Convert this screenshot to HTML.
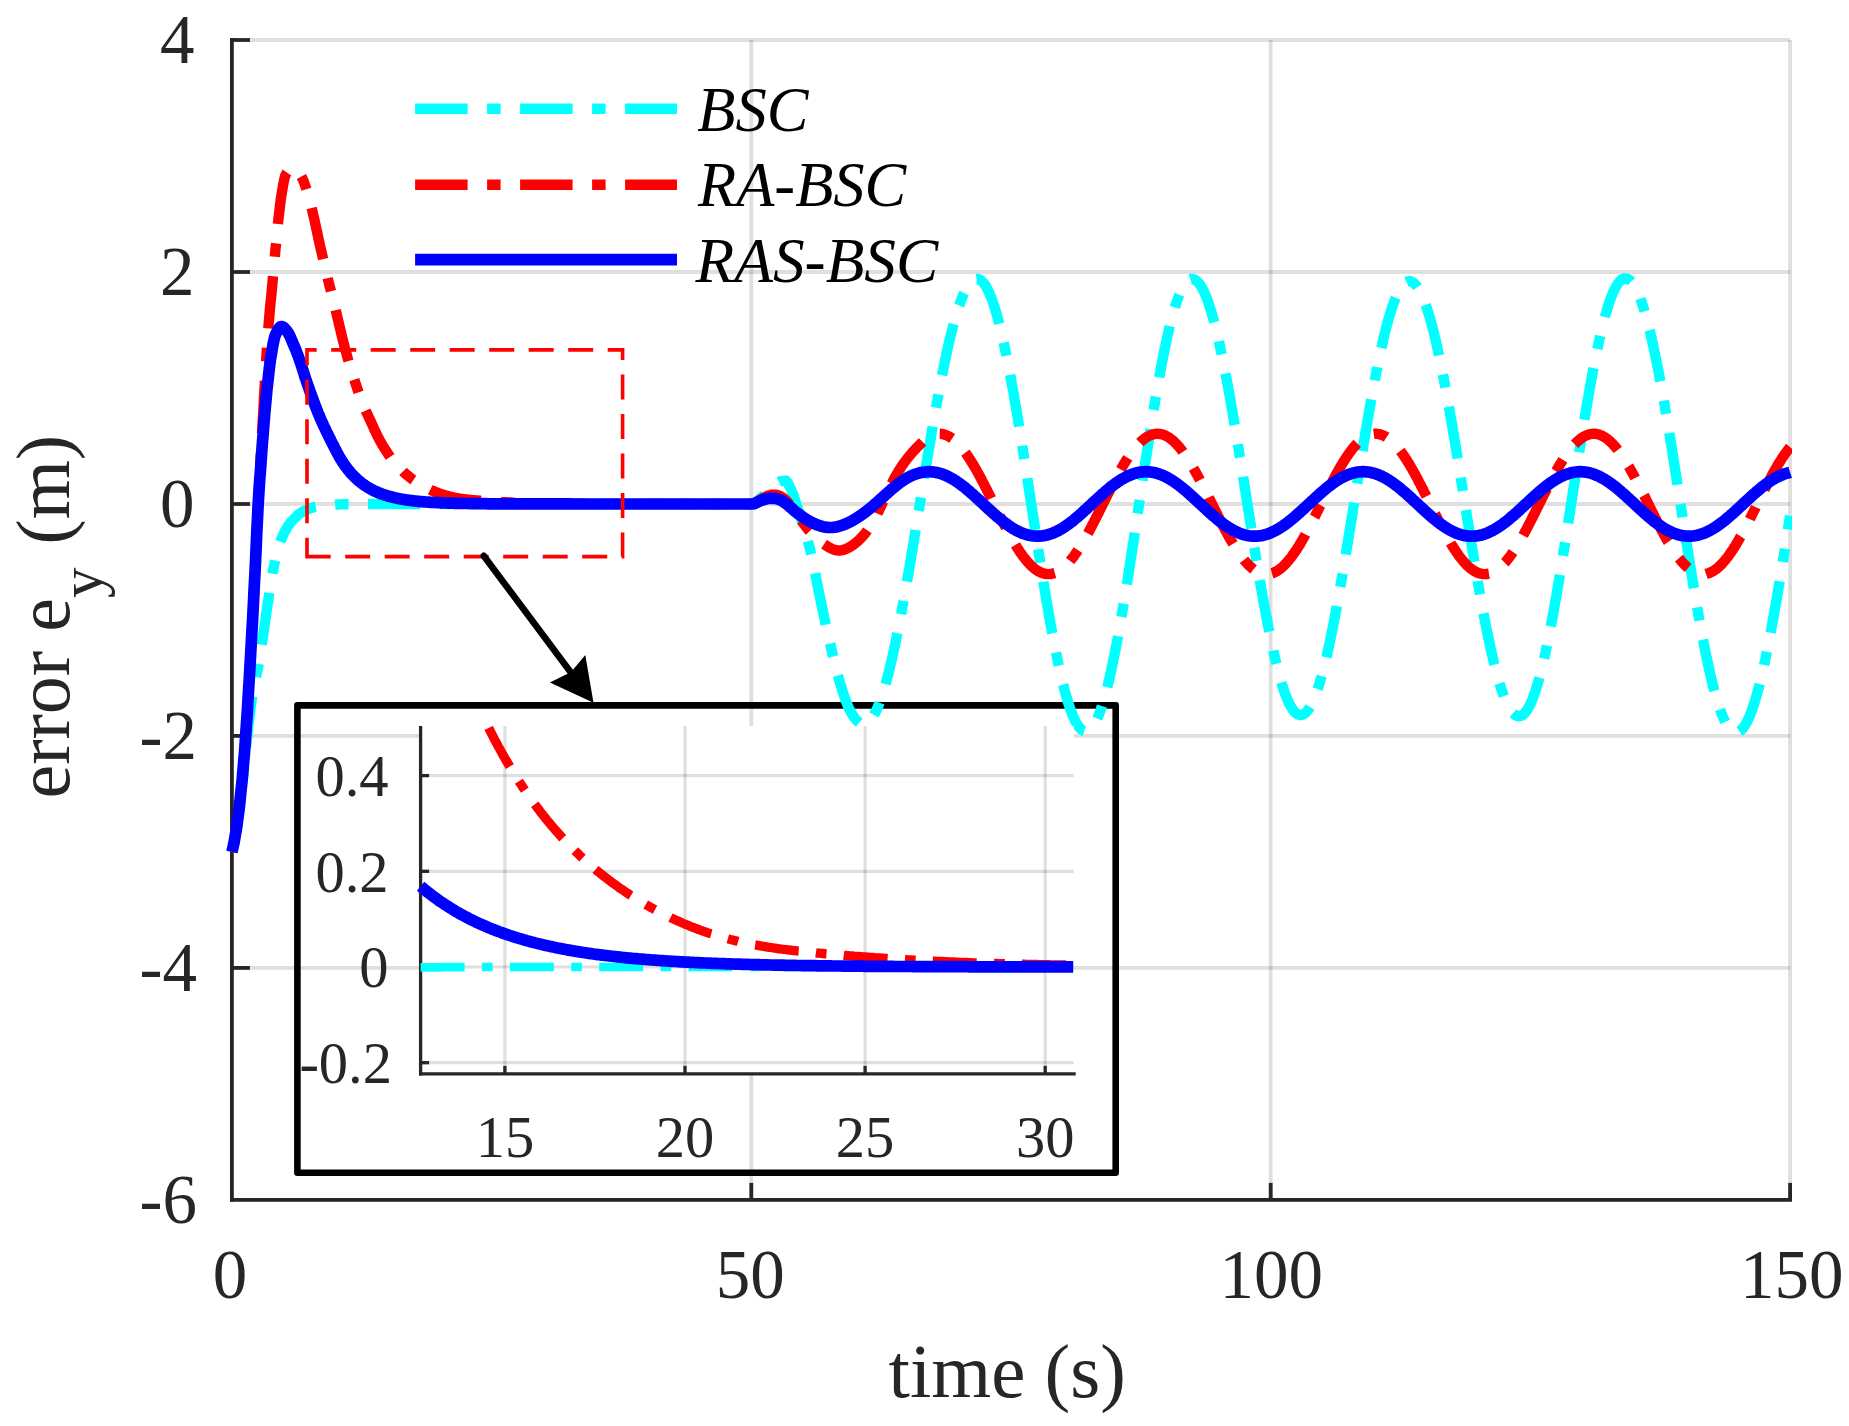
<!DOCTYPE html>
<html lang="en"><head><meta charset="utf-8"><title>error e_y</title>
<style>html,body{margin:0;padding:0;background:#fff}svg{display:block}text{font-family:"Liberation Serif",serif;fill:#262626}</style></head>
<body>
<svg width="1849" height="1426" viewBox="0 0 1849 1426">
<rect width="1849" height="1426" fill="#fff"/>
<defs>
<clipPath id="cm"><rect x="225.9" y="34.0" width="1566.1999999999998" height="1171.9"/></clipPath>
<clipPath id="ci"><rect x="408.6" y="726.0" width="665.1" height="347.79999999999995"/></clipPath>
</defs>
<g stroke="rgba(38,38,38,0.15)" stroke-width="3.8" fill="none">
<line x1="231.9" y1="40.0" x2="231.9" y2="1199.9"/>
<line x1="751.3" y1="40.0" x2="751.3" y2="1199.9"/>
<line x1="1270.7" y1="40.0" x2="1270.7" y2="1199.9"/>
<line x1="1790.1" y1="40.0" x2="1790.1" y2="1199.9"/>
<line x1="231.9" y1="40.0" x2="1790.1" y2="40.0"/>
<line x1="231.9" y1="272.0" x2="1790.1" y2="272.0"/>
<line x1="231.9" y1="504.0" x2="1790.1" y2="504.0"/>
<line x1="231.9" y1="735.9" x2="1790.1" y2="735.9"/>
<line x1="231.9" y1="967.9" x2="1790.1" y2="967.9"/>
<line x1="231.9" y1="1199.9" x2="1790.1" y2="1199.9"/>
</g>
<g stroke="#262626" stroke-width="3.8" fill="none" stroke-linecap="butt">
<path d="M231.9,38.1 V1201.8000000000002"/>
<path d="M230.0,1199.9 H1792.0"/>
<line x1="751.3" y1="1199.9" x2="751.3" y2="1182.9"/>
<line x1="1270.7" y1="1199.9" x2="1270.7" y2="1182.9"/>
<line x1="1790.1" y1="1199.9" x2="1790.1" y2="1182.9"/>
<line x1="231.9" y1="40.0" x2="249.9" y2="40.0"/>
<line x1="231.9" y1="272.0" x2="249.9" y2="272.0"/>
<line x1="231.9" y1="504.0" x2="249.9" y2="504.0"/>
<line x1="231.9" y1="735.9" x2="249.9" y2="735.9"/>
<line x1="231.9" y1="967.9" x2="249.9" y2="967.9"/>
</g>
<rect x="297.4" y="705.4" width="818.3" height="467.3" fill="none" stroke="#000" stroke-width="6.6" stroke-linejoin="round"/>
<g clip-path="url(#cm)" fill="none" stroke-width="10.4" stroke-linejoin="round">
<path d="M231.9,851.9 L232.5,849.6 L233.1,847.0 L233.8,844.1 L234.4,841.1 L235.0,837.9 L235.6,834.5 L236.3,831.0 L236.9,827.2 L237.5,823.1 L238.1,818.8 L238.8,814.2 L239.4,809.5 L240.0,804.5 L240.6,799.3 L241.2,793.8 L241.9,788.1 L242.5,782.2 L243.1,776.3 L243.7,770.4 L244.4,764.4 L245.0,758.2 L245.6,751.8 L246.2,745.5 L246.9,739.4 L247.5,733.6 L248.1,728.1 L248.7,722.7 L249.4,717.4 L250.0,712.3 L250.6,707.5 L251.2,703.0 L251.8,698.8 L252.5,695.0 L253.1,691.6 L253.7,688.3 L254.3,685.1 L255.0,682.1 L255.6,679.0 L256.2,675.9 L256.8,673.0 L257.5,670.1 L258.1,667.2 L258.7,664.0 L259.3,660.5 L259.9,656.7 L260.6,652.7 L261.2,648.5 L261.8,644.1 L262.4,639.8 L263.1,635.5 L263.7,631.3 L264.3,627.1 L264.9,622.8 L265.6,618.5 L266.2,614.2 L266.8,609.9 L267.4,605.7 L268.1,601.5 L268.7,597.4 L269.3,593.4 L269.9,589.4 L270.5,585.4 L271.2,581.4 L271.8,577.6 L272.4,574.0 L273.0,570.5 L273.7,567.3 L274.3,564.3 L274.9,561.4 L275.5,558.6 L276.2,555.9 L276.8,553.4 L277.4,551.1 L278.0,548.9 L278.6,546.9 L279.3,544.9 L279.9,543.0 L280.5,541.3 L281.1,539.7 L281.8,538.1 L282.4,536.7 L283.0,535.3 L283.6,533.9 L284.3,532.6 L284.9,531.4 L285.5,530.2 L286.1,529.1 L286.7,528.1 L287.4,527.1 L288.0,526.1 L288.6,525.2 L289.2,524.3 L289.9,523.5 L290.5,522.7 L291.1,521.9 L291.7,521.2 L292.4,520.5 L293.0,519.9 L293.6,519.2 L294.2,518.6 L294.9,518.0 L295.5,517.4 L296.1,516.8 L296.7,516.2 L297.3,515.6 L298.0,515.1 L298.6,514.6 L299.2,514.1 L299.8,513.6 L300.5,513.1 L301.1,512.7 L301.7,512.3 L302.3,511.9 L303.0,511.5 L303.6,511.2 L304.2,510.9 L304.8,510.6 L305.4,510.3 L306.1,510.0 L306.7,509.7 L307.3,509.5 L307.9,509.2 L308.6,508.9 L309.2,508.7 L309.8,508.4 L310.4,508.2 L311.1,508.0 L311.7,507.8 L312.3,507.6 L312.9,507.4 L313.5,507.3 L314.2,507.1 L314.8,507.0 L315.4,506.9 L316.0,506.8 L316.7,506.7 L317.3,506.6 L317.9,506.5 L318.5,506.4 L319.2,506.3 L319.8,506.2 L320.4,506.1 L321.0,506.0 L321.7,506.0 L322.3,505.9 L322.9,505.8 L323.5,505.7 L324.1,505.7 L324.8,505.6 L325.4,505.5 L326.0,505.4 L326.6,505.4 L327.3,505.3 L327.9,505.2 L328.5,505.2 L329.1,505.1 L329.8,505.1 L330.4,505.0 L331.0,505.0 L331.6,504.9 L332.2,504.8 L332.9,504.8 L333.5,504.8 L334.1,504.7 L334.7,504.7 L335.4,504.6 L336.0,504.6 L336.6,504.6 L337.2,504.5 L337.9,504.5 L338.5,504.5 L339.1,504.4 L339.7,504.4 L340.4,504.4 L341.0,504.4 L341.6,504.4 L342.2,504.3 L342.8,504.3 L343.5,504.3 L344.1,504.3 L344.7,504.3 L345.3,504.3 L346.0,504.3 L346.6,504.3 L347.2,504.3 L347.8,504.2 L348.5,504.2 L349.1,504.2 L349.7,504.2 L350.3,504.2 L350.9,504.2 L351.6,504.2 L352.2,504.2 L352.8,504.2 L353.4,504.2 L354.1,504.2 L354.7,504.2 L355.3,504.1 L355.9,504.1 L356.6,504.1 L357.2,504.1 L357.8,504.1 L358.4,504.1 L359.0,504.1 L359.7,504.1 L360.3,504.1 L360.9,504.1 L361.5,504.1 L362.2,504.1 L362.8,504.1 L363.4,504.1 L364.0,504.1 L364.7,504.1 L365.3,504.1 L365.9,504.0 L366.5,504.0 L367.2,504.0 L367.8,504.0 L368.4,504.0 L369.0,504.0 L369.6,504.0 L370.3,504.0 L370.9,504.0 L371.5,504.0 L372.1,504.0 L372.8,504.0 L373.4,504.0 L374.0,504.0 L374.6,504.0 L375.3,504.0 L375.9,504.0 L376.5,504.0 L377.1,504.0 L377.7,504.0 L378.4,504.0 L379.0,504.0 L379.6,504.0 L380.2,504.0 L380.9,504.0 L381.5,504.0 L382.1,504.0 L382.7,504.0 L383.4,504.0 L384.0,504.0 L384.6,504.0 L385.2,504.0 L385.9,504.0 L386.5,504.0 L387.1,504.0 L387.7,504.0 L388.3,504.0 L389.0,504.0 L389.6,504.0 L390.2,504.0 L390.8,504.0 L391.5,504.0 L392.1,504.0 L392.7,504.0 L393.3,504.0 L394.0,504.0 L394.6,504.0 L395.2,504.0 L395.8,504.0 L396.4,504.0 L397.1,504.0 L397.7,504.0 L398.3,504.0 L398.9,504.0 L399.6,504.0 L400.2,504.0 L400.8,504.0 L401.4,504.0 L402.1,504.0 L402.7,504.0 L403.3,504.0 L403.9,504.0 L404.5,504.0 L405.2,504.0 L405.8,504.0 L406.4,504.0 L407.0,504.0 L407.7,504.0 L408.3,504.0 L408.9,504.0 L409.5,504.0 L410.2,504.0 L410.8,504.0 L411.4,504.0 L412.0,504.0 L412.7,504.0 L413.3,504.0 L413.9,504.0 L414.5,504.0 L415.1,504.0 L415.8,504.0 L416.4,504.0 L417.0,504.0 L417.6,504.0 L418.3,504.0 L418.9,504.0 L419.5,504.0 L420.1,504.0 L420.8,504.0 L421.4,504.0 L422.0,504.0 L422.6,504.0 L423.2,504.0 L423.9,504.0 L424.5,504.0 L425.1,504.0 L425.7,504.0 L426.4,504.0 L427.0,504.0 L427.6,504.0 L428.2,504.0 L428.9,504.0 L429.5,504.0 L430.1,504.0 L430.7,504.0 L431.3,504.0 L432.0,504.0 L432.6,504.0 L433.2,504.0 L433.8,504.0 L434.5,504.0 L435.1,504.0 L435.7,504.0 L436.3,504.0 L437.0,504.0 L437.6,504.0 L438.2,504.0 L438.8,504.0 L439.5,504.0 L440.1,504.0 L440.7,504.0 L441.3,504.0 L441.9,504.0 L442.6,504.0 L443.2,504.0 L443.8,504.0 L444.4,504.0 L445.1,504.0 L445.7,504.0 L446.3,504.0 L446.9,504.0 L447.6,504.0 L448.2,504.0 L448.8,504.0 L449.4,504.0 L450.0,504.0 L450.7,504.0 L451.3,504.0 L451.9,504.0 L452.5,504.0 L453.2,504.0 L453.8,504.0 L454.4,504.0 L455.0,504.0 L455.7,504.0 L456.3,504.0 L456.9,504.0 L457.5,504.0 L458.2,504.0 L458.8,504.0 L459.4,504.0 L460.0,504.0 L460.6,504.0 L461.3,504.0 L461.9,504.0 L462.5,504.0 L463.1,504.0 L463.8,504.0 L464.4,504.0 L465.0,504.0 L465.6,504.0 L466.3,504.0 L466.9,504.0 L467.5,504.0 L468.1,504.0 L468.7,504.0 L469.4,504.0 L470.0,504.0 L470.6,504.0 L471.2,504.0 L471.9,504.0 L472.5,504.0 L473.1,504.0 L473.7,504.0 L474.4,504.0 L475.0,504.0 L475.6,504.0 L476.2,504.0 L476.8,504.0 L477.5,504.0 L478.1,504.0 L478.7,504.0 L479.3,504.0 L480.0,504.0 L480.6,504.0 L481.2,504.0 L481.8,504.0 L482.5,504.0 L483.1,504.0 L483.7,504.0 L484.3,504.0 L485.0,504.0 L485.6,504.0 L486.2,504.0 L486.8,504.0 L487.4,504.0 L488.1,504.0 L488.7,504.0 L489.3,504.0 L489.9,504.0 L490.6,504.0 L491.2,504.0 L491.8,504.0 L492.4,504.0 L493.1,504.0 L493.7,504.0 L494.3,504.0 L494.9,504.0 L495.5,504.0 L496.2,504.0 L496.8,504.0 L497.4,504.0 L498.0,504.0 L498.7,504.0 L499.3,504.0 L499.9,504.0 L500.5,504.0 L501.2,504.0 L501.8,504.0 L502.4,504.0 L503.0,504.0 L503.7,504.0 L504.3,504.0 L504.9,504.0 L505.5,504.0 L506.1,504.0 L506.8,504.0 L507.4,504.0 L508.0,504.0 L508.6,504.0 L509.3,504.0 L509.9,504.0 L510.5,504.0 L511.1,504.0 L511.8,504.0 L512.4,504.0 L513.0,504.0 L513.6,504.0 L514.2,504.0 L514.9,504.0 L515.5,504.0 L516.1,504.0 L516.7,504.0 L517.4,504.0 L518.0,504.0 L518.6,504.0 L519.2,504.0 L519.9,504.0 L520.5,504.0 L521.1,504.0 L521.7,504.0 L522.3,504.0 L523.0,504.0 L523.6,504.0 L524.2,504.0 L524.8,504.0 L525.5,504.0 L526.1,504.0 L526.7,504.0 L527.3,504.0 L528.0,504.0 L528.6,504.0 L529.2,504.0 L529.8,504.0 L530.5,504.0 L531.1,504.0 L531.7,504.0 L532.3,504.0 L532.9,504.0 L533.6,504.0 L534.2,504.0 L534.8,504.0 L535.4,504.0 L536.1,504.0 L536.7,504.0 L537.3,504.0 L537.9,504.0 L538.6,504.0 L539.2,504.0 L539.8,504.0 L540.4,504.0 L541.0,504.0 L541.7,504.0 L542.3,504.0 L542.9,504.0 L543.5,504.0 L544.2,504.0 L544.8,504.0 L545.4,504.0 L546.0,504.0 L546.7,504.0 L547.3,504.0 L547.9,504.0 L548.5,504.0 L549.1,504.0 L549.8,504.0 L550.4,504.0 L551.0,504.0 L551.6,504.0 L552.3,504.0 L552.9,504.0 L553.5,504.0 L554.1,504.0 L554.8,504.0 L555.4,504.0 L556.0,504.0 L556.6,504.0 L557.3,504.0 L557.9,504.0 L558.5,504.0 L559.1,504.0 L559.7,504.0 L560.4,504.0 L561.0,504.0 L561.6,504.0 L562.2,504.0 L562.9,504.0 L563.5,504.0 L564.1,504.0 L564.7,504.0 L565.4,504.0 L566.0,504.0 L566.6,504.0 L567.2,504.0 L567.8,504.0 L568.5,504.0 L569.1,504.0 L569.7,504.0 L570.3,504.0 L571.0,504.0 L571.6,504.0 L572.2,504.0 L572.8,504.0 L573.5,504.0 L574.1,504.0 L574.7,504.0 L575.3,504.0 L576.0,504.0 L576.6,504.0 L577.2,504.0 L577.8,504.0 L578.4,504.0 L579.1,504.0 L579.7,504.0 L580.3,504.0 L580.9,504.0 L581.6,504.0 L582.2,504.0 L582.8,504.0 L583.4,504.0 L584.1,504.0 L584.7,504.0 L585.3,504.0 L585.9,504.0 L586.5,504.0 L587.2,504.0 L587.8,504.0 L588.4,504.0 L589.0,504.0 L589.7,504.0 L590.3,504.0 L590.9,504.0 L591.5,504.0 L592.2,504.0 L592.8,504.0 L593.4,504.0 L594.0,504.0 L594.6,504.0 L595.3,504.0 L595.9,504.0 L596.5,504.0 L597.1,504.0 L597.8,504.0 L598.4,504.0 L599.0,504.0 L599.6,504.0 L600.3,504.0 L600.9,504.0 L601.5,504.0 L602.1,504.0 L602.8,504.0 L603.4,504.0 L604.0,504.0 L604.6,504.0 L605.2,504.0 L605.9,504.0 L606.5,504.0 L607.1,504.0 L607.7,504.0 L608.4,504.0 L609.0,504.0 L609.6,504.0 L610.2,504.0 L610.9,504.0 L611.5,504.0 L612.1,504.0 L612.7,504.0 L613.3,504.0 L614.0,504.0 L614.6,504.0 L615.2,504.0 L615.8,504.0 L616.5,504.0 L617.1,504.0 L617.7,504.0 L618.3,504.0 L619.0,504.0 L619.6,504.0 L620.2,504.0 L620.8,504.0 L621.4,504.0 L622.1,504.0 L622.7,504.0 L623.3,504.0 L623.9,504.0 L624.6,504.0 L625.2,504.0 L625.8,504.0 L626.4,504.0 L627.1,504.0 L627.7,504.0 L628.3,504.0 L628.9,504.0 L629.6,504.0 L630.2,504.0 L630.8,504.0 L631.4,504.0 L632.0,504.0 L632.7,504.0 L633.3,504.0 L633.9,504.0 L634.5,504.0 L635.2,504.0 L635.8,504.0 L636.4,504.0 L637.0,504.0 L637.7,504.0 L638.3,504.0 L638.9,504.0 L639.5,504.0 L640.1,504.0 L640.8,504.0 L641.4,504.0 L642.0,504.0 L642.6,504.0 L643.3,504.0 L643.9,504.0 L644.5,504.0 L645.1,504.0 L645.8,504.0 L646.4,504.0 L647.0,504.0 L647.6,504.0 L648.3,504.0 L648.9,504.0 L649.5,504.0 L650.1,504.0 L650.7,504.0 L651.4,504.0 L652.0,504.0 L652.6,504.0 L653.2,504.0 L653.9,504.0 L654.5,504.0 L655.1,504.0 L655.7,504.0 L656.4,504.0 L657.0,504.0 L657.6,504.0 L658.2,504.0 L658.8,504.0 L659.5,504.0 L660.1,504.0 L660.7,504.0 L661.3,504.0 L662.0,504.0 L662.6,504.0 L663.2,504.0 L663.8,504.0 L664.5,504.0 L665.1,504.0 L665.7,504.0 L666.3,504.0 L666.9,504.0 L667.6,504.0 L668.2,504.0 L668.8,504.0 L669.4,504.0 L670.1,504.0 L670.7,504.0 L671.3,504.0 L671.9,504.0 L672.6,504.0 L673.2,504.0 L673.8,504.0 L674.4,504.0 L675.1,504.0 L675.7,504.0 L676.3,504.0 L676.9,504.0 L677.5,504.0 L678.2,504.0 L678.8,504.0 L679.4,504.0 L680.0,504.0 L680.7,504.0 L681.3,504.0 L681.9,504.0 L682.5,504.0 L683.2,504.0 L683.8,504.0 L684.4,504.0 L685.0,504.0 L685.6,504.0 L686.3,504.0 L686.9,504.0 L687.5,504.0 L688.1,504.0 L688.8,504.0 L689.4,504.0 L690.0,504.0 L690.6,504.0 L691.3,504.0 L691.9,504.0 L692.5,504.0 L693.1,504.0 L693.8,504.0 L694.4,504.0 L695.0,504.0 L695.6,504.0 L696.2,504.0 L696.9,504.0 L697.5,504.0 L698.1,504.0 L698.7,504.0 L699.4,504.0 L700.0,504.0 L700.6,504.0 L701.2,504.0 L701.9,504.0 L702.5,504.0 L703.1,504.0 L703.7,504.0 L704.3,504.0 L705.0,504.0 L705.6,504.0 L706.2,504.0 L706.8,504.0 L707.5,504.0 L708.1,504.0 L708.7,504.0 L709.3,504.0 L710.0,504.0 L710.6,504.0 L711.2,504.0 L711.8,504.0 L712.4,504.0 L713.1,504.0 L713.7,504.0 L714.3,504.0 L714.9,504.0 L715.6,504.0 L716.2,504.0 L716.8,504.0 L717.4,504.0 L718.1,504.0 L718.7,504.0 L719.3,504.0 L719.9,504.0 L720.6,504.0 L721.2,504.0 L721.8,504.0 L722.4,504.0 L723.0,504.0 L723.7,504.0 L724.3,504.0 L724.9,504.0 L725.5,504.0 L726.2,504.0 L726.8,504.0 L727.4,504.0 L728.0,504.0 L728.7,504.0 L729.3,504.0 L729.9,504.0 L730.5,504.0 L731.1,504.0 L731.8,504.0 L732.4,504.0 L733.0,504.0 L733.6,504.0 L734.3,504.0 L734.9,504.0 L735.5,504.0 L736.1,504.0 L736.8,504.0 L737.4,504.0 L738.0,504.0 L738.6,504.0 L739.2,504.0 L739.9,504.0 L740.5,504.0 L741.1,504.0 L741.7,504.0 L742.4,504.0 L743.0,504.0 L743.6,504.0 L744.2,504.0 L744.9,504.0 L745.5,504.0 L746.1,504.0 L746.7,504.0 L747.4,504.0 L748.0,504.0 L748.6,504.0 L749.2,504.0 L749.8,504.0 L750.5,504.0 L751.1,504.0 L751.7,503.8 L752.3,503.6 L753.0,503.4 L753.6,503.2 L754.2,502.9 L754.8,502.6 L755.5,502.2 L756.1,501.8 L756.7,501.4 L757.3,500.9 L757.9,500.4 L758.6,499.9 L759.2,499.3 L759.8,498.7 L760.4,498.1 L761.1,497.6 L761.7,497.0 L762.3,496.5 L762.9,495.9 L763.6,495.4 L764.2,494.8 L764.8,494.2 L765.4,493.6 L766.1,493.1 L766.7,492.5 L767.3,491.9 L767.9,491.4 L768.5,490.8 L769.2,490.2 L769.8,489.7 L770.4,489.1 L771.0,488.6 L771.7,488.1 L772.3,487.5 L772.9,487.0 L773.5,486.4 L774.2,485.8 L774.8,485.2 L775.4,484.6 L776.0,484.1 L776.6,483.5 L777.3,483.0 L777.9,482.5 L778.5,482.1 L779.1,481.8 L779.8,481.5 L780.4,481.3 L781.0,481.2 L781.6,481.1 L782.3,481.0 L782.9,480.9 L783.5,480.9 L784.1,480.8 L784.7,480.8 L785.4,480.8 L786.0,480.8 L786.6,481.3 L787.2,482.0 L787.9,483.0 L788.5,484.1 L789.1,485.4 L789.7,486.7 L790.4,488.0 L791.0,489.3 L791.6,490.7 L792.2,492.2 L792.9,493.8 L793.5,495.5 L794.1,497.3 L794.7,499.1 L795.3,501.0 L796.0,502.8 L796.6,504.6 L797.2,506.5 L797.8,508.4 L798.5,510.4 L799.1,512.4 L799.7,514.4 L800.3,516.4 L801.0,518.4 L801.6,520.5 L802.2,522.6 L802.8,524.6 L803.4,526.7 L804.1,528.7 L804.7,530.8 L805.3,532.8 L805.9,534.8 L806.6,536.9 L807.2,539.0 L807.8,541.1 L808.4,543.3 L809.1,545.6 L809.7,547.9 L810.3,550.4 L810.9,552.9 L811.6,555.6 L812.2,558.4 L812.8,561.4 L813.4,564.4 L814.0,567.4 L814.7,570.6 L815.3,573.8 L815.9,577.0 L816.5,580.2 L817.2,583.4 L817.8,586.5 L818.4,589.7 L819.0,592.8 L819.7,595.8 L820.3,598.7 L820.9,601.7 L821.5,604.6 L822.1,607.5 L822.8,610.5 L823.4,613.4 L824.0,616.3 L824.6,619.2 L825.3,622.1 L825.9,624.9 L826.5,627.8 L827.1,630.6 L827.8,633.3 L828.4,636.1 L829.0,638.8 L829.6,641.5 L830.2,644.1 L830.9,646.8 L831.5,649.5 L832.1,652.2 L832.7,654.9 L833.4,657.5 L834.0,660.1 L834.6,662.7 L835.2,665.2 L835.9,667.7 L836.5,670.2 L837.1,672.6 L837.7,674.9 L838.4,677.1 L839.0,679.3 L839.6,681.4 L840.2,683.5 L840.8,685.5 L841.5,687.5 L842.1,689.5 L842.7,691.5 L843.3,693.4 L844.0,695.3 L844.6,697.2 L845.2,699.0 L845.8,700.7 L846.5,702.4 L847.1,704.0 L847.7,705.5 L848.3,707.0 L848.9,708.4 L849.6,709.6 L850.2,710.8 L850.8,711.9 L851.4,713.1 L852.1,714.1 L852.7,715.2 L853.3,716.1 L853.9,717.1 L854.6,717.9 L855.2,718.7 L855.8,719.5 L856.4,720.1 L857.0,720.7 L857.7,721.2 L858.3,721.7 L858.9,722.1 L859.5,722.6 L860.2,723.0 L860.8,723.3 L861.4,723.7 L862.0,723.9 L862.7,724.2 L863.3,724.3 L863.9,724.3 L864.5,724.2 L865.2,724.1 L865.8,723.9 L866.4,723.6 L867.0,723.3 L867.6,722.9 L868.3,722.4 L868.9,721.9 L869.5,721.3 L870.1,720.6 L870.8,719.8 L871.4,719.0 L872.0,718.2 L872.6,717.3 L873.3,716.3 L873.9,715.2 L874.5,714.1 L875.1,712.9 L875.7,711.7 L876.4,710.3 L877.0,709.0 L877.6,707.5 L878.2,706.0 L878.9,704.5 L879.5,702.9 L880.1,701.2 L880.7,699.5 L881.4,697.7 L882.0,695.8 L882.6,693.9 L883.2,691.9 L883.9,689.9 L884.5,687.8 L885.1,685.7 L885.7,683.5 L886.3,681.3 L887.0,679.0 L887.6,676.6 L888.2,674.2 L888.8,671.8 L889.5,669.3 L890.1,666.7 L890.7,664.1 L891.3,661.5 L892.0,658.8 L892.6,656.0 L893.2,653.2 L893.8,650.4 L894.4,647.5 L895.1,644.6 L895.7,641.6 L896.3,638.6 L896.9,635.6 L897.6,632.5 L898.2,629.4 L898.8,626.2 L899.4,623.0 L900.1,619.8 L900.7,616.5 L901.3,613.2 L901.9,609.8 L902.5,606.5 L903.2,603.1 L903.8,599.6 L904.4,596.2 L905.0,592.7 L905.7,589.2 L906.3,585.6 L906.9,582.0 L907.5,578.4 L908.2,574.8 L908.8,571.2 L909.4,567.5 L910.0,563.9 L910.7,560.2 L911.3,556.4 L911.9,552.7 L912.5,549.0 L913.1,545.2 L913.8,541.4 L914.4,537.6 L915.0,533.9 L915.6,530.0 L916.3,526.2 L916.9,522.4 L917.5,518.6 L918.1,514.8 L918.8,510.9 L919.4,507.1 L920.0,503.2 L920.6,499.4 L921.2,495.6 L921.9,491.7 L922.5,487.9 L923.1,484.1 L923.7,480.2 L924.4,476.4 L925.0,472.6 L925.6,468.8 L926.2,465.0 L926.9,461.2 L927.5,457.4 L928.1,453.7 L928.7,449.9 L929.4,446.2 L930.0,442.5 L930.6,438.8 L931.2,435.1 L931.8,431.5 L932.5,427.8 L933.1,424.2 L933.7,420.6 L934.3,417.1 L935.0,413.5 L935.6,410.0 L936.2,406.5 L936.8,403.1 L937.5,399.7 L938.1,396.3 L938.7,392.9 L939.3,389.6 L939.9,386.2 L940.6,383.0 L941.2,379.7 L941.8,376.6 L942.4,373.4 L943.1,370.3 L943.7,367.2 L944.3,364.2 L944.9,361.2 L945.6,358.2 L946.2,355.3 L946.8,352.4 L947.4,349.6 L948.0,346.8 L948.7,344.1 L949.3,341.4 L949.9,338.7 L950.5,336.1 L951.2,333.6 L951.8,331.1 L952.4,328.6 L953.0,326.3 L953.7,323.9 L954.3,321.6 L954.9,319.4 L955.5,317.2 L956.2,315.1 L956.8,313.0 L957.4,311.0 L958.0,309.0 L958.6,307.1 L959.3,305.3 L959.9,303.5 L960.5,301.8 L961.1,300.1 L961.8,298.5 L962.4,297.0 L963.0,295.5 L963.6,294.1 L964.3,292.7 L964.9,291.4 L965.5,290.2 L966.1,289.0 L966.7,287.9 L967.4,286.8 L968.0,285.9 L968.6,284.9 L969.2,284.1 L969.9,283.3 L970.5,282.6 L971.1,281.9 L971.7,281.3 L972.4,280.8 L973.0,280.3 L973.6,279.9 L974.2,279.6 L974.8,279.3 L975.5,279.1 L976.1,279.0 L976.7,278.9 L977.3,278.9 L978.0,279.0 L978.6,279.2 L979.2,279.4 L979.8,279.7 L980.5,280.0 L981.1,280.5 L981.7,281.0 L982.3,281.6 L983.0,282.2 L983.6,283.0 L984.2,283.8 L984.8,284.6 L985.4,285.6 L986.1,286.6 L986.7,287.7 L987.3,288.8 L987.9,290.1 L988.6,291.4 L989.2,292.7 L989.8,294.2 L990.4,295.7 L991.1,297.2 L991.7,298.9 L992.3,300.6 L992.9,302.4 L993.5,304.2 L994.2,306.1 L994.8,308.1 L995.4,310.1 L996.0,312.2 L996.7,314.3 L997.3,316.6 L997.9,318.8 L998.5,321.2 L999.2,323.6 L999.8,326.0 L1000.4,328.6 L1001.0,331.1 L1001.7,333.8 L1002.3,336.4 L1002.9,339.2 L1003.5,342.0 L1004.1,344.8 L1004.8,347.7 L1005.4,350.7 L1006.0,353.7 L1006.6,356.7 L1007.3,359.8 L1007.9,363.0 L1008.5,366.2 L1009.1,369.4 L1009.8,372.7 L1010.4,376.0 L1011.0,379.4 L1011.6,382.8 L1012.2,386.2 L1012.9,389.7 L1013.5,393.2 L1014.1,396.8 L1014.7,400.4 L1015.4,404.0 L1016.0,407.6 L1016.6,411.3 L1017.2,415.0 L1017.9,418.8 L1018.5,422.6 L1019.1,426.4 L1019.7,430.2 L1020.3,434.1 L1021.0,437.9 L1021.6,441.8 L1022.2,445.8 L1022.8,449.7 L1023.5,453.7 L1024.1,457.6 L1024.7,461.6 L1025.3,465.6 L1026.0,469.6 L1026.6,473.7 L1027.2,477.7 L1027.8,481.7 L1028.5,485.8 L1029.1,489.9 L1029.7,493.9 L1030.3,498.0 L1030.9,502.1 L1031.6,506.1 L1032.2,510.2 L1032.8,514.3 L1033.4,518.3 L1034.1,522.4 L1034.7,526.5 L1035.3,530.5 L1035.9,534.6 L1036.6,538.6 L1037.2,542.6 L1037.8,546.6 L1038.4,550.6 L1039.0,554.6 L1039.7,558.6 L1040.3,562.5 L1040.9,566.4 L1041.5,570.4 L1042.2,574.2 L1042.8,578.1 L1043.4,581.9 L1044.0,585.8 L1044.7,589.6 L1045.3,593.3 L1045.9,597.1 L1046.5,600.8 L1047.2,604.4 L1047.8,608.1 L1048.4,611.7 L1049.0,615.3 L1049.6,618.8 L1050.3,622.3 L1050.9,625.8 L1051.5,629.2 L1052.1,632.6 L1052.8,635.9 L1053.4,639.2 L1054.0,642.5 L1054.6,645.7 L1055.3,648.9 L1055.9,652.0 L1056.5,655.0 L1057.1,658.1 L1057.7,661.0 L1058.4,664.0 L1059.0,666.8 L1059.6,669.7 L1060.2,672.4 L1060.9,675.1 L1061.5,677.8 L1062.1,680.4 L1062.7,682.9 L1063.4,685.4 L1064.0,687.9 L1064.6,690.2 L1065.2,692.5 L1065.8,694.8 L1066.5,697.0 L1067.1,699.1 L1067.7,701.2 L1068.3,703.2 L1069.0,705.1 L1069.6,707.0 L1070.2,708.8 L1070.8,710.5 L1071.5,712.2 L1072.1,713.8 L1072.7,715.3 L1073.3,716.8 L1074.0,718.2 L1074.6,719.5 L1075.2,720.8 L1075.8,722.0 L1076.4,723.1 L1077.1,724.2 L1077.7,725.1 L1078.3,726.0 L1078.9,726.9 L1079.6,727.6 L1080.2,728.3 L1080.8,729.0 L1081.4,729.5 L1082.1,730.0 L1082.7,730.4 L1083.3,730.7 L1083.9,731.0 L1084.5,731.2 L1085.2,731.3 L1085.8,731.3 L1086.4,731.3 L1087.0,731.1 L1087.7,731.0 L1088.3,730.7 L1088.9,730.3 L1089.5,729.9 L1090.2,729.4 L1090.8,728.8 L1091.4,728.2 L1092.0,727.5 L1092.6,726.7 L1093.3,725.8 L1093.9,724.8 L1094.5,723.8 L1095.1,722.7 L1095.8,721.5 L1096.4,720.3 L1097.0,719.0 L1097.6,717.6 L1098.3,716.1 L1098.9,714.6 L1099.5,713.0 L1100.1,711.3 L1100.8,709.5 L1101.4,707.7 L1102.0,705.8 L1102.6,703.9 L1103.2,701.9 L1103.9,699.8 L1104.5,697.6 L1105.1,695.4 L1105.7,693.1 L1106.4,690.8 L1107.0,688.3 L1107.6,685.9 L1108.2,683.3 L1108.9,680.7 L1109.5,678.1 L1110.1,675.4 L1110.7,672.6 L1111.3,669.8 L1112.0,666.9 L1112.6,663.9 L1113.2,661.0 L1113.8,657.9 L1114.5,654.8 L1115.1,651.7 L1115.7,648.5 L1116.3,645.2 L1117.0,641.9 L1117.6,638.6 L1118.2,635.2 L1118.8,631.8 L1119.5,628.3 L1120.1,624.8 L1120.7,621.2 L1121.3,617.6 L1121.9,614.0 L1122.6,610.3 L1123.2,606.6 L1123.8,602.9 L1124.4,599.1 L1125.1,595.3 L1125.7,591.4 L1126.3,587.6 L1126.9,583.7 L1127.6,579.8 L1128.2,575.8 L1128.8,571.8 L1129.4,567.8 L1130.0,563.8 L1130.7,559.8 L1131.3,555.7 L1131.9,551.7 L1132.5,547.6 L1133.2,543.5 L1133.8,539.4 L1134.4,535.2 L1135.0,531.1 L1135.7,527.0 L1136.3,522.8 L1136.9,518.7 L1137.5,514.5 L1138.1,510.3 L1138.8,506.2 L1139.4,502.0 L1140.0,497.8 L1140.6,493.7 L1141.3,489.5 L1141.9,485.3 L1142.5,481.2 L1143.1,477.1 L1143.8,472.9 L1144.4,468.8 L1145.0,464.7 L1145.6,460.6 L1146.3,456.5 L1146.9,452.5 L1147.5,448.4 L1148.1,444.4 L1148.7,440.4 L1149.4,436.4 L1150.0,432.5 L1150.6,428.5 L1151.2,424.6 L1151.9,420.7 L1152.5,416.9 L1153.1,413.1 L1153.7,409.3 L1154.4,405.5 L1155.0,401.8 L1155.6,398.1 L1156.2,394.4 L1156.8,390.8 L1157.5,387.3 L1158.1,383.7 L1158.7,380.2 L1159.3,376.8 L1160.0,373.4 L1160.6,370.0 L1161.2,366.7 L1161.8,363.4 L1162.5,360.2 L1163.1,357.0 L1163.7,353.9 L1164.3,350.8 L1165.0,347.8 L1165.6,344.8 L1166.2,341.9 L1166.8,339.0 L1167.4,336.2 L1168.1,333.5 L1168.7,330.8 L1169.3,328.2 L1169.9,325.6 L1170.6,323.1 L1171.2,320.7 L1171.8,318.3 L1172.4,316.0 L1173.1,313.7 L1173.7,311.5 L1174.3,309.4 L1174.9,307.4 L1175.5,305.4 L1176.2,303.4 L1176.8,301.6 L1177.4,299.8 L1178.0,298.1 L1178.7,296.5 L1179.3,294.9 L1179.9,293.4 L1180.5,292.0 L1181.2,290.6 L1181.8,289.3 L1182.4,288.1 L1183.0,287.0 L1183.6,285.9 L1184.3,284.9 L1184.9,284.0 L1185.5,283.2 L1186.1,282.4 L1186.8,281.7 L1187.4,281.1 L1188.0,280.6 L1188.6,280.1 L1189.3,279.7 L1189.9,279.4 L1190.5,279.2 L1191.1,279.0 L1191.8,278.9 L1192.4,278.9 L1193.0,279.0 L1193.6,279.2 L1194.2,279.4 L1194.9,279.7 L1195.5,280.0 L1196.1,280.4 L1196.7,280.9 L1197.4,281.5 L1198.0,282.1 L1198.6,282.8 L1199.2,283.6 L1199.9,284.5 L1200.5,285.4 L1201.1,286.4 L1201.7,287.4 L1202.3,288.5 L1203.0,289.7 L1203.6,291.0 L1204.2,292.3 L1204.8,293.7 L1205.5,295.2 L1206.1,296.7 L1206.7,298.3 L1207.3,299.9 L1208.0,301.6 L1208.6,303.4 L1209.2,305.3 L1209.8,307.2 L1210.4,309.1 L1211.1,311.2 L1211.7,313.3 L1212.3,315.4 L1212.9,317.6 L1213.6,319.9 L1214.2,322.2 L1214.8,324.6 L1215.4,327.0 L1216.1,329.5 L1216.7,332.1 L1217.3,334.7 L1217.9,337.3 L1218.6,340.0 L1219.2,342.8 L1219.8,345.6 L1220.4,348.5 L1221.0,351.4 L1221.7,354.3 L1222.3,357.3 L1222.9,360.4 L1223.5,363.5 L1224.2,366.6 L1224.8,369.8 L1225.4,373.0 L1226.0,376.3 L1226.7,379.6 L1227.3,382.9 L1227.9,386.3 L1228.5,389.7 L1229.1,393.1 L1229.8,396.6 L1230.4,400.1 L1231.0,403.7 L1231.6,407.2 L1232.3,410.8 L1232.9,414.5 L1233.5,418.1 L1234.1,421.8 L1234.8,425.5 L1235.4,429.2 L1236.0,433.0 L1236.6,436.8 L1237.3,440.6 L1237.9,444.4 L1238.5,448.2 L1239.1,452.0 L1239.7,455.9 L1240.4,459.8 L1241.0,463.7 L1241.6,467.6 L1242.2,471.5 L1242.9,475.4 L1243.5,479.3 L1244.1,483.2 L1244.7,487.2 L1245.4,491.1 L1246.0,495.0 L1246.6,499.0 L1247.2,502.9 L1247.8,506.8 L1248.5,510.8 L1249.1,514.7 L1249.7,518.6 L1250.3,522.5 L1251.0,526.4 L1251.6,530.3 L1252.2,534.2 L1252.8,538.1 L1253.5,542.0 L1254.1,545.8 L1254.7,549.6 L1255.3,553.4 L1255.9,557.2 L1256.6,561.0 L1257.2,564.8 L1257.8,568.5 L1258.4,572.2 L1259.1,575.9 L1259.7,579.5 L1260.3,583.2 L1260.9,586.8 L1261.6,590.3 L1262.2,593.9 L1262.8,597.4 L1263.4,600.9 L1264.1,604.3 L1264.7,607.7 L1265.3,611.1 L1265.9,614.4 L1266.5,617.7 L1267.2,621.0 L1267.8,624.2 L1268.4,627.4 L1269.0,630.5 L1269.7,633.6 L1270.3,636.7 L1270.9,639.7 L1271.5,642.6 L1272.2,645.5 L1272.8,648.4 L1273.4,651.2 L1274.0,654.0 L1274.6,656.7 L1275.3,659.3 L1275.9,661.9 L1276.5,664.5 L1277.1,667.0 L1277.8,669.4 L1278.4,671.8 L1279.0,674.1 L1279.6,676.4 L1280.3,678.6 L1280.9,680.7 L1281.5,682.8 L1282.1,684.9 L1282.8,686.8 L1283.4,688.7 L1284.0,690.6 L1284.6,692.4 L1285.2,694.1 L1285.9,695.7 L1286.5,697.3 L1287.1,698.8 L1287.7,700.3 L1288.4,701.7 L1289.0,703.0 L1289.6,704.3 L1290.2,705.5 L1290.9,706.6 L1291.5,707.6 L1292.1,708.6 L1292.7,709.5 L1293.3,710.4 L1294.0,711.2 L1294.6,711.9 L1295.2,712.5 L1295.8,713.1 L1296.5,713.6 L1297.1,714.0 L1297.7,714.3 L1298.3,714.6 L1299.0,714.8 L1299.6,715.0 L1300.2,715.1 L1300.8,715.1 L1301.4,715.0 L1302.1,714.8 L1302.7,714.6 L1303.3,714.4 L1303.9,714.0 L1304.6,713.6 L1305.2,713.1 L1305.8,712.5 L1306.4,711.9 L1307.1,711.2 L1307.7,710.4 L1308.3,709.6 L1308.9,708.7 L1309.6,707.7 L1310.2,706.7 L1310.8,705.6 L1311.4,704.4 L1312.0,703.1 L1312.7,701.8 L1313.3,700.5 L1313.9,699.0 L1314.5,697.5 L1315.2,695.9 L1315.8,694.3 L1316.4,692.6 L1317.0,690.8 L1317.7,689.0 L1318.3,687.1 L1318.9,685.2 L1319.5,683.2 L1320.1,681.1 L1320.8,679.0 L1321.4,676.8 L1322.0,674.6 L1322.6,672.2 L1323.3,669.9 L1323.9,667.5 L1324.5,665.0 L1325.1,662.5 L1325.8,659.9 L1326.4,657.3 L1327.0,654.6 L1327.6,651.9 L1328.2,649.1 L1328.9,646.3 L1329.5,643.4 L1330.1,640.5 L1330.7,637.5 L1331.4,634.5 L1332.0,631.4 L1332.6,628.3 L1333.2,625.2 L1333.9,622.0 L1334.5,618.8 L1335.1,615.5 L1335.7,612.2 L1336.4,608.9 L1337.0,605.5 L1337.6,602.1 L1338.2,598.6 L1338.8,595.2 L1339.5,591.6 L1340.1,588.1 L1340.7,584.5 L1341.3,580.9 L1342.0,577.3 L1342.6,573.7 L1343.2,570.0 L1343.8,566.3 L1344.5,562.6 L1345.1,558.8 L1345.7,555.1 L1346.3,551.3 L1346.9,547.5 L1347.6,543.7 L1348.2,539.9 L1348.8,536.0 L1349.4,532.2 L1350.1,528.3 L1350.7,524.5 L1351.3,520.6 L1351.9,516.7 L1352.6,512.8 L1353.2,508.9 L1353.8,505.0 L1354.4,501.1 L1355.1,497.2 L1355.7,493.3 L1356.3,489.4 L1356.9,485.5 L1357.5,481.6 L1358.2,477.7 L1358.8,473.8 L1359.4,469.9 L1360.0,466.1 L1360.7,462.2 L1361.3,458.4 L1361.9,454.5 L1362.5,450.7 L1363.2,446.9 L1363.8,443.1 L1364.4,439.4 L1365.0,435.6 L1365.6,431.9 L1366.3,428.2 L1366.9,424.5 L1367.5,420.8 L1368.1,417.2 L1368.8,413.6 L1369.4,410.0 L1370.0,406.4 L1370.6,402.9 L1371.3,399.4 L1371.9,396.0 L1372.5,392.5 L1373.1,389.1 L1373.7,385.8 L1374.4,382.5 L1375.0,379.2 L1375.6,375.9 L1376.2,372.7 L1376.9,369.6 L1377.5,366.4 L1378.1,363.4 L1378.7,360.3 L1379.4,357.3 L1380.0,354.4 L1380.6,351.5 L1381.2,348.6 L1381.9,345.8 L1382.5,343.1 L1383.1,340.4 L1383.7,337.7 L1384.3,335.1 L1385.0,332.6 L1385.6,330.1 L1386.2,327.6 L1386.8,325.2 L1387.5,322.9 L1388.1,320.6 L1388.7,318.4 L1389.3,316.3 L1390.0,314.2 L1390.6,312.1 L1391.2,310.2 L1391.8,308.2 L1392.4,306.4 L1393.1,304.6 L1393.7,302.9 L1394.3,301.2 L1394.9,299.6 L1395.6,298.1 L1396.2,296.6 L1396.8,295.2 L1397.4,293.8 L1398.1,292.5 L1398.7,291.3 L1399.3,290.2 L1399.9,289.1 L1400.5,288.1 L1401.2,287.2 L1401.8,286.3 L1402.4,285.5 L1403.0,284.8 L1403.7,284.1 L1404.3,283.5 L1404.9,283.0 L1405.5,282.5 L1406.2,282.1 L1406.8,281.8 L1407.4,281.6 L1408.0,281.4 L1408.7,281.3 L1409.3,281.3 L1409.9,281.3 L1410.5,281.4 L1411.1,281.6 L1411.8,281.8 L1412.4,282.1 L1413.0,282.5 L1413.6,283.0 L1414.3,283.5 L1414.9,284.1 L1415.5,284.7 L1416.1,285.4 L1416.8,286.2 L1417.4,287.1 L1418.0,288.0 L1418.6,289.0 L1419.2,290.1 L1419.9,291.2 L1420.5,292.4 L1421.1,293.6 L1421.7,295.0 L1422.4,296.4 L1423.0,297.8 L1423.6,299.3 L1424.2,300.9 L1424.9,302.6 L1425.5,304.3 L1426.1,306.0 L1426.7,307.9 L1427.4,309.8 L1428.0,311.7 L1428.6,313.7 L1429.2,315.8 L1429.8,317.9 L1430.5,320.1 L1431.1,322.3 L1431.7,324.6 L1432.3,327.0 L1433.0,329.4 L1433.6,331.9 L1434.2,334.4 L1434.8,336.9 L1435.5,339.6 L1436.1,342.2 L1436.7,345.0 L1437.3,347.7 L1437.9,350.5 L1438.6,353.4 L1439.2,356.3 L1439.8,359.3 L1440.4,362.3 L1441.1,365.3 L1441.7,368.4 L1442.3,371.5 L1442.9,374.7 L1443.6,377.9 L1444.2,381.2 L1444.8,384.4 L1445.4,387.8 L1446.0,391.1 L1446.7,394.5 L1447.3,397.9 L1447.9,401.4 L1448.5,404.9 L1449.2,408.4 L1449.8,411.9 L1450.4,415.5 L1451.0,419.1 L1451.7,422.7 L1452.3,426.4 L1452.9,430.1 L1453.5,433.8 L1454.2,437.5 L1454.8,441.2 L1455.4,445.0 L1456.0,448.7 L1456.6,452.5 L1457.3,456.3 L1457.9,460.1 L1458.5,464.0 L1459.1,467.8 L1459.8,471.6 L1460.4,475.5 L1461.0,479.4 L1461.6,483.2 L1462.3,487.1 L1462.9,491.0 L1463.5,494.9 L1464.1,498.7 L1464.7,502.6 L1465.4,506.5 L1466.0,510.4 L1466.6,514.3 L1467.2,518.1 L1467.9,522.0 L1468.5,525.8 L1469.1,529.7 L1469.7,533.5 L1470.4,537.4 L1471.0,541.2 L1471.6,545.0 L1472.2,548.8 L1472.9,552.5 L1473.5,556.3 L1474.1,560.0 L1474.7,563.7 L1475.3,567.4 L1476.0,571.1 L1476.6,574.7 L1477.2,578.4 L1477.8,582.0 L1478.5,585.5 L1479.1,589.1 L1479.7,592.6 L1480.3,596.1 L1481.0,599.5 L1481.6,603.0 L1482.2,606.4 L1482.8,609.7 L1483.4,613.0 L1484.1,616.3 L1484.7,619.6 L1485.3,622.8 L1485.9,625.9 L1486.6,629.1 L1487.2,632.2 L1487.8,635.2 L1488.4,638.2 L1489.1,641.2 L1489.7,644.1 L1490.3,646.9 L1490.9,649.8 L1491.5,652.5 L1492.2,655.2 L1492.8,657.9 L1493.4,660.5 L1494.0,663.1 L1494.7,665.6 L1495.3,668.1 L1495.9,670.5 L1496.5,672.8 L1497.2,675.1 L1497.8,677.4 L1498.4,679.6 L1499.0,681.7 L1499.7,683.8 L1500.3,685.8 L1500.9,687.7 L1501.5,689.6 L1502.1,691.4 L1502.8,693.2 L1503.4,694.9 L1504.0,696.6 L1504.6,698.1 L1505.3,699.7 L1505.9,701.1 L1506.5,702.5 L1507.1,703.8 L1507.8,705.1 L1508.4,706.3 L1509.0,707.4 L1509.6,708.5 L1510.2,709.5 L1510.9,710.4 L1511.5,711.3 L1512.1,712.0 L1512.7,712.8 L1513.4,713.4 L1514.0,714.0 L1514.6,714.5 L1515.2,715.0 L1515.9,715.4 L1516.5,715.7 L1517.1,715.9 L1517.7,716.1 L1518.3,716.2 L1519.0,716.2 L1519.6,716.2 L1520.2,716.1 L1520.8,715.9 L1521.5,715.6 L1522.1,715.3 L1522.7,714.9 L1523.3,714.4 L1524.0,713.9 L1524.6,713.2 L1525.2,712.5 L1525.8,711.7 L1526.5,710.9 L1527.1,710.0 L1527.7,709.0 L1528.3,707.9 L1528.9,706.8 L1529.6,705.6 L1530.2,704.3 L1530.8,703.0 L1531.4,701.6 L1532.1,700.1 L1532.7,698.5 L1533.3,696.9 L1533.9,695.2 L1534.6,693.4 L1535.2,691.6 L1535.8,689.7 L1536.4,687.8 L1537.0,685.8 L1537.7,683.7 L1538.3,681.5 L1538.9,679.3 L1539.5,677.1 L1540.2,674.7 L1540.8,672.3 L1541.4,669.9 L1542.0,667.4 L1542.7,664.8 L1543.3,662.2 L1543.9,659.5 L1544.5,656.8 L1545.2,654.0 L1545.8,651.1 L1546.4,648.3 L1547.0,645.3 L1547.6,642.3 L1548.3,639.3 L1548.9,636.2 L1549.5,633.0 L1550.1,629.9 L1550.8,626.6 L1551.4,623.4 L1552.0,620.0 L1552.6,616.7 L1553.3,613.3 L1553.9,609.8 L1554.5,606.4 L1555.1,602.9 L1555.7,599.3 L1556.4,595.7 L1557.0,592.1 L1557.6,588.5 L1558.2,584.8 L1558.9,581.1 L1559.5,577.3 L1560.1,573.6 L1560.7,569.8 L1561.4,566.0 L1562.0,562.1 L1562.6,558.3 L1563.2,554.4 L1563.8,550.5 L1564.5,546.6 L1565.1,542.6 L1565.7,538.7 L1566.3,534.7 L1567.0,530.7 L1567.6,526.8 L1568.2,522.8 L1568.8,518.7 L1569.5,514.7 L1570.1,510.7 L1570.7,506.7 L1571.3,502.7 L1572.0,498.6 L1572.6,494.6 L1573.2,490.6 L1573.8,486.5 L1574.4,482.5 L1575.1,478.5 L1575.7,474.5 L1576.3,470.5 L1576.9,466.5 L1577.6,462.5 L1578.2,458.5 L1578.8,454.6 L1579.4,450.6 L1580.1,446.7 L1580.7,442.8 L1581.3,438.9 L1581.9,435.0 L1582.5,431.2 L1583.2,427.3 L1583.8,423.5 L1584.4,419.8 L1585.0,416.0 L1585.7,412.3 L1586.3,408.6 L1586.9,404.9 L1587.5,401.3 L1588.2,397.7 L1588.8,394.1 L1589.4,390.6 L1590.0,387.1 L1590.7,383.6 L1591.3,380.2 L1591.9,376.8 L1592.5,373.4 L1593.1,370.1 L1593.8,366.9 L1594.4,363.7 L1595.0,360.5 L1595.6,357.4 L1596.3,354.3 L1596.9,351.3 L1597.5,348.3 L1598.1,345.4 L1598.8,342.5 L1599.4,339.7 L1600.0,336.9 L1600.6,334.2 L1601.2,331.5 L1601.9,328.9 L1602.5,326.4 L1603.1,323.9 L1603.7,321.4 L1604.4,319.1 L1605.0,316.8 L1605.6,314.5 L1606.2,312.3 L1606.9,310.2 L1607.5,308.1 L1608.1,306.1 L1608.7,304.2 L1609.3,302.3 L1610.0,300.5 L1610.6,298.8 L1611.2,297.1 L1611.8,295.5 L1612.5,294.0 L1613.1,292.5 L1613.7,291.2 L1614.3,289.8 L1615.0,288.6 L1615.6,287.4 L1616.2,286.3 L1616.8,285.3 L1617.5,284.3 L1618.1,283.4 L1618.7,282.6 L1619.3,281.8 L1619.9,281.1 L1620.6,280.5 L1621.2,280.0 L1621.8,279.5 L1622.4,279.2 L1623.1,278.9 L1623.7,278.6 L1624.3,278.5 L1624.9,278.4 L1625.6,278.4 L1626.2,278.4 L1626.8,278.6 L1627.4,278.8 L1628.0,279.0 L1628.7,279.4 L1629.3,279.8 L1629.9,280.3 L1630.5,280.8 L1631.2,281.4 L1631.8,282.1 L1632.4,282.9 L1633.0,283.7 L1633.7,284.6 L1634.3,285.6 L1634.9,286.7 L1635.5,287.8 L1636.1,288.9 L1636.8,290.2 L1637.4,291.5 L1638.0,292.9 L1638.6,294.3 L1639.3,295.8 L1639.9,297.4 L1640.5,299.1 L1641.1,300.8 L1641.8,302.5 L1642.4,304.4 L1643.0,306.3 L1643.6,308.2 L1644.3,310.2 L1644.9,312.3 L1645.5,314.5 L1646.1,316.7 L1646.7,318.9 L1647.4,321.3 L1648.0,323.6 L1648.6,326.1 L1649.2,328.6 L1649.9,331.1 L1650.5,333.7 L1651.1,336.4 L1651.7,339.1 L1652.4,341.8 L1653.0,344.6 L1653.6,347.5 L1654.2,350.4 L1654.8,353.4 L1655.5,356.4 L1656.1,359.4 L1656.7,362.5 L1657.3,365.6 L1658.0,368.8 L1658.6,372.1 L1659.2,375.3 L1659.8,378.6 L1660.5,382.0 L1661.1,385.4 L1661.7,388.8 L1662.3,392.3 L1663.0,395.8 L1663.6,399.3 L1664.2,402.9 L1664.8,406.5 L1665.4,410.1 L1666.1,413.8 L1666.7,417.4 L1667.3,421.2 L1667.9,424.9 L1668.6,428.7 L1669.2,432.5 L1669.8,436.3 L1670.4,440.1 L1671.1,444.0 L1671.7,447.8 L1672.3,451.7 L1672.9,455.6 L1673.5,459.6 L1674.2,463.5 L1674.8,467.4 L1675.4,471.4 L1676.0,475.4 L1676.7,479.4 L1677.3,483.4 L1677.9,487.4 L1678.5,491.4 L1679.2,495.4 L1679.8,499.4 L1680.4,503.4 L1681.0,507.4 L1681.6,511.4 L1682.3,515.4 L1682.9,519.5 L1683.5,523.5 L1684.1,527.5 L1684.8,531.4 L1685.4,535.4 L1686.0,539.4 L1686.6,543.4 L1687.3,547.3 L1687.9,551.3 L1688.5,555.2 L1689.1,559.1 L1689.8,563.0 L1690.4,566.9 L1691.0,570.7 L1691.6,574.6 L1692.2,578.4 L1692.9,582.2 L1693.5,585.9 L1694.1,589.7 L1694.7,593.4 L1695.4,597.1 L1696.0,600.7 L1696.6,604.4 L1697.2,608.0 L1697.9,611.5 L1698.5,615.1 L1699.1,618.5 L1699.7,622.0 L1700.3,625.4 L1701.0,628.8 L1701.6,632.2 L1702.2,635.5 L1702.8,638.8 L1703.5,642.0 L1704.1,645.2 L1704.7,648.3 L1705.3,651.4 L1706.0,654.5 L1706.6,657.5 L1707.2,660.4 L1707.8,663.3 L1708.5,666.2 L1709.1,669.0 L1709.7,671.8 L1710.3,674.5 L1710.9,677.1 L1711.6,679.7 L1712.2,682.3 L1712.8,684.8 L1713.4,687.2 L1714.1,689.6 L1714.7,691.9 L1715.3,694.1 L1715.9,696.4 L1716.6,698.5 L1717.2,700.6 L1717.8,702.6 L1718.4,704.6 L1719.0,706.5 L1719.7,708.3 L1720.3,710.1 L1720.9,711.8 L1721.5,713.4 L1722.2,715.0 L1722.8,716.5 L1723.4,717.9 L1724.0,719.3 L1724.7,720.6 L1725.3,721.9 L1725.9,723.1 L1726.5,724.2 L1727.1,725.2 L1727.8,726.2 L1728.4,727.1 L1729.0,727.9 L1729.6,728.7 L1730.3,729.4 L1730.9,730.0 L1731.5,730.6 L1732.1,731.0 L1732.8,731.5 L1733.4,731.8 L1734.0,732.1 L1734.6,732.3 L1735.3,732.4 L1735.9,732.5 L1736.5,732.4 L1737.1,732.4 L1737.7,732.2 L1738.4,732.0 L1739.0,731.7 L1739.6,731.3 L1740.2,730.9 L1740.9,730.4 L1741.5,729.8 L1742.1,729.2 L1742.7,728.5 L1743.4,727.7 L1744.0,726.8 L1744.6,725.9 L1745.2,724.9 L1745.8,723.9 L1746.5,722.8 L1747.1,721.6 L1747.7,720.3 L1748.3,719.0 L1749.0,717.6 L1749.6,716.1 L1750.2,714.6 L1750.8,713.0 L1751.5,711.4 L1752.1,709.7 L1752.7,707.9 L1753.3,706.1 L1753.9,704.2 L1754.6,702.2 L1755.2,700.2 L1755.8,698.1 L1756.4,695.9 L1757.1,693.7 L1757.7,691.5 L1758.3,689.2 L1758.9,686.8 L1759.6,684.3 L1760.2,681.9 L1760.8,679.3 L1761.4,676.7 L1762.1,674.1 L1762.7,671.4 L1763.3,668.6 L1763.9,665.8 L1764.5,663.0 L1765.2,660.1 L1765.8,657.1 L1766.4,654.1 L1767.0,651.1 L1767.7,648.0 L1768.3,644.8 L1768.9,641.7 L1769.5,638.4 L1770.2,635.2 L1770.8,631.9 L1771.4,628.6 L1772.0,625.2 L1772.6,621.8 L1773.3,618.3 L1773.9,614.8 L1774.5,611.3 L1775.1,607.8 L1775.8,604.2 L1776.4,600.6 L1777.0,596.9 L1777.6,593.2 L1778.3,589.5 L1778.9,585.8 L1779.5,582.1 L1780.1,578.3 L1780.8,574.5 L1781.4,570.7 L1782.0,566.9 L1782.6,563.0 L1783.2,559.1 L1783.9,555.2 L1784.5,551.3 L1785.1,547.4 L1785.7,543.5 L1786.4,539.5 L1787.0,535.6 L1787.6,531.6 L1788.2,527.6 L1788.9,523.7 L1789.5,519.7 L1790.1,515.7" stroke="#0ff" stroke-dasharray="52.37 19.45 13.47 19.45"/>
<path d="M231.9,851.9 L232.5,849.5 L233.1,846.8 L233.8,843.8 L234.4,840.6 L235.0,837.1 L235.6,833.5 L236.3,829.8 L236.9,825.7 L237.5,821.2 L238.1,816.5 L238.8,811.4 L239.4,806.2 L240.0,800.7 L240.6,794.9 L241.2,788.9 L241.9,782.6 L242.5,775.9 L243.1,768.9 L243.7,761.6 L244.4,753.9 L245.0,745.6 L245.6,736.7 L246.2,727.4 L246.9,717.8 L247.5,708.1 L248.1,698.0 L248.7,687.5 L249.4,676.7 L250.0,665.8 L250.6,655.0 L251.2,644.1 L251.8,633.1 L252.5,621.6 L253.1,609.5 L253.7,596.9 L254.3,583.8 L255.0,570.6 L255.6,557.4 L256.2,543.9 L256.8,530.2 L257.5,516.7 L258.1,504.0 L258.7,492.1 L259.3,480.9 L259.9,470.0 L260.6,459.1 L261.2,448.0 L261.8,436.9 L262.4,425.7 L263.1,414.6 L263.7,403.5 L264.3,392.4 L264.9,381.3 L265.6,370.5 L266.2,360.1 L266.8,350.2 L267.4,340.7 L268.1,331.8 L268.7,323.7 L269.3,316.4 L269.9,309.5 L270.5,302.9 L271.2,296.5 L271.8,290.1 L272.4,283.5 L273.0,276.6 L273.7,269.6 L274.3,262.5 L274.9,255.5 L275.5,248.8 L276.2,242.2 L276.8,235.6 L277.4,229.3 L278.0,223.2 L278.6,217.5 L279.3,212.0 L279.9,206.7 L280.5,201.7 L281.1,197.1 L281.8,193.1 L282.4,189.4 L283.0,185.8 L283.6,182.4 L284.3,179.4 L284.9,176.8 L285.5,175.0 L286.1,173.8 L286.7,172.7 L287.4,171.7 L288.0,170.9 L288.6,170.2 L289.2,169.7 L289.9,169.4 L290.5,169.2 L291.1,169.0 L291.7,168.9 L292.4,168.8 L293.0,168.8 L293.6,168.8 L294.2,168.9 L294.9,169.2 L295.5,169.6 L296.1,170.0 L296.7,170.6 L297.3,171.1 L298.0,171.6 L298.6,172.3 L299.2,173.1 L299.8,174.0 L300.5,174.9 L301.1,176.0 L301.7,177.1 L302.3,178.3 L303.0,179.7 L303.6,181.2 L304.2,182.8 L304.8,184.6 L305.4,186.4 L306.1,188.4 L306.7,190.4 L307.3,192.5 L307.9,194.7 L308.6,196.9 L309.2,199.1 L309.8,201.3 L310.4,203.6 L311.1,205.8 L311.7,208.2 L312.3,210.7 L312.9,213.3 L313.5,216.0 L314.2,218.7 L314.8,221.5 L315.4,224.4 L316.0,227.3 L316.7,230.2 L317.3,233.1 L317.9,236.1 L318.5,239.0 L319.2,241.8 L319.8,244.7 L320.4,247.4 L321.0,250.1 L321.7,252.8 L322.3,255.5 L322.9,258.2 L323.5,260.8 L324.1,263.5 L324.8,266.1 L325.4,268.7 L326.0,271.3 L326.6,273.9 L327.3,276.5 L327.9,279.1 L328.5,281.6 L329.1,284.1 L329.8,286.6 L330.4,289.0 L331.0,291.5 L331.6,293.9 L332.2,296.4 L332.9,298.8 L333.5,301.3 L334.1,303.8 L334.7,306.3 L335.4,308.8 L336.0,311.4 L336.6,314.0 L337.2,316.6 L337.9,319.3 L338.5,321.9 L339.1,324.6 L339.7,327.2 L340.4,329.8 L341.0,332.4 L341.6,335.0 L342.2,337.6 L342.8,340.1 L343.5,342.6 L344.1,345.0 L344.7,347.4 L345.3,349.7 L346.0,352.0 L346.6,354.2 L347.2,356.4 L347.8,358.6 L348.5,360.7 L349.1,362.8 L349.7,364.9 L350.3,367.0 L350.9,369.0 L351.6,371.0 L352.2,373.0 L352.8,375.0 L353.4,377.0 L354.1,378.9 L354.7,380.8 L355.3,382.7 L355.9,384.6 L356.6,386.5 L357.2,388.4 L357.8,390.2 L358.4,392.1 L359.0,393.9 L359.7,395.6 L360.3,397.4 L360.9,399.1 L361.5,400.8 L362.2,402.4 L362.8,404.0 L363.4,405.5 L364.0,407.0 L364.7,408.4 L365.3,409.8 L365.9,411.1 L366.5,412.5 L367.2,413.8 L367.8,415.1 L368.4,416.4 L369.0,417.7 L369.6,419.0 L370.3,420.4 L370.9,421.7 L371.5,423.1 L372.1,424.5 L372.8,425.9 L373.4,427.3 L374.0,428.7 L374.6,430.1 L375.3,431.4 L375.9,432.7 L376.5,434.0 L377.1,435.2 L377.7,436.5 L378.4,437.7 L379.0,438.9 L379.6,440.0 L380.2,441.2 L380.9,442.3 L381.5,443.4 L382.1,444.5 L382.7,445.5 L383.4,446.6 L384.0,447.6 L384.6,448.6 L385.2,449.6 L385.9,450.5 L386.5,451.5 L387.1,452.4 L387.7,453.4 L388.3,454.3 L389.0,455.1 L389.6,456.0 L390.2,456.9 L390.8,457.7 L391.5,458.5 L392.1,459.4 L392.7,460.1 L393.3,460.9 L394.0,461.7 L394.6,462.5 L395.2,463.2 L395.8,463.9 L396.4,464.6 L397.1,465.3 L397.7,466.0 L398.3,466.7 L398.9,467.4 L399.6,468.0 L400.2,468.7 L400.8,469.3 L401.4,469.9 L402.1,470.5 L402.7,471.1 L403.3,471.7 L403.9,472.3 L404.5,472.9 L405.2,473.4 L405.8,474.0 L406.4,474.5 L407.0,475.1 L407.7,475.6 L408.3,476.1 L408.9,476.6 L409.5,477.1 L410.2,477.6 L410.8,478.1 L411.4,478.5 L412.0,479.0 L412.7,479.5 L413.3,479.9 L413.9,480.3 L414.5,480.8 L415.1,481.2 L415.8,481.6 L416.4,482.0 L417.0,482.4 L417.6,482.8 L418.3,483.2 L418.9,483.6 L419.5,484.0 L420.1,484.4 L420.8,484.7 L421.4,485.1 L422.0,485.5 L422.6,485.8 L423.2,486.2 L423.9,486.5 L424.5,486.8 L425.1,487.2 L425.7,487.5 L426.4,487.8 L427.0,488.1 L427.6,488.5 L428.2,488.8 L428.9,489.1 L429.5,489.4 L430.1,489.6 L430.7,489.9 L431.3,490.2 L432.0,490.5 L432.6,490.8 L433.2,491.0 L433.8,491.3 L434.5,491.6 L435.1,491.8 L435.7,492.1 L436.3,492.3 L437.0,492.6 L437.6,492.8 L438.2,493.0 L438.8,493.3 L439.5,493.5 L440.1,493.7 L440.7,493.9 L441.3,494.1 L441.9,494.3 L442.6,494.5 L443.2,494.7 L443.8,494.9 L444.4,495.1 L445.1,495.3 L445.7,495.5 L446.3,495.7 L446.9,495.9 L447.6,496.0 L448.2,496.2 L448.8,496.4 L449.4,496.5 L450.0,496.7 L450.7,496.8 L451.3,497.0 L451.9,497.1 L452.5,497.2 L453.2,497.4 L453.8,497.5 L454.4,497.6 L455.0,497.8 L455.7,497.9 L456.3,498.0 L456.9,498.1 L457.5,498.2 L458.2,498.3 L458.8,498.4 L459.4,498.5 L460.0,498.6 L460.6,498.7 L461.3,498.8 L461.9,498.9 L462.5,499.0 L463.1,499.1 L463.8,499.2 L464.4,499.2 L465.0,499.3 L465.6,499.4 L466.3,499.5 L466.9,499.5 L467.5,499.6 L468.1,499.7 L468.7,499.7 L469.4,499.8 L470.0,499.9 L470.6,499.9 L471.2,500.0 L471.9,500.1 L472.5,500.1 L473.1,500.2 L473.7,500.2 L474.4,500.3 L475.0,500.3 L475.6,500.4 L476.2,500.4 L476.8,500.5 L477.5,500.5 L478.1,500.6 L478.7,500.6 L479.3,500.7 L480.0,500.7 L480.6,500.8 L481.2,500.8 L481.8,500.9 L482.5,500.9 L483.1,501.0 L483.7,501.0 L484.3,501.1 L485.0,501.1 L485.6,501.1 L486.2,501.2 L486.8,501.2 L487.4,501.3 L488.1,501.3 L488.7,501.3 L489.3,501.4 L489.9,501.4 L490.6,501.5 L491.2,501.5 L491.8,501.5 L492.4,501.6 L493.1,501.6 L493.7,501.7 L494.3,501.7 L494.9,501.7 L495.5,501.8 L496.2,501.8 L496.8,501.8 L497.4,501.9 L498.0,501.9 L498.7,501.9 L499.3,502.0 L499.9,502.0 L500.5,502.0 L501.2,502.1 L501.8,502.1 L502.4,502.1 L503.0,502.2 L503.7,502.2 L504.3,502.2 L504.9,502.3 L505.5,502.3 L506.1,502.3 L506.8,502.3 L507.4,502.4 L508.0,502.4 L508.6,502.4 L509.3,502.5 L509.9,502.5 L510.5,502.5 L511.1,502.5 L511.8,502.6 L512.4,502.6 L513.0,502.6 L513.6,502.6 L514.2,502.7 L514.9,502.7 L515.5,502.7 L516.1,502.7 L516.7,502.7 L517.4,502.8 L518.0,502.8 L518.6,502.8 L519.2,502.8 L519.9,502.8 L520.5,502.9 L521.1,502.9 L521.7,502.9 L522.3,502.9 L523.0,502.9 L523.6,503.0 L524.2,503.0 L524.8,503.0 L525.5,503.0 L526.1,503.0 L526.7,503.0 L527.3,503.1 L528.0,503.1 L528.6,503.1 L529.2,503.1 L529.8,503.1 L530.5,503.1 L531.1,503.2 L531.7,503.2 L532.3,503.2 L532.9,503.2 L533.6,503.2 L534.2,503.2 L534.8,503.2 L535.4,503.2 L536.1,503.3 L536.7,503.3 L537.3,503.3 L537.9,503.3 L538.6,503.3 L539.2,503.3 L539.8,503.3 L540.4,503.3 L541.0,503.4 L541.7,503.4 L542.3,503.4 L542.9,503.4 L543.5,503.4 L544.2,503.4 L544.8,503.4 L545.4,503.4 L546.0,503.4 L546.7,503.4 L547.3,503.5 L547.9,503.5 L548.5,503.5 L549.1,503.5 L549.8,503.5 L550.4,503.5 L551.0,503.5 L551.6,503.5 L552.3,503.5 L552.9,503.5 L553.5,503.5 L554.1,503.5 L554.8,503.6 L555.4,503.6 L556.0,503.6 L556.6,503.6 L557.3,503.6 L557.9,503.6 L558.5,503.6 L559.1,503.6 L559.7,503.6 L560.4,503.6 L561.0,503.6 L561.6,503.6 L562.2,503.6 L562.9,503.6 L563.5,503.6 L564.1,503.6 L564.7,503.7 L565.4,503.7 L566.0,503.7 L566.6,503.7 L567.2,503.7 L567.8,503.7 L568.5,503.7 L569.1,503.7 L569.7,503.7 L570.3,503.7 L571.0,503.7 L571.6,503.7 L572.2,503.7 L572.8,503.7 L573.5,503.7 L574.1,503.7 L574.7,503.7 L575.3,503.7 L576.0,503.7 L576.6,503.7 L577.2,503.7 L577.8,503.8 L578.4,503.8 L579.1,503.8 L579.7,503.8 L580.3,503.8 L580.9,503.8 L581.6,503.8 L582.2,503.8 L582.8,503.8 L583.4,503.8 L584.1,503.8 L584.7,503.8 L585.3,503.8 L585.9,503.8 L586.5,503.8 L587.2,503.8 L587.8,503.8 L588.4,503.8 L589.0,503.8 L589.7,503.8 L590.3,503.8 L590.9,503.8 L591.5,503.8 L592.2,503.8 L592.8,503.8 L593.4,503.8 L594.0,503.8 L594.6,503.8 L595.3,503.8 L595.9,503.8 L596.5,503.8 L597.1,503.8 L597.8,503.8 L598.4,503.8 L599.0,503.8 L599.6,503.8 L600.3,503.9 L600.9,503.9 L601.5,503.9 L602.1,503.9 L602.8,503.9 L603.4,503.9 L604.0,503.9 L604.6,503.9 L605.2,503.9 L605.9,503.9 L606.5,503.9 L607.1,503.9 L607.7,503.9 L608.4,503.9 L609.0,503.9 L609.6,503.9 L610.2,503.9 L610.9,503.9 L611.5,503.9 L612.1,503.9 L612.7,503.9 L613.3,503.9 L614.0,503.9 L614.6,503.9 L615.2,503.9 L615.8,503.9 L616.5,503.9 L617.1,503.9 L617.7,503.9 L618.3,503.9 L619.0,503.9 L619.6,503.9 L620.2,503.9 L620.8,503.9 L621.4,503.9 L622.1,503.9 L622.7,503.9 L623.3,503.9 L623.9,503.9 L624.6,503.9 L625.2,503.9 L625.8,503.9 L626.4,503.9 L627.1,503.9 L627.7,503.9 L628.3,503.9 L628.9,503.9 L629.6,503.9 L630.2,503.9 L630.8,503.9 L631.4,503.9 L632.0,503.9 L632.7,503.9 L633.3,503.9 L633.9,503.9 L634.5,503.9 L635.2,503.9 L635.8,503.9 L636.4,503.9 L637.0,503.9 L637.7,503.9 L638.3,503.9 L638.9,503.9 L639.5,503.9 L640.1,503.9 L640.8,503.9 L641.4,503.9 L642.0,503.9 L642.6,503.9 L643.3,503.9 L643.9,503.9 L644.5,503.9 L645.1,503.9 L645.8,503.9 L646.4,503.9 L647.0,503.9 L647.6,503.9 L648.3,503.9 L648.9,503.9 L649.5,503.9 L650.1,503.9 L650.7,503.9 L651.4,503.9 L652.0,503.9 L652.6,503.9 L653.2,503.9 L653.9,503.9 L654.5,503.9 L655.1,503.9 L655.7,503.9 L656.4,503.9 L657.0,503.9 L657.6,503.9 L658.2,503.9 L658.8,503.9 L659.5,503.9 L660.1,503.9 L660.7,503.9 L661.3,503.9 L662.0,503.9 L662.6,503.9 L663.2,503.9 L663.8,503.9 L664.5,503.9 L665.1,503.9 L665.7,503.9 L666.3,503.9 L666.9,503.9 L667.6,503.9 L668.2,503.9 L668.8,503.9 L669.4,503.9 L670.1,503.9 L670.7,503.9 L671.3,503.9 L671.9,503.9 L672.6,503.9 L673.2,503.9 L673.8,503.9 L674.4,503.9 L675.1,503.9 L675.7,503.9 L676.3,503.9 L676.9,503.9 L677.5,503.9 L678.2,503.9 L678.8,503.9 L679.4,503.9 L680.0,503.9 L680.7,503.9 L681.3,503.9 L681.9,503.9 L682.5,503.9 L683.2,504.0 L683.8,504.0 L684.4,504.0 L685.0,504.0 L685.6,504.0 L686.3,504.0 L686.9,504.0 L687.5,504.0 L688.1,504.0 L688.8,504.0 L689.4,504.0 L690.0,504.0 L690.6,504.0 L691.3,504.0 L691.9,504.0 L692.5,504.0 L693.1,504.0 L693.8,504.0 L694.4,504.0 L695.0,504.0 L695.6,504.0 L696.2,504.0 L696.9,504.0 L697.5,504.0 L698.1,504.0 L698.7,504.0 L699.4,504.0 L700.0,504.0 L700.6,504.0 L701.2,504.0 L701.9,504.0 L702.5,504.0 L703.1,504.0 L703.7,504.0 L704.3,504.0 L705.0,504.0 L705.6,504.0 L706.2,504.0 L706.8,504.0 L707.5,504.0 L708.1,504.0 L708.7,504.0 L709.3,504.0 L710.0,504.0 L710.6,504.0 L711.2,504.0 L711.8,504.0 L712.4,504.0 L713.1,504.0 L713.7,504.0 L714.3,504.0 L714.9,504.0 L715.6,504.0 L716.2,504.0 L716.8,504.0 L717.4,504.0 L718.1,504.0 L718.7,504.0 L719.3,504.0 L719.9,504.0 L720.6,504.0 L721.2,504.0 L721.8,504.0 L722.4,504.0 L723.0,504.0 L723.7,504.0 L724.3,504.0 L724.9,504.0 L725.5,504.0 L726.2,504.0 L726.8,504.0 L727.4,504.0 L728.0,504.0 L728.7,504.0 L729.3,504.0 L729.9,504.0 L730.5,504.0 L731.1,504.0 L731.8,504.0 L732.4,504.0 L733.0,504.0 L733.6,504.0 L734.3,504.0 L734.9,504.0 L735.5,504.0 L736.1,504.0 L736.8,504.0 L737.4,504.0 L738.0,504.0 L738.6,504.0 L739.2,504.0 L739.9,504.0 L740.5,504.0 L741.1,504.0 L741.7,504.0 L742.4,504.0 L743.0,504.0 L743.6,504.0 L744.2,504.0 L744.9,504.0 L745.5,504.0 L746.1,504.0 L746.7,504.0 L747.4,504.0 L748.0,504.0 L748.6,504.0 L749.2,504.0 L749.8,504.0 L750.5,504.0 L751.1,504.0 L751.7,503.9 L752.3,503.8 L753.0,503.7 L753.6,503.6 L754.2,503.5 L754.8,503.2 L755.5,502.8 L756.1,502.4 L756.7,502.0 L757.3,501.5 L757.9,501.1 L758.6,500.7 L759.2,500.3 L759.8,499.9 L760.4,499.5 L761.1,499.1 L761.7,498.8 L762.3,498.4 L762.9,498.0 L763.6,497.7 L764.2,497.4 L764.8,497.1 L765.4,496.8 L766.1,496.5 L766.7,496.2 L767.3,495.9 L767.9,495.7 L768.5,495.5 L769.2,495.3 L769.8,495.1 L770.4,495.0 L771.0,494.8 L771.7,494.7 L772.3,494.7 L772.9,494.6 L773.5,494.6 L774.2,494.6 L774.8,494.6 L775.4,494.6 L776.0,494.7 L776.6,494.8 L777.3,495.0 L777.9,495.2 L778.5,495.4 L779.1,495.6 L779.8,495.9 L780.4,496.2 L781.0,496.5 L781.6,496.9 L782.3,497.3 L782.9,497.7 L783.5,498.2 L784.1,498.7 L784.7,499.2 L785.4,499.8 L786.0,500.4 L786.6,501.0 L787.2,501.7 L787.9,502.4 L788.5,503.1 L789.1,503.8 L789.7,504.6 L790.4,505.3 L791.0,506.1 L791.6,506.9 L792.2,507.8 L792.9,508.6 L793.5,509.5 L794.1,510.3 L794.7,511.2 L795.3,512.1 L796.0,513.0 L796.6,513.8 L797.2,514.7 L797.8,515.6 L798.5,516.5 L799.1,517.4 L799.7,518.3 L800.3,519.2 L801.0,520.1 L801.6,521.0 L802.2,521.8 L802.8,522.7 L803.4,523.5 L804.1,524.4 L804.7,525.2 L805.3,526.0 L805.9,526.8 L806.6,527.6 L807.2,528.3 L807.8,529.0 L808.4,529.8 L809.1,530.5 L809.7,531.1 L810.3,531.8 L810.9,532.5 L811.6,533.1 L812.2,533.8 L812.8,534.4 L813.4,535.0 L814.0,535.6 L814.7,536.2 L815.3,536.8 L815.9,537.4 L816.5,537.9 L817.2,538.5 L817.8,539.0 L818.4,539.6 L819.0,540.1 L819.7,540.6 L820.3,541.1 L820.9,541.6 L821.5,542.2 L822.1,542.6 L822.8,543.1 L823.4,543.6 L824.0,544.1 L824.6,544.5 L825.3,545.0 L825.9,545.4 L826.5,545.8 L827.1,546.2 L827.8,546.6 L828.4,547.0 L829.0,547.3 L829.6,547.7 L830.2,548.0 L830.9,548.3 L831.5,548.6 L832.1,548.9 L832.7,549.2 L833.4,549.4 L834.0,549.6 L834.6,549.8 L835.2,550.0 L835.9,550.1 L836.5,550.3 L837.1,550.3 L837.7,550.4 L838.4,550.5 L839.0,550.5 L839.6,550.5 L840.2,550.4 L840.8,550.4 L841.5,550.3 L842.1,550.2 L842.7,550.0 L843.3,549.8 L844.0,549.7 L844.6,549.5 L845.2,549.2 L845.8,549.0 L846.5,548.7 L847.1,548.4 L847.7,548.1 L848.3,547.8 L848.9,547.5 L849.6,547.1 L850.2,546.8 L850.8,546.4 L851.4,546.0 L852.1,545.6 L852.7,545.2 L853.3,544.7 L853.9,544.3 L854.6,543.8 L855.2,543.3 L855.8,542.8 L856.4,542.3 L857.0,541.8 L857.7,541.2 L858.3,540.7 L858.9,540.1 L859.5,539.5 L860.2,538.9 L860.8,538.2 L861.4,537.6 L862.0,536.9 L862.7,536.2 L863.3,535.5 L863.9,534.8 L864.5,534.1 L865.2,533.3 L865.8,532.5 L866.4,531.7 L867.0,530.9 L867.6,530.0 L868.3,529.2 L868.9,528.3 L869.5,527.4 L870.1,526.4 L870.8,525.5 L871.4,524.5 L872.0,523.5 L872.6,522.4 L873.3,521.4 L873.9,520.3 L874.5,519.2 L875.1,518.0 L875.7,516.9 L876.4,515.7 L877.0,514.5 L877.6,513.2 L878.2,512.0 L878.9,510.7 L879.5,509.4 L880.1,508.1 L880.7,506.8 L881.4,505.4 L882.0,504.1 L882.6,502.8 L883.2,501.4 L883.9,500.1 L884.5,498.7 L885.1,497.4 L885.7,496.0 L886.3,494.7 L887.0,493.4 L887.6,492.0 L888.2,490.7 L888.8,489.4 L889.5,488.1 L890.1,486.9 L890.7,485.6 L891.3,484.4 L892.0,483.1 L892.6,481.9 L893.2,480.7 L893.8,479.6 L894.4,478.4 L895.1,477.2 L895.7,476.1 L896.3,475.0 L896.9,473.9 L897.6,472.9 L898.2,471.8 L898.8,470.8 L899.4,469.8 L900.1,468.8 L900.7,467.8 L901.3,466.9 L901.9,465.9 L902.5,465.0 L903.2,464.1 L903.8,463.2 L904.4,462.3 L905.0,461.5 L905.7,460.6 L906.3,459.8 L906.9,459.0 L907.5,458.2 L908.2,457.4 L908.8,456.6 L909.4,455.9 L910.0,455.1 L910.7,454.4 L911.3,453.7 L911.9,452.9 L912.5,452.2 L913.1,451.5 L913.8,450.9 L914.4,450.2 L915.0,449.5 L915.6,448.8 L916.3,448.2 L916.9,447.5 L917.5,446.9 L918.1,446.3 L918.8,445.6 L919.4,445.0 L920.0,444.4 L920.6,443.8 L921.2,443.2 L921.9,442.6 L922.5,442.0 L923.1,441.4 L923.7,440.8 L924.4,440.3 L925.0,439.8 L925.6,439.2 L926.2,438.8 L926.9,438.3 L927.5,437.8 L928.1,437.4 L928.7,437.0 L929.4,436.6 L930.0,436.3 L930.6,436.0 L931.2,435.7 L931.8,435.4 L932.5,435.1 L933.1,434.9 L933.7,434.7 L934.3,434.5 L935.0,434.3 L935.6,434.2 L936.2,434.1 L936.8,434.0 L937.5,433.9 L938.1,433.8 L938.7,433.8 L939.3,433.8 L939.9,433.8 L940.6,433.8 L941.2,433.9 L941.8,434.0 L942.4,434.1 L943.1,434.2 L943.7,434.3 L944.3,434.5 L944.9,434.7 L945.6,434.9 L946.2,435.2 L946.8,435.4 L947.4,435.7 L948.0,436.0 L948.7,436.3 L949.3,436.7 L949.9,437.0 L950.5,437.4 L951.2,437.8 L951.8,438.3 L952.4,438.7 L953.0,439.2 L953.7,439.7 L954.3,440.2 L954.9,440.7 L955.5,441.3 L956.2,441.9 L956.8,442.5 L957.4,443.1 L958.0,443.7 L958.6,444.4 L959.3,445.1 L959.9,445.7 L960.5,446.5 L961.1,447.2 L961.8,447.9 L962.4,448.7 L963.0,449.5 L963.6,450.3 L964.3,451.1 L964.9,452.0 L965.5,452.8 L966.1,453.7 L966.7,454.6 L967.4,455.5 L968.0,456.4 L968.6,457.3 L969.2,458.3 L969.9,459.2 L970.5,460.2 L971.1,461.2 L971.7,462.2 L972.4,463.2 L973.0,464.3 L973.6,465.3 L974.2,466.4 L974.8,467.4 L975.5,468.5 L976.1,469.6 L976.7,470.7 L977.3,471.8 L978.0,472.9 L978.6,474.1 L979.2,475.2 L979.8,476.4 L980.5,477.5 L981.1,478.7 L981.7,479.9 L982.3,481.1 L983.0,482.3 L983.6,483.5 L984.2,484.7 L984.8,485.9 L985.4,487.1 L986.1,488.3 L986.7,489.6 L987.3,490.8 L987.9,492.1 L988.6,493.3 L989.2,494.5 L989.8,495.8 L990.4,497.0 L991.1,498.3 L991.7,499.6 L992.3,500.8 L992.9,502.1 L993.5,503.3 L994.2,504.6 L994.8,505.8 L995.4,507.1 L996.0,508.4 L996.7,509.6 L997.3,510.9 L997.9,512.1 L998.5,513.4 L999.2,514.6 L999.8,515.9 L1000.4,517.1 L1001.0,518.3 L1001.7,519.6 L1002.3,520.8 L1002.9,522.0 L1003.5,523.2 L1004.1,524.4 L1004.8,525.6 L1005.4,526.8 L1006.0,528.0 L1006.6,529.2 L1007.3,530.4 L1007.9,531.5 L1008.5,532.7 L1009.1,533.8 L1009.8,535.0 L1010.4,536.1 L1011.0,537.2 L1011.6,538.3 L1012.2,539.4 L1012.9,540.5 L1013.5,541.6 L1014.1,542.6 L1014.7,543.7 L1015.4,544.7 L1016.0,545.7 L1016.6,546.7 L1017.2,547.7 L1017.9,548.7 L1018.5,549.7 L1019.1,550.6 L1019.7,551.5 L1020.3,552.5 L1021.0,553.4 L1021.6,554.2 L1022.2,555.1 L1022.8,556.0 L1023.5,556.8 L1024.1,557.6 L1024.7,558.4 L1025.3,559.2 L1026.0,560.0 L1026.6,560.7 L1027.2,561.5 L1027.8,562.2 L1028.5,562.9 L1029.1,563.5 L1029.7,564.2 L1030.3,564.8 L1030.9,565.5 L1031.6,566.1 L1032.2,566.6 L1032.8,567.2 L1033.4,567.7 L1034.1,568.2 L1034.7,568.7 L1035.3,569.2 L1035.9,569.7 L1036.6,570.1 L1037.2,570.5 L1037.8,570.9 L1038.4,571.3 L1039.0,571.6 L1039.7,571.9 L1040.3,572.2 L1040.9,572.5 L1041.5,572.8 L1042.2,573.0 L1042.8,573.2 L1043.4,573.4 L1044.0,573.6 L1044.7,573.7 L1045.3,573.9 L1045.9,574.0 L1046.5,574.0 L1047.2,574.1 L1047.8,574.1 L1048.4,574.1 L1049.0,574.1 L1049.6,574.1 L1050.3,574.0 L1050.9,574.0 L1051.5,573.9 L1052.1,573.7 L1052.8,573.6 L1053.4,573.4 L1054.0,573.2 L1054.6,573.0 L1055.3,572.8 L1055.9,572.5 L1056.5,572.2 L1057.1,571.9 L1057.7,571.6 L1058.4,571.3 L1059.0,570.9 L1059.6,570.5 L1060.2,570.1 L1060.9,569.7 L1061.5,569.2 L1062.1,568.7 L1062.7,568.2 L1063.4,567.7 L1064.0,567.2 L1064.6,566.6 L1065.2,566.1 L1065.8,565.5 L1066.5,564.8 L1067.1,564.2 L1067.7,563.5 L1068.3,562.9 L1069.0,562.2 L1069.6,561.5 L1070.2,560.7 L1070.8,560.0 L1071.5,559.2 L1072.1,558.4 L1072.7,557.6 L1073.3,556.8 L1074.0,556.0 L1074.6,555.1 L1075.2,554.2 L1075.8,553.4 L1076.4,552.5 L1077.1,551.5 L1077.7,550.6 L1078.3,549.7 L1078.9,548.7 L1079.6,547.7 L1080.2,546.7 L1080.8,545.7 L1081.4,544.7 L1082.1,543.7 L1082.7,542.6 L1083.3,541.6 L1083.9,540.5 L1084.5,539.4 L1085.2,538.3 L1085.8,537.2 L1086.4,536.1 L1087.0,535.0 L1087.7,533.8 L1088.3,532.7 L1088.9,531.5 L1089.5,530.4 L1090.2,529.2 L1090.8,528.0 L1091.4,526.8 L1092.0,525.6 L1092.6,524.4 L1093.3,523.2 L1093.9,522.0 L1094.5,520.8 L1095.1,519.6 L1095.8,518.3 L1096.4,517.1 L1097.0,515.9 L1097.6,514.6 L1098.3,513.4 L1098.9,512.1 L1099.5,510.9 L1100.1,509.6 L1100.8,508.4 L1101.4,507.1 L1102.0,505.8 L1102.6,504.6 L1103.2,503.3 L1103.9,502.1 L1104.5,500.8 L1105.1,499.6 L1105.7,498.3 L1106.4,497.0 L1107.0,495.8 L1107.6,494.5 L1108.2,493.3 L1108.9,492.1 L1109.5,490.8 L1110.1,489.6 L1110.7,488.3 L1111.3,487.1 L1112.0,485.9 L1112.6,484.7 L1113.2,483.5 L1113.8,482.3 L1114.5,481.1 L1115.1,479.9 L1115.7,478.7 L1116.3,477.5 L1117.0,476.4 L1117.6,475.2 L1118.2,474.1 L1118.8,472.9 L1119.5,471.8 L1120.1,470.7 L1120.7,469.6 L1121.3,468.5 L1121.9,467.4 L1122.6,466.4 L1123.2,465.3 L1123.8,464.3 L1124.4,463.2 L1125.1,462.2 L1125.7,461.2 L1126.3,460.2 L1126.9,459.2 L1127.6,458.3 L1128.2,457.3 L1128.8,456.4 L1129.4,455.5 L1130.0,454.6 L1130.7,453.7 L1131.3,452.8 L1131.9,452.0 L1132.5,451.1 L1133.2,450.3 L1133.8,449.5 L1134.4,448.7 L1135.0,447.9 L1135.7,447.2 L1136.3,446.5 L1136.9,445.7 L1137.5,445.1 L1138.1,444.4 L1138.8,443.7 L1139.4,443.1 L1140.0,442.5 L1140.6,441.9 L1141.3,441.3 L1141.9,440.7 L1142.5,440.2 L1143.1,439.7 L1143.8,439.2 L1144.4,438.7 L1145.0,438.3 L1145.6,437.8 L1146.3,437.4 L1146.9,437.0 L1147.5,436.7 L1148.1,436.3 L1148.7,436.0 L1149.4,435.7 L1150.0,435.4 L1150.6,435.1 L1151.2,434.9 L1151.9,434.7 L1152.5,434.5 L1153.1,434.3 L1153.7,434.2 L1154.4,434.1 L1155.0,434.0 L1155.6,433.9 L1156.2,433.8 L1156.8,433.8 L1157.5,433.8 L1158.1,433.8 L1158.7,433.8 L1159.3,433.9 L1160.0,434.0 L1160.6,434.1 L1161.2,434.2 L1161.8,434.3 L1162.5,434.5 L1163.1,434.7 L1163.7,434.9 L1164.3,435.1 L1165.0,435.4 L1165.6,435.7 L1166.2,436.0 L1166.8,436.3 L1167.4,436.7 L1168.1,437.0 L1168.7,437.4 L1169.3,437.8 L1169.9,438.3 L1170.6,438.7 L1171.2,439.2 L1171.8,439.7 L1172.4,440.2 L1173.1,440.7 L1173.7,441.3 L1174.3,441.9 L1174.9,442.5 L1175.5,443.1 L1176.2,443.7 L1176.8,444.4 L1177.4,445.1 L1178.0,445.7 L1178.7,446.5 L1179.3,447.2 L1179.9,447.9 L1180.5,448.7 L1181.2,449.5 L1181.8,450.3 L1182.4,451.1 L1183.0,452.0 L1183.6,452.8 L1184.3,453.7 L1184.9,454.6 L1185.5,455.5 L1186.1,456.4 L1186.8,457.3 L1187.4,458.3 L1188.0,459.2 L1188.6,460.2 L1189.3,461.2 L1189.9,462.2 L1190.5,463.2 L1191.1,464.3 L1191.8,465.3 L1192.4,466.4 L1193.0,467.4 L1193.6,468.5 L1194.2,469.6 L1194.9,470.7 L1195.5,471.8 L1196.1,472.9 L1196.7,474.1 L1197.4,475.2 L1198.0,476.4 L1198.6,477.5 L1199.2,478.7 L1199.9,479.9 L1200.5,481.1 L1201.1,482.3 L1201.7,483.5 L1202.3,484.7 L1203.0,485.9 L1203.6,487.1 L1204.2,488.3 L1204.8,489.6 L1205.5,490.8 L1206.1,492.1 L1206.7,493.3 L1207.3,494.5 L1208.0,495.8 L1208.6,497.0 L1209.2,498.3 L1209.8,499.6 L1210.4,500.8 L1211.1,502.1 L1211.7,503.3 L1212.3,504.6 L1212.9,505.8 L1213.6,507.1 L1214.2,508.4 L1214.8,509.6 L1215.4,510.9 L1216.1,512.1 L1216.7,513.4 L1217.3,514.6 L1217.9,515.9 L1218.6,517.1 L1219.2,518.3 L1219.8,519.6 L1220.4,520.8 L1221.0,522.0 L1221.7,523.2 L1222.3,524.4 L1222.9,525.6 L1223.5,526.8 L1224.2,528.0 L1224.8,529.2 L1225.4,530.4 L1226.0,531.5 L1226.7,532.7 L1227.3,533.8 L1227.9,535.0 L1228.5,536.1 L1229.1,537.2 L1229.8,538.3 L1230.4,539.4 L1231.0,540.5 L1231.6,541.6 L1232.3,542.6 L1232.9,543.7 L1233.5,544.7 L1234.1,545.7 L1234.8,546.7 L1235.4,547.7 L1236.0,548.7 L1236.6,549.7 L1237.3,550.6 L1237.9,551.5 L1238.5,552.5 L1239.1,553.4 L1239.7,554.2 L1240.4,555.1 L1241.0,556.0 L1241.6,556.8 L1242.2,557.6 L1242.9,558.4 L1243.5,559.2 L1244.1,560.0 L1244.7,560.7 L1245.4,561.5 L1246.0,562.2 L1246.6,562.9 L1247.2,563.5 L1247.8,564.2 L1248.5,564.8 L1249.1,565.5 L1249.7,566.1 L1250.3,566.6 L1251.0,567.2 L1251.6,567.7 L1252.2,568.2 L1252.8,568.7 L1253.5,569.2 L1254.1,569.7 L1254.7,570.1 L1255.3,570.5 L1255.9,570.9 L1256.6,571.3 L1257.2,571.6 L1257.8,571.9 L1258.4,572.2 L1259.1,572.5 L1259.7,572.8 L1260.3,573.0 L1260.9,573.2 L1261.6,573.4 L1262.2,573.6 L1262.8,573.7 L1263.4,573.9 L1264.1,574.0 L1264.7,574.0 L1265.3,574.1 L1265.9,574.1 L1266.5,574.1 L1267.2,574.1 L1267.8,574.1 L1268.4,574.0 L1269.0,574.0 L1269.7,573.9 L1270.3,573.7 L1270.9,573.6 L1271.5,573.4 L1272.2,573.2 L1272.8,573.0 L1273.4,572.8 L1274.0,572.5 L1274.6,572.2 L1275.3,571.9 L1275.9,571.6 L1276.5,571.3 L1277.1,570.9 L1277.8,570.5 L1278.4,570.1 L1279.0,569.7 L1279.6,569.2 L1280.3,568.7 L1280.9,568.2 L1281.5,567.7 L1282.1,567.2 L1282.8,566.6 L1283.4,566.1 L1284.0,565.5 L1284.6,564.8 L1285.2,564.2 L1285.9,563.5 L1286.5,562.9 L1287.1,562.2 L1287.7,561.5 L1288.4,560.7 L1289.0,560.0 L1289.6,559.2 L1290.2,558.4 L1290.9,557.6 L1291.5,556.8 L1292.1,556.0 L1292.7,555.1 L1293.3,554.2 L1294.0,553.4 L1294.6,552.5 L1295.2,551.5 L1295.8,550.6 L1296.5,549.7 L1297.1,548.7 L1297.7,547.7 L1298.3,546.7 L1299.0,545.7 L1299.6,544.7 L1300.2,543.7 L1300.8,542.6 L1301.4,541.6 L1302.1,540.5 L1302.7,539.4 L1303.3,538.3 L1303.9,537.2 L1304.6,536.1 L1305.2,535.0 L1305.8,533.8 L1306.4,532.7 L1307.1,531.5 L1307.7,530.4 L1308.3,529.2 L1308.9,528.0 L1309.6,526.8 L1310.2,525.6 L1310.8,524.4 L1311.4,523.2 L1312.0,522.0 L1312.7,520.8 L1313.3,519.6 L1313.9,518.3 L1314.5,517.1 L1315.2,515.9 L1315.8,514.6 L1316.4,513.4 L1317.0,512.1 L1317.7,510.9 L1318.3,509.6 L1318.9,508.4 L1319.5,507.1 L1320.1,505.8 L1320.8,504.6 L1321.4,503.3 L1322.0,502.1 L1322.6,500.8 L1323.3,499.6 L1323.9,498.3 L1324.5,497.0 L1325.1,495.8 L1325.8,494.5 L1326.4,493.3 L1327.0,492.1 L1327.6,490.8 L1328.2,489.6 L1328.9,488.3 L1329.5,487.1 L1330.1,485.9 L1330.7,484.7 L1331.4,483.5 L1332.0,482.3 L1332.6,481.1 L1333.2,479.9 L1333.9,478.7 L1334.5,477.5 L1335.1,476.4 L1335.7,475.2 L1336.4,474.1 L1337.0,472.9 L1337.6,471.8 L1338.2,470.7 L1338.8,469.6 L1339.5,468.5 L1340.1,467.4 L1340.7,466.4 L1341.3,465.3 L1342.0,464.3 L1342.6,463.2 L1343.2,462.2 L1343.8,461.2 L1344.5,460.2 L1345.1,459.2 L1345.7,458.3 L1346.3,457.3 L1346.9,456.4 L1347.6,455.5 L1348.2,454.6 L1348.8,453.7 L1349.4,452.8 L1350.1,452.0 L1350.7,451.1 L1351.3,450.3 L1351.9,449.5 L1352.6,448.7 L1353.2,447.9 L1353.8,447.2 L1354.4,446.5 L1355.1,445.7 L1355.7,445.1 L1356.3,444.4 L1356.9,443.7 L1357.5,443.1 L1358.2,442.5 L1358.8,441.9 L1359.4,441.3 L1360.0,440.7 L1360.7,440.2 L1361.3,439.7 L1361.9,439.2 L1362.5,438.7 L1363.2,438.3 L1363.8,437.8 L1364.4,437.4 L1365.0,437.0 L1365.6,436.7 L1366.3,436.3 L1366.9,436.0 L1367.5,435.7 L1368.1,435.4 L1368.8,435.1 L1369.4,434.9 L1370.0,434.7 L1370.6,434.5 L1371.3,434.3 L1371.9,434.2 L1372.5,434.1 L1373.1,434.0 L1373.7,433.9 L1374.4,433.8 L1375.0,433.8 L1375.6,433.8 L1376.2,433.8 L1376.9,433.8 L1377.5,433.9 L1378.1,434.0 L1378.7,434.1 L1379.4,434.2 L1380.0,434.3 L1380.6,434.5 L1381.2,434.7 L1381.9,434.9 L1382.5,435.1 L1383.1,435.4 L1383.7,435.7 L1384.3,436.0 L1385.0,436.3 L1385.6,436.7 L1386.2,437.0 L1386.8,437.4 L1387.5,437.8 L1388.1,438.3 L1388.7,438.7 L1389.3,439.2 L1390.0,439.7 L1390.6,440.2 L1391.2,440.7 L1391.8,441.3 L1392.4,441.9 L1393.1,442.5 L1393.7,443.1 L1394.3,443.7 L1394.9,444.4 L1395.6,445.1 L1396.2,445.7 L1396.8,446.5 L1397.4,447.2 L1398.1,447.9 L1398.7,448.7 L1399.3,449.5 L1399.9,450.3 L1400.5,451.1 L1401.2,452.0 L1401.8,452.8 L1402.4,453.7 L1403.0,454.6 L1403.7,455.5 L1404.3,456.4 L1404.9,457.3 L1405.5,458.3 L1406.2,459.2 L1406.8,460.2 L1407.4,461.2 L1408.0,462.2 L1408.7,463.2 L1409.3,464.3 L1409.9,465.3 L1410.5,466.4 L1411.1,467.4 L1411.8,468.5 L1412.4,469.6 L1413.0,470.7 L1413.6,471.8 L1414.3,472.9 L1414.9,474.1 L1415.5,475.2 L1416.1,476.4 L1416.8,477.5 L1417.4,478.7 L1418.0,479.9 L1418.6,481.1 L1419.2,482.3 L1419.9,483.5 L1420.5,484.7 L1421.1,485.9 L1421.7,487.1 L1422.4,488.3 L1423.0,489.6 L1423.6,490.8 L1424.2,492.1 L1424.9,493.3 L1425.5,494.5 L1426.1,495.8 L1426.7,497.0 L1427.4,498.3 L1428.0,499.6 L1428.6,500.8 L1429.2,502.1 L1429.8,503.3 L1430.5,504.6 L1431.1,505.8 L1431.7,507.1 L1432.3,508.4 L1433.0,509.6 L1433.6,510.9 L1434.2,512.1 L1434.8,513.4 L1435.5,514.6 L1436.1,515.9 L1436.7,517.1 L1437.3,518.3 L1437.9,519.6 L1438.6,520.8 L1439.2,522.0 L1439.8,523.2 L1440.4,524.4 L1441.1,525.6 L1441.7,526.8 L1442.3,528.0 L1442.9,529.2 L1443.6,530.4 L1444.2,531.5 L1444.8,532.7 L1445.4,533.8 L1446.0,535.0 L1446.7,536.1 L1447.3,537.2 L1447.9,538.3 L1448.5,539.4 L1449.2,540.5 L1449.8,541.6 L1450.4,542.6 L1451.0,543.7 L1451.7,544.7 L1452.3,545.7 L1452.9,546.7 L1453.5,547.7 L1454.2,548.7 L1454.8,549.7 L1455.4,550.6 L1456.0,551.5 L1456.6,552.5 L1457.3,553.4 L1457.9,554.2 L1458.5,555.1 L1459.1,556.0 L1459.8,556.8 L1460.4,557.6 L1461.0,558.4 L1461.6,559.2 L1462.3,560.0 L1462.9,560.7 L1463.5,561.5 L1464.1,562.2 L1464.7,562.9 L1465.4,563.5 L1466.0,564.2 L1466.6,564.8 L1467.2,565.5 L1467.9,566.1 L1468.5,566.6 L1469.1,567.2 L1469.7,567.7 L1470.4,568.2 L1471.0,568.7 L1471.6,569.2 L1472.2,569.7 L1472.9,570.1 L1473.5,570.5 L1474.1,570.9 L1474.7,571.3 L1475.3,571.6 L1476.0,571.9 L1476.6,572.2 L1477.2,572.5 L1477.8,572.8 L1478.5,573.0 L1479.1,573.2 L1479.7,573.4 L1480.3,573.6 L1481.0,573.7 L1481.6,573.9 L1482.2,574.0 L1482.8,574.0 L1483.4,574.1 L1484.1,574.1 L1484.7,574.1 L1485.3,574.1 L1485.9,574.1 L1486.6,574.0 L1487.2,574.0 L1487.8,573.9 L1488.4,573.7 L1489.1,573.6 L1489.7,573.4 L1490.3,573.2 L1490.9,573.0 L1491.5,572.8 L1492.2,572.5 L1492.8,572.2 L1493.4,571.9 L1494.0,571.6 L1494.7,571.3 L1495.3,570.9 L1495.9,570.5 L1496.5,570.1 L1497.2,569.7 L1497.8,569.2 L1498.4,568.7 L1499.0,568.2 L1499.7,567.7 L1500.3,567.2 L1500.9,566.6 L1501.5,566.1 L1502.1,565.5 L1502.8,564.8 L1503.4,564.2 L1504.0,563.5 L1504.6,562.9 L1505.3,562.2 L1505.9,561.5 L1506.5,560.7 L1507.1,560.0 L1507.8,559.2 L1508.4,558.4 L1509.0,557.6 L1509.6,556.8 L1510.2,556.0 L1510.9,555.1 L1511.5,554.2 L1512.1,553.4 L1512.7,552.5 L1513.4,551.5 L1514.0,550.6 L1514.6,549.7 L1515.2,548.7 L1515.9,547.7 L1516.5,546.7 L1517.1,545.7 L1517.7,544.7 L1518.3,543.7 L1519.0,542.6 L1519.6,541.6 L1520.2,540.5 L1520.8,539.4 L1521.5,538.3 L1522.1,537.2 L1522.7,536.1 L1523.3,535.0 L1524.0,533.8 L1524.6,532.7 L1525.2,531.5 L1525.8,530.4 L1526.5,529.2 L1527.1,528.0 L1527.7,526.8 L1528.3,525.6 L1528.9,524.4 L1529.6,523.2 L1530.2,522.0 L1530.8,520.8 L1531.4,519.6 L1532.1,518.3 L1532.7,517.1 L1533.3,515.9 L1533.9,514.6 L1534.6,513.4 L1535.2,512.1 L1535.8,510.9 L1536.4,509.6 L1537.0,508.4 L1537.7,507.1 L1538.3,505.8 L1538.9,504.6 L1539.5,503.3 L1540.2,502.1 L1540.8,500.8 L1541.4,499.6 L1542.0,498.3 L1542.7,497.0 L1543.3,495.8 L1543.9,494.5 L1544.5,493.3 L1545.2,492.1 L1545.8,490.8 L1546.4,489.6 L1547.0,488.3 L1547.6,487.1 L1548.3,485.9 L1548.9,484.7 L1549.5,483.5 L1550.1,482.3 L1550.8,481.1 L1551.4,479.9 L1552.0,478.7 L1552.6,477.5 L1553.3,476.4 L1553.9,475.2 L1554.5,474.1 L1555.1,472.9 L1555.7,471.8 L1556.4,470.7 L1557.0,469.6 L1557.6,468.5 L1558.2,467.4 L1558.9,466.4 L1559.5,465.3 L1560.1,464.3 L1560.7,463.2 L1561.4,462.2 L1562.0,461.2 L1562.6,460.2 L1563.2,459.2 L1563.8,458.3 L1564.5,457.3 L1565.1,456.4 L1565.7,455.5 L1566.3,454.6 L1567.0,453.7 L1567.6,452.8 L1568.2,452.0 L1568.8,451.1 L1569.5,450.3 L1570.1,449.5 L1570.7,448.7 L1571.3,447.9 L1572.0,447.2 L1572.6,446.5 L1573.2,445.7 L1573.8,445.1 L1574.4,444.4 L1575.1,443.7 L1575.7,443.1 L1576.3,442.5 L1576.9,441.9 L1577.6,441.3 L1578.2,440.7 L1578.8,440.2 L1579.4,439.7 L1580.1,439.2 L1580.7,438.7 L1581.3,438.3 L1581.9,437.8 L1582.5,437.4 L1583.2,437.0 L1583.8,436.7 L1584.4,436.3 L1585.0,436.0 L1585.7,435.7 L1586.3,435.4 L1586.9,435.1 L1587.5,434.9 L1588.2,434.7 L1588.8,434.5 L1589.4,434.3 L1590.0,434.2 L1590.7,434.1 L1591.3,434.0 L1591.9,433.9 L1592.5,433.8 L1593.1,433.8 L1593.8,433.8 L1594.4,433.8 L1595.0,433.8 L1595.6,433.9 L1596.3,434.0 L1596.9,434.1 L1597.5,434.2 L1598.1,434.3 L1598.8,434.5 L1599.4,434.7 L1600.0,434.9 L1600.6,435.1 L1601.2,435.4 L1601.9,435.7 L1602.5,436.0 L1603.1,436.3 L1603.7,436.7 L1604.4,437.0 L1605.0,437.4 L1605.6,437.8 L1606.2,438.3 L1606.9,438.7 L1607.5,439.2 L1608.1,439.7 L1608.7,440.2 L1609.3,440.7 L1610.0,441.3 L1610.6,441.9 L1611.2,442.5 L1611.8,443.1 L1612.5,443.7 L1613.1,444.4 L1613.7,445.1 L1614.3,445.7 L1615.0,446.5 L1615.6,447.2 L1616.2,447.9 L1616.8,448.7 L1617.5,449.5 L1618.1,450.3 L1618.7,451.1 L1619.3,452.0 L1619.9,452.8 L1620.6,453.7 L1621.2,454.6 L1621.8,455.5 L1622.4,456.4 L1623.1,457.3 L1623.7,458.3 L1624.3,459.2 L1624.9,460.2 L1625.6,461.2 L1626.2,462.2 L1626.8,463.2 L1627.4,464.3 L1628.0,465.3 L1628.7,466.4 L1629.3,467.4 L1629.9,468.5 L1630.5,469.6 L1631.2,470.7 L1631.8,471.8 L1632.4,472.9 L1633.0,474.1 L1633.7,475.2 L1634.3,476.4 L1634.9,477.5 L1635.5,478.7 L1636.1,479.9 L1636.8,481.1 L1637.4,482.3 L1638.0,483.5 L1638.6,484.7 L1639.3,485.9 L1639.9,487.1 L1640.5,488.3 L1641.1,489.6 L1641.8,490.8 L1642.4,492.1 L1643.0,493.3 L1643.6,494.5 L1644.3,495.8 L1644.9,497.0 L1645.5,498.3 L1646.1,499.6 L1646.7,500.8 L1647.4,502.1 L1648.0,503.3 L1648.6,504.6 L1649.2,505.8 L1649.9,507.1 L1650.5,508.4 L1651.1,509.6 L1651.7,510.9 L1652.4,512.1 L1653.0,513.4 L1653.6,514.6 L1654.2,515.9 L1654.8,517.1 L1655.5,518.3 L1656.1,519.6 L1656.7,520.8 L1657.3,522.0 L1658.0,523.2 L1658.6,524.4 L1659.2,525.6 L1659.8,526.8 L1660.5,528.0 L1661.1,529.2 L1661.7,530.4 L1662.3,531.5 L1663.0,532.7 L1663.6,533.8 L1664.2,535.0 L1664.8,536.1 L1665.4,537.2 L1666.1,538.3 L1666.7,539.4 L1667.3,540.5 L1667.9,541.6 L1668.6,542.6 L1669.2,543.7 L1669.8,544.7 L1670.4,545.7 L1671.1,546.7 L1671.7,547.7 L1672.3,548.7 L1672.9,549.7 L1673.5,550.6 L1674.2,551.5 L1674.8,552.5 L1675.4,553.4 L1676.0,554.2 L1676.7,555.1 L1677.3,556.0 L1677.9,556.8 L1678.5,557.6 L1679.2,558.4 L1679.8,559.2 L1680.4,560.0 L1681.0,560.7 L1681.6,561.5 L1682.3,562.2 L1682.9,562.9 L1683.5,563.5 L1684.1,564.2 L1684.8,564.8 L1685.4,565.5 L1686.0,566.1 L1686.6,566.6 L1687.3,567.2 L1687.9,567.7 L1688.5,568.2 L1689.1,568.7 L1689.8,569.2 L1690.4,569.7 L1691.0,570.1 L1691.6,570.5 L1692.2,570.9 L1692.9,571.3 L1693.5,571.6 L1694.1,571.9 L1694.7,572.2 L1695.4,572.5 L1696.0,572.8 L1696.6,573.0 L1697.2,573.2 L1697.9,573.4 L1698.5,573.6 L1699.1,573.7 L1699.7,573.9 L1700.3,574.0 L1701.0,574.0 L1701.6,574.1 L1702.2,574.1 L1702.8,574.1 L1703.5,574.1 L1704.1,574.1 L1704.7,574.0 L1705.3,574.0 L1706.0,573.9 L1706.6,573.7 L1707.2,573.6 L1707.8,573.4 L1708.5,573.2 L1709.1,573.0 L1709.7,572.8 L1710.3,572.5 L1710.9,572.2 L1711.6,571.9 L1712.2,571.6 L1712.8,571.3 L1713.4,570.9 L1714.1,570.5 L1714.7,570.1 L1715.3,569.7 L1715.9,569.2 L1716.6,568.7 L1717.2,568.2 L1717.8,567.7 L1718.4,567.2 L1719.0,566.6 L1719.7,566.1 L1720.3,565.5 L1720.9,564.8 L1721.5,564.2 L1722.2,563.5 L1722.8,562.9 L1723.4,562.2 L1724.0,561.5 L1724.7,560.7 L1725.3,560.0 L1725.9,559.2 L1726.5,558.4 L1727.1,557.6 L1727.8,556.8 L1728.4,556.0 L1729.0,555.1 L1729.6,554.2 L1730.3,553.4 L1730.9,552.5 L1731.5,551.5 L1732.1,550.6 L1732.8,549.7 L1733.4,548.7 L1734.0,547.7 L1734.6,546.7 L1735.3,545.7 L1735.9,544.7 L1736.5,543.7 L1737.1,542.6 L1737.7,541.6 L1738.4,540.5 L1739.0,539.4 L1739.6,538.3 L1740.2,537.2 L1740.9,536.1 L1741.5,535.0 L1742.1,533.8 L1742.7,532.7 L1743.4,531.5 L1744.0,530.4 L1744.6,529.2 L1745.2,528.0 L1745.8,526.8 L1746.5,525.6 L1747.1,524.4 L1747.7,523.2 L1748.3,522.0 L1749.0,520.8 L1749.6,519.6 L1750.2,518.3 L1750.8,517.1 L1751.5,515.9 L1752.1,514.6 L1752.7,513.4 L1753.3,512.1 L1753.9,510.9 L1754.6,509.6 L1755.2,508.4 L1755.8,507.1 L1756.4,505.8 L1757.1,504.6 L1757.7,503.3 L1758.3,502.1 L1758.9,500.8 L1759.6,499.6 L1760.2,498.3 L1760.8,497.0 L1761.4,495.8 L1762.1,494.5 L1762.7,493.3 L1763.3,492.1 L1763.9,490.8 L1764.5,489.6 L1765.2,488.3 L1765.8,487.1 L1766.4,485.9 L1767.0,484.7 L1767.7,483.5 L1768.3,482.3 L1768.9,481.1 L1769.5,479.9 L1770.2,478.7 L1770.8,477.5 L1771.4,476.4 L1772.0,475.2 L1772.6,474.1 L1773.3,472.9 L1773.9,471.8 L1774.5,470.7 L1775.1,469.6 L1775.8,468.5 L1776.4,467.4 L1777.0,466.4 L1777.6,465.3 L1778.3,464.3 L1778.9,463.2 L1779.5,462.2 L1780.1,461.2 L1780.8,460.2 L1781.4,459.2 L1782.0,458.3 L1782.6,457.3 L1783.2,456.4 L1783.9,455.5 L1784.5,454.6 L1785.1,453.7 L1785.7,452.8 L1786.4,452.0 L1787.0,451.1 L1787.6,450.3 L1788.2,449.5 L1788.9,448.7 L1789.5,447.9 L1790.1,447.2" stroke="#f00" stroke-dasharray="52.5 19.5 13.5 19.5"/>
<path d="M231.9,851.9 L232.5,849.5 L233.1,846.8 L233.8,843.8 L234.4,840.6 L235.0,837.1 L235.6,833.5 L236.3,829.8 L236.9,825.7 L237.5,821.2 L238.1,816.5 L238.8,811.4 L239.4,806.2 L240.0,800.7 L240.6,794.9 L241.2,788.9 L241.9,782.6 L242.5,775.9 L243.1,768.9 L243.7,761.6 L244.4,753.9 L245.0,745.6 L245.6,736.7 L246.2,727.4 L246.9,717.8 L247.5,708.1 L248.1,698.0 L248.7,687.5 L249.4,676.7 L250.0,665.8 L250.6,655.0 L251.2,644.0 L251.8,632.9 L252.5,621.5 L253.1,609.7 L253.7,597.6 L254.3,585.2 L255.0,572.6 L255.6,559.8 L256.2,546.1 L256.8,531.9 L257.5,518.1 L258.1,505.8 L258.7,495.3 L259.3,486.0 L259.9,477.2 L260.6,468.6 L261.2,459.8 L261.8,451.2 L262.4,442.8 L263.1,434.7 L263.7,426.9 L264.3,419.2 L264.9,411.7 L265.6,404.5 L266.2,397.7 L266.8,391.3 L267.4,385.3 L268.1,379.5 L268.7,373.9 L269.3,368.7 L269.9,363.8 L270.5,359.3 L271.2,355.4 L271.8,351.6 L272.4,347.9 L273.0,344.5 L273.7,341.3 L274.3,338.5 L274.9,336.3 L275.5,334.6 L276.2,333.3 L276.8,332.0 L277.4,330.8 L278.0,329.7 L278.6,328.8 L279.3,328.0 L279.9,327.3 L280.5,326.8 L281.1,326.5 L281.8,326.5 L282.4,326.7 L283.0,327.0 L283.6,327.4 L284.3,328.0 L284.9,328.7 L285.5,329.4 L286.1,330.1 L286.7,330.9 L287.4,331.7 L288.0,332.6 L288.6,333.6 L289.2,334.8 L289.9,336.1 L290.5,337.4 L291.1,338.8 L291.7,340.3 L292.4,341.8 L293.0,343.3 L293.6,344.8 L294.2,346.2 L294.9,347.7 L295.5,349.2 L296.1,350.7 L296.7,352.3 L297.3,353.9 L298.0,355.6 L298.6,357.3 L299.2,359.0 L299.8,360.7 L300.5,362.6 L301.1,364.5 L301.7,366.4 L302.3,368.4 L303.0,370.4 L303.6,372.4 L304.2,374.3 L304.8,376.3 L305.4,378.2 L306.1,380.0 L306.7,381.9 L307.3,383.7 L307.9,385.5 L308.6,387.3 L309.2,389.1 L309.8,390.9 L310.4,392.6 L311.1,394.3 L311.7,396.0 L312.3,397.8 L312.9,399.4 L313.5,401.1 L314.2,402.8 L314.8,404.5 L315.4,406.1 L316.0,407.7 L316.7,409.3 L317.3,410.9 L317.9,412.5 L318.5,414.0 L319.2,415.5 L319.8,417.0 L320.4,418.4 L321.0,419.9 L321.7,421.3 L322.3,422.7 L322.9,424.0 L323.5,425.4 L324.1,426.7 L324.8,428.0 L325.4,429.3 L326.0,430.6 L326.6,431.9 L327.3,433.2 L327.9,434.5 L328.5,435.8 L329.1,437.1 L329.8,438.3 L330.4,439.6 L331.0,440.8 L331.6,442.0 L332.2,443.2 L332.9,444.4 L333.5,445.7 L334.1,446.9 L334.7,448.1 L335.4,449.3 L336.0,450.5 L336.6,451.7 L337.2,452.9 L337.9,454.1 L338.5,455.3 L339.1,456.4 L339.7,457.4 L340.4,458.5 L341.0,459.5 L341.6,460.5 L342.2,461.5 L342.8,462.4 L343.5,463.4 L344.1,464.3 L344.7,465.2 L345.3,466.1 L346.0,466.9 L346.6,467.7 L347.2,468.6 L347.8,469.4 L348.5,470.1 L349.1,470.9 L349.7,471.6 L350.3,472.4 L350.9,473.1 L351.6,473.8 L352.2,474.5 L352.8,475.1 L353.4,475.8 L354.1,476.4 L354.7,477.0 L355.3,477.6 L355.9,478.2 L356.6,478.8 L357.2,479.4 L357.8,479.9 L358.4,480.5 L359.0,481.0 L359.7,481.5 L360.3,482.0 L360.9,482.5 L361.5,483.0 L362.2,483.5 L362.8,483.9 L363.4,484.4 L364.0,484.8 L364.7,485.3 L365.3,485.7 L365.9,486.1 L366.5,486.5 L367.2,486.9 L367.8,487.3 L368.4,487.7 L369.0,488.0 L369.6,488.4 L370.3,488.7 L370.9,489.1 L371.5,489.4 L372.1,489.7 L372.8,490.1 L373.4,490.4 L374.0,490.7 L374.6,491.0 L375.3,491.3 L375.9,491.6 L376.5,491.8 L377.1,492.1 L377.7,492.4 L378.4,492.6 L379.0,492.9 L379.6,493.1 L380.2,493.4 L380.9,493.6 L381.5,493.9 L382.1,494.1 L382.7,494.3 L383.4,494.5 L384.0,494.7 L384.6,494.9 L385.2,495.2 L385.9,495.3 L386.5,495.5 L387.1,495.7 L387.7,495.9 L388.3,496.1 L389.0,496.3 L389.6,496.4 L390.2,496.6 L390.8,496.8 L391.5,496.9 L392.1,497.1 L392.7,497.3 L393.3,497.4 L394.0,497.6 L394.6,497.7 L395.2,497.8 L395.8,498.0 L396.4,498.1 L397.1,498.2 L397.7,498.4 L398.3,498.5 L398.9,498.6 L399.6,498.7 L400.2,498.9 L400.8,499.0 L401.4,499.1 L402.1,499.2 L402.7,499.3 L403.3,499.4 L403.9,499.5 L404.5,499.6 L405.2,499.7 L405.8,499.8 L406.4,499.9 L407.0,500.0 L407.7,500.1 L408.3,500.2 L408.9,500.3 L409.5,500.3 L410.2,500.4 L410.8,500.5 L411.4,500.6 L412.0,500.7 L412.7,500.7 L413.3,500.8 L413.9,500.9 L414.5,500.9 L415.1,501.0 L415.8,501.1 L416.4,501.1 L417.0,501.2 L417.6,501.3 L418.3,501.3 L418.9,501.4 L419.5,501.4 L420.1,501.5 L420.8,501.6 L421.4,501.6 L422.0,501.7 L422.6,501.7 L423.2,501.8 L423.9,501.8 L424.5,501.9 L425.1,501.9 L425.7,502.0 L426.4,502.0 L427.0,502.0 L427.6,502.1 L428.2,502.1 L428.9,502.2 L429.5,502.2 L430.1,502.3 L430.7,502.3 L431.3,502.3 L432.0,502.4 L432.6,502.4 L433.2,502.4 L433.8,502.5 L434.5,502.5 L435.1,502.5 L435.7,502.6 L436.3,502.6 L437.0,502.6 L437.6,502.7 L438.2,502.7 L438.8,502.7 L439.5,502.7 L440.1,502.8 L440.7,502.8 L441.3,502.8 L441.9,502.9 L442.6,502.9 L443.2,502.9 L443.8,502.9 L444.4,503.0 L445.1,503.0 L445.7,503.0 L446.3,503.0 L446.9,503.0 L447.6,503.1 L448.2,503.1 L448.8,503.1 L449.4,503.1 L450.0,503.1 L450.7,503.2 L451.3,503.2 L451.9,503.2 L452.5,503.2 L453.2,503.2 L453.8,503.2 L454.4,503.3 L455.0,503.3 L455.7,503.3 L456.3,503.3 L456.9,503.3 L457.5,503.3 L458.2,503.3 L458.8,503.4 L459.4,503.4 L460.0,503.4 L460.6,503.4 L461.3,503.4 L461.9,503.4 L462.5,503.4 L463.1,503.5 L463.8,503.5 L464.4,503.5 L465.0,503.5 L465.6,503.5 L466.3,503.5 L466.9,503.5 L467.5,503.5 L468.1,503.5 L468.7,503.5 L469.4,503.6 L470.0,503.6 L470.6,503.6 L471.2,503.6 L471.9,503.6 L472.5,503.6 L473.1,503.6 L473.7,503.6 L474.4,503.6 L475.0,503.6 L475.6,503.6 L476.2,503.6 L476.8,503.7 L477.5,503.7 L478.1,503.7 L478.7,503.7 L479.3,503.7 L480.0,503.7 L480.6,503.7 L481.2,503.7 L481.8,503.7 L482.5,503.7 L483.1,503.7 L483.7,503.7 L484.3,503.7 L485.0,503.7 L485.6,503.7 L486.2,503.7 L486.8,503.7 L487.4,503.8 L488.1,503.8 L488.7,503.8 L489.3,503.8 L489.9,503.8 L490.6,503.8 L491.2,503.8 L491.8,503.8 L492.4,503.8 L493.1,503.8 L493.7,503.8 L494.3,503.8 L494.9,503.8 L495.5,503.8 L496.2,503.8 L496.8,503.8 L497.4,503.8 L498.0,503.8 L498.7,503.8 L499.3,503.8 L499.9,503.8 L500.5,503.8 L501.2,503.8 L501.8,503.8 L502.4,503.8 L503.0,503.8 L503.7,503.8 L504.3,503.8 L504.9,503.8 L505.5,503.9 L506.1,503.9 L506.8,503.9 L507.4,503.9 L508.0,503.9 L508.6,503.9 L509.3,503.9 L509.9,503.9 L510.5,503.9 L511.1,503.9 L511.8,503.9 L512.4,503.9 L513.0,503.9 L513.6,503.9 L514.2,503.9 L514.9,503.9 L515.5,503.9 L516.1,503.9 L516.7,503.9 L517.4,503.9 L518.0,503.9 L518.6,503.9 L519.2,503.9 L519.9,503.9 L520.5,503.9 L521.1,503.9 L521.7,503.9 L522.3,503.9 L523.0,503.9 L523.6,503.9 L524.2,503.9 L524.8,503.9 L525.5,503.9 L526.1,503.9 L526.7,503.9 L527.3,503.9 L528.0,503.9 L528.6,503.9 L529.2,503.9 L529.8,503.9 L530.5,503.9 L531.1,503.9 L531.7,503.9 L532.3,503.9 L532.9,503.9 L533.6,503.9 L534.2,503.9 L534.8,503.9 L535.4,503.9 L536.1,503.9 L536.7,503.9 L537.3,503.9 L537.9,503.9 L538.6,503.9 L539.2,503.9 L539.8,503.9 L540.4,503.9 L541.0,503.9 L541.7,503.9 L542.3,503.9 L542.9,503.9 L543.5,503.9 L544.2,503.9 L544.8,503.9 L545.4,503.9 L546.0,503.9 L546.7,503.9 L547.3,503.9 L547.9,503.9 L548.5,503.9 L549.1,503.9 L549.8,503.9 L550.4,503.9 L551.0,503.9 L551.6,503.9 L552.3,503.9 L552.9,503.9 L553.5,503.9 L554.1,503.9 L554.8,503.9 L555.4,503.9 L556.0,503.9 L556.6,503.9 L557.3,503.9 L557.9,503.9 L558.5,503.9 L559.1,503.9 L559.7,503.9 L560.4,503.9 L561.0,503.9 L561.6,503.9 L562.2,503.9 L562.9,503.9 L563.5,503.9 L564.1,503.9 L564.7,503.9 L565.4,503.9 L566.0,503.9 L566.6,503.9 L567.2,503.9 L567.8,503.9 L568.5,503.9 L569.1,503.9 L569.7,503.9 L570.3,503.9 L571.0,504.0 L571.6,504.0 L572.2,504.0 L572.8,504.0 L573.5,504.0 L574.1,504.0 L574.7,504.0 L575.3,504.0 L576.0,504.0 L576.6,504.0 L577.2,504.0 L577.8,504.0 L578.4,504.0 L579.1,504.0 L579.7,504.0 L580.3,504.0 L580.9,504.0 L581.6,504.0 L582.2,504.0 L582.8,504.0 L583.4,504.0 L584.1,504.0 L584.7,504.0 L585.3,504.0 L585.9,504.0 L586.5,504.0 L587.2,504.0 L587.8,504.0 L588.4,504.0 L589.0,504.0 L589.7,504.0 L590.3,504.0 L590.9,504.0 L591.5,504.0 L592.2,504.0 L592.8,504.0 L593.4,504.0 L594.0,504.0 L594.6,504.0 L595.3,504.0 L595.9,504.0 L596.5,504.0 L597.1,504.0 L597.8,504.0 L598.4,504.0 L599.0,504.0 L599.6,504.0 L600.3,504.0 L600.9,504.0 L601.5,504.0 L602.1,504.0 L602.8,504.0 L603.4,504.0 L604.0,504.0 L604.6,504.0 L605.2,504.0 L605.9,504.0 L606.5,504.0 L607.1,504.0 L607.7,504.0 L608.4,504.0 L609.0,504.0 L609.6,504.0 L610.2,504.0 L610.9,504.0 L611.5,504.0 L612.1,504.0 L612.7,504.0 L613.3,504.0 L614.0,504.0 L614.6,504.0 L615.2,504.0 L615.8,504.0 L616.5,504.0 L617.1,504.0 L617.7,504.0 L618.3,504.0 L619.0,504.0 L619.6,504.0 L620.2,504.0 L620.8,504.0 L621.4,504.0 L622.1,504.0 L622.7,504.0 L623.3,504.0 L623.9,504.0 L624.6,504.0 L625.2,504.0 L625.8,504.0 L626.4,504.0 L627.1,504.0 L627.7,504.0 L628.3,504.0 L628.9,504.0 L629.6,504.0 L630.2,504.0 L630.8,504.0 L631.4,504.0 L632.0,504.0 L632.7,504.0 L633.3,504.0 L633.9,504.0 L634.5,504.0 L635.2,504.0 L635.8,504.0 L636.4,504.0 L637.0,504.0 L637.7,504.0 L638.3,504.0 L638.9,504.0 L639.5,504.0 L640.1,504.0 L640.8,504.0 L641.4,504.0 L642.0,504.0 L642.6,504.0 L643.3,504.0 L643.9,504.0 L644.5,504.0 L645.1,504.0 L645.8,504.0 L646.4,504.0 L647.0,504.0 L647.6,504.0 L648.3,504.0 L648.9,504.0 L649.5,504.0 L650.1,504.0 L650.7,504.0 L651.4,504.0 L652.0,504.0 L652.6,504.0 L653.2,504.0 L653.9,504.0 L654.5,504.0 L655.1,504.0 L655.7,504.0 L656.4,504.0 L657.0,504.0 L657.6,504.0 L658.2,504.0 L658.8,504.0 L659.5,504.0 L660.1,504.0 L660.7,504.0 L661.3,504.0 L662.0,504.0 L662.6,504.0 L663.2,504.0 L663.8,504.0 L664.5,504.0 L665.1,504.0 L665.7,504.0 L666.3,504.0 L666.9,504.0 L667.6,504.0 L668.2,504.0 L668.8,504.0 L669.4,504.0 L670.1,504.0 L670.7,504.0 L671.3,504.0 L671.9,504.0 L672.6,504.0 L673.2,504.0 L673.8,504.0 L674.4,504.0 L675.1,504.0 L675.7,504.0 L676.3,504.0 L676.9,504.0 L677.5,504.0 L678.2,504.0 L678.8,504.0 L679.4,504.0 L680.0,504.0 L680.7,504.0 L681.3,504.0 L681.9,504.0 L682.5,504.0 L683.2,504.0 L683.8,504.0 L684.4,504.0 L685.0,504.0 L685.6,504.0 L686.3,504.0 L686.9,504.0 L687.5,504.0 L688.1,504.0 L688.8,504.0 L689.4,504.0 L690.0,504.0 L690.6,504.0 L691.3,504.0 L691.9,504.0 L692.5,504.0 L693.1,504.0 L693.8,504.0 L694.4,504.0 L695.0,504.0 L695.6,504.0 L696.2,504.0 L696.9,504.0 L697.5,504.0 L698.1,504.0 L698.7,504.0 L699.4,504.0 L700.0,504.0 L700.6,504.0 L701.2,504.0 L701.9,504.0 L702.5,504.0 L703.1,504.0 L703.7,504.0 L704.3,504.0 L705.0,504.0 L705.6,504.0 L706.2,504.0 L706.8,504.0 L707.5,504.0 L708.1,504.0 L708.7,504.0 L709.3,504.0 L710.0,504.0 L710.6,504.0 L711.2,504.0 L711.8,504.0 L712.4,504.0 L713.1,504.0 L713.7,504.0 L714.3,504.0 L714.9,504.0 L715.6,504.0 L716.2,504.0 L716.8,504.0 L717.4,504.0 L718.1,504.0 L718.7,504.0 L719.3,504.0 L719.9,504.0 L720.6,504.0 L721.2,504.0 L721.8,504.0 L722.4,504.0 L723.0,504.0 L723.7,504.0 L724.3,504.0 L724.9,504.0 L725.5,504.0 L726.2,504.0 L726.8,504.0 L727.4,504.0 L728.0,504.0 L728.7,504.0 L729.3,504.0 L729.9,504.0 L730.5,504.0 L731.1,504.0 L731.8,504.0 L732.4,504.0 L733.0,504.0 L733.6,504.0 L734.3,504.0 L734.9,504.0 L735.5,504.0 L736.1,504.0 L736.8,504.0 L737.4,504.0 L738.0,504.0 L738.6,504.0 L739.2,504.0 L739.9,504.0 L740.5,504.0 L741.1,504.0 L741.7,504.0 L742.4,504.0 L743.0,504.0 L743.6,504.0 L744.2,504.0 L744.9,504.0 L745.5,504.0 L746.1,504.0 L746.7,504.0 L747.4,504.0 L748.0,504.0 L748.6,504.0 L749.2,504.0 L749.8,504.0 L750.5,504.0 L751.1,504.0 L751.7,503.9 L752.3,503.9 L753.0,503.8 L753.6,503.8 L754.2,503.7 L754.8,503.5 L755.5,503.1 L756.1,502.8 L756.7,502.5 L757.3,502.2 L757.9,501.9 L758.6,501.6 L759.2,501.3 L759.8,501.0 L760.4,500.8 L761.1,500.5 L761.7,500.3 L762.3,500.1 L762.9,499.8 L763.6,499.6 L764.2,499.5 L764.8,499.3 L765.4,499.1 L766.1,499.0 L766.7,498.8 L767.3,498.7 L767.9,498.6 L768.5,498.5 L769.2,498.4 L769.8,498.4 L770.4,498.3 L771.0,498.3 L771.7,498.3 L772.3,498.3 L772.9,498.3 L773.5,498.3 L774.2,498.4 L774.8,498.4 L775.4,498.5 L776.0,498.6 L776.6,498.8 L777.3,498.9 L777.9,499.1 L778.5,499.3 L779.1,499.5 L779.8,499.8 L780.4,500.0 L781.0,500.3 L781.6,500.7 L782.3,501.0 L782.9,501.4 L783.5,501.8 L784.1,502.2 L784.7,502.7 L785.4,503.1 L786.0,503.6 L786.6,504.1 L787.2,504.6 L787.9,505.1 L788.5,505.6 L789.1,506.2 L789.7,506.7 L790.4,507.2 L791.0,507.8 L791.6,508.3 L792.2,508.8 L792.9,509.3 L793.5,509.9 L794.1,510.4 L794.7,510.9 L795.3,511.4 L796.0,511.9 L796.6,512.4 L797.2,512.9 L797.8,513.4 L798.5,513.9 L799.1,514.3 L799.7,514.8 L800.3,515.3 L801.0,515.7 L801.6,516.2 L802.2,516.6 L802.8,517.1 L803.4,517.5 L804.1,517.9 L804.7,518.3 L805.3,518.7 L805.9,519.1 L806.6,519.5 L807.2,519.9 L807.8,520.3 L808.4,520.6 L809.1,521.0 L809.7,521.3 L810.3,521.7 L810.9,522.0 L811.6,522.3 L812.2,522.6 L812.8,522.9 L813.4,523.2 L814.0,523.5 L814.7,523.8 L815.3,524.1 L815.9,524.3 L816.5,524.6 L817.2,524.8 L817.8,525.1 L818.4,525.3 L819.0,525.5 L819.7,525.7 L820.3,525.9 L820.9,526.1 L821.5,526.3 L822.1,526.4 L822.8,526.6 L823.4,526.7 L824.0,526.9 L824.6,527.0 L825.3,527.1 L825.9,527.2 L826.5,527.3 L827.1,527.3 L827.8,527.4 L828.4,527.5 L829.0,527.5 L829.6,527.5 L830.2,527.5 L830.9,527.5 L831.5,527.5 L832.1,527.4 L832.7,527.4 L833.4,527.3 L834.0,527.3 L834.6,527.2 L835.2,527.1 L835.9,527.0 L836.5,526.9 L837.1,526.7 L837.7,526.6 L838.4,526.5 L839.0,526.3 L839.6,526.1 L840.2,525.9 L840.8,525.7 L841.5,525.5 L842.1,525.3 L842.7,525.1 L843.3,524.9 L844.0,524.6 L844.6,524.4 L845.2,524.1 L845.8,523.9 L846.5,523.6 L847.1,523.3 L847.7,523.0 L848.3,522.7 L848.9,522.4 L849.6,522.1 L850.2,521.8 L850.8,521.5 L851.4,521.1 L852.1,520.8 L852.7,520.5 L853.3,520.1 L853.9,519.7 L854.6,519.4 L855.2,519.0 L855.8,518.6 L856.4,518.2 L857.0,517.8 L857.7,517.4 L858.3,517.0 L858.9,516.6 L859.5,516.2 L860.2,515.8 L860.8,515.3 L861.4,514.9 L862.0,514.5 L862.7,514.0 L863.3,513.5 L863.9,513.1 L864.5,512.6 L865.2,512.2 L865.8,511.7 L866.4,511.2 L867.0,510.7 L867.6,510.2 L868.3,509.7 L868.9,509.2 L869.5,508.7 L870.1,508.2 L870.8,507.7 L871.4,507.2 L872.0,506.7 L872.6,506.2 L873.3,505.6 L873.9,505.1 L874.5,504.6 L875.1,504.0 L875.7,503.5 L876.4,503.0 L877.0,502.4 L877.6,501.9 L878.2,501.3 L878.9,500.8 L879.5,500.2 L880.1,499.6 L880.7,499.1 L881.4,498.5 L882.0,498.0 L882.6,497.4 L883.2,496.8 L883.9,496.3 L884.5,495.7 L885.1,495.1 L885.7,494.6 L886.3,494.0 L887.0,493.5 L887.6,492.9 L888.2,492.3 L888.8,491.8 L889.5,491.2 L890.1,490.7 L890.7,490.1 L891.3,489.6 L892.0,489.0 L892.6,488.5 L893.2,488.0 L893.8,487.5 L894.4,486.9 L895.1,486.4 L895.7,485.9 L896.3,485.4 L896.9,484.9 L897.6,484.4 L898.2,483.9 L898.8,483.5 L899.4,483.0 L900.1,482.5 L900.7,482.1 L901.3,481.7 L901.9,481.2 L902.5,480.8 L903.2,480.4 L903.8,480.0 L904.4,479.6 L905.0,479.2 L905.7,478.8 L906.3,478.4 L906.9,478.1 L907.5,477.7 L908.2,477.4 L908.8,477.1 L909.4,476.7 L910.0,476.4 L910.7,476.1 L911.3,475.8 L911.9,475.6 L912.5,475.3 L913.1,475.0 L913.8,474.8 L914.4,474.5 L915.0,474.3 L915.6,474.1 L916.3,473.9 L916.9,473.7 L917.5,473.5 L918.1,473.3 L918.8,473.1 L919.4,472.9 L920.0,472.8 L920.6,472.6 L921.2,472.5 L921.9,472.4 L922.5,472.3 L923.1,472.2 L923.7,472.1 L924.4,472.0 L925.0,471.9 L925.6,471.9 L926.2,471.8 L926.9,471.8 L927.5,471.7 L928.1,471.7 L928.7,471.7 L929.4,471.7 L930.0,471.7 L930.6,471.8 L931.2,471.8 L931.8,471.8 L932.5,471.9 L933.1,471.9 L933.7,472.0 L934.3,472.1 L935.0,472.2 L935.6,472.3 L936.2,472.4 L936.8,472.6 L937.5,472.7 L938.1,472.8 L938.7,473.0 L939.3,473.2 L939.9,473.3 L940.6,473.5 L941.2,473.7 L941.8,473.9 L942.4,474.1 L943.1,474.4 L943.7,474.6 L944.3,474.9 L944.9,475.1 L945.6,475.4 L946.2,475.6 L946.8,475.9 L947.4,476.2 L948.0,476.5 L948.7,476.8 L949.3,477.2 L949.9,477.5 L950.5,477.8 L951.2,478.2 L951.8,478.5 L952.4,478.9 L953.0,479.2 L953.7,479.6 L954.3,480.0 L954.9,480.4 L955.5,480.8 L956.2,481.2 L956.8,481.6 L957.4,482.0 L958.0,482.5 L958.6,482.9 L959.3,483.4 L959.9,483.8 L960.5,484.3 L961.1,484.7 L961.8,485.2 L962.4,485.7 L963.0,486.2 L963.6,486.6 L964.3,487.1 L964.9,487.6 L965.5,488.1 L966.1,488.7 L966.7,489.2 L967.4,489.7 L968.0,490.2 L968.6,490.7 L969.2,491.3 L969.9,491.8 L970.5,492.4 L971.1,492.9 L971.7,493.4 L972.4,494.0 L973.0,494.6 L973.6,495.1 L974.2,495.7 L974.8,496.2 L975.5,496.8 L976.1,497.4 L976.7,497.9 L977.3,498.5 L978.0,499.1 L978.6,499.7 L979.2,500.2 L979.8,500.8 L980.5,501.4 L981.1,502.0 L981.7,502.6 L982.3,503.1 L983.0,503.7 L983.6,504.3 L984.2,504.9 L984.8,505.5 L985.4,506.0 L986.1,506.6 L986.7,507.2 L987.3,507.8 L987.9,508.4 L988.6,508.9 L989.2,509.5 L989.8,510.1 L990.4,510.6 L991.1,511.2 L991.7,511.8 L992.3,512.3 L992.9,512.9 L993.5,513.5 L994.2,514.0 L994.8,514.6 L995.4,515.1 L996.0,515.7 L996.7,516.2 L997.3,516.7 L997.9,517.3 L998.5,517.8 L999.2,518.3 L999.8,518.8 L1000.4,519.3 L1001.0,519.9 L1001.7,520.4 L1002.3,520.9 L1002.9,521.4 L1003.5,521.8 L1004.1,522.3 L1004.8,522.8 L1005.4,523.3 L1006.0,523.7 L1006.6,524.2 L1007.3,524.6 L1007.9,525.1 L1008.5,525.5 L1009.1,525.9 L1009.8,526.4 L1010.4,526.8 L1011.0,527.2 L1011.6,527.6 L1012.2,528.0 L1012.9,528.4 L1013.5,528.7 L1014.1,529.1 L1014.7,529.5 L1015.4,529.8 L1016.0,530.2 L1016.6,530.5 L1017.2,530.8 L1017.9,531.1 L1018.5,531.4 L1019.1,531.7 L1019.7,532.0 L1020.3,532.3 L1021.0,532.6 L1021.6,532.9 L1022.2,533.1 L1022.8,533.4 L1023.5,533.6 L1024.1,533.8 L1024.7,534.0 L1025.3,534.2 L1026.0,534.4 L1026.6,534.6 L1027.2,534.8 L1027.8,535.0 L1028.5,535.1 L1029.1,535.3 L1029.7,535.4 L1030.3,535.5 L1030.9,535.6 L1031.6,535.7 L1032.2,535.8 L1032.8,535.9 L1033.4,536.0 L1034.1,536.0 L1034.7,536.1 L1035.3,536.1 L1035.9,536.2 L1036.6,536.2 L1037.2,536.2 L1037.8,536.2 L1038.4,536.2 L1039.0,536.2 L1039.7,536.1 L1040.3,536.1 L1040.9,536.0 L1041.5,536.0 L1042.2,535.9 L1042.8,535.8 L1043.4,535.7 L1044.0,535.6 L1044.7,535.5 L1045.3,535.4 L1045.9,535.3 L1046.5,535.1 L1047.2,535.0 L1047.8,534.8 L1048.4,534.6 L1049.0,534.4 L1049.6,534.2 L1050.3,534.0 L1050.9,533.8 L1051.5,533.6 L1052.1,533.4 L1052.8,533.1 L1053.4,532.9 L1054.0,532.6 L1054.6,532.3 L1055.3,532.0 L1055.9,531.7 L1056.5,531.4 L1057.1,531.1 L1057.7,530.8 L1058.4,530.5 L1059.0,530.2 L1059.6,529.8 L1060.2,529.5 L1060.9,529.1 L1061.5,528.7 L1062.1,528.4 L1062.7,528.0 L1063.4,527.6 L1064.0,527.2 L1064.6,526.8 L1065.2,526.4 L1065.8,525.9 L1066.5,525.5 L1067.1,525.1 L1067.7,524.6 L1068.3,524.2 L1069.0,523.7 L1069.6,523.3 L1070.2,522.8 L1070.8,522.3 L1071.5,521.8 L1072.1,521.4 L1072.7,520.9 L1073.3,520.4 L1074.0,519.9 L1074.6,519.3 L1075.2,518.8 L1075.8,518.3 L1076.4,517.8 L1077.1,517.3 L1077.7,516.7 L1078.3,516.2 L1078.9,515.7 L1079.6,515.1 L1080.2,514.6 L1080.8,514.0 L1081.4,513.5 L1082.1,512.9 L1082.7,512.3 L1083.3,511.8 L1083.9,511.2 L1084.5,510.6 L1085.2,510.1 L1085.8,509.5 L1086.4,508.9 L1087.0,508.4 L1087.7,507.8 L1088.3,507.2 L1088.9,506.6 L1089.5,506.0 L1090.2,505.5 L1090.8,504.9 L1091.4,504.3 L1092.0,503.7 L1092.6,503.1 L1093.3,502.6 L1093.9,502.0 L1094.5,501.4 L1095.1,500.8 L1095.8,500.2 L1096.4,499.7 L1097.0,499.1 L1097.6,498.5 L1098.3,497.9 L1098.9,497.4 L1099.5,496.8 L1100.1,496.2 L1100.8,495.7 L1101.4,495.1 L1102.0,494.6 L1102.6,494.0 L1103.2,493.4 L1103.9,492.9 L1104.5,492.4 L1105.1,491.8 L1105.7,491.3 L1106.4,490.7 L1107.0,490.2 L1107.6,489.7 L1108.2,489.2 L1108.9,488.7 L1109.5,488.1 L1110.1,487.6 L1110.7,487.1 L1111.3,486.6 L1112.0,486.2 L1112.6,485.7 L1113.2,485.2 L1113.8,484.7 L1114.5,484.3 L1115.1,483.8 L1115.7,483.4 L1116.3,482.9 L1117.0,482.5 L1117.6,482.0 L1118.2,481.6 L1118.8,481.2 L1119.5,480.8 L1120.1,480.4 L1120.7,480.0 L1121.3,479.6 L1121.9,479.2 L1122.6,478.9 L1123.2,478.5 L1123.8,478.2 L1124.4,477.8 L1125.1,477.5 L1125.7,477.2 L1126.3,476.8 L1126.9,476.5 L1127.6,476.2 L1128.2,475.9 L1128.8,475.6 L1129.4,475.4 L1130.0,475.1 L1130.7,474.9 L1131.3,474.6 L1131.9,474.4 L1132.5,474.1 L1133.2,473.9 L1133.8,473.7 L1134.4,473.5 L1135.0,473.3 L1135.7,473.2 L1136.3,473.0 L1136.9,472.8 L1137.5,472.7 L1138.1,472.6 L1138.8,472.4 L1139.4,472.3 L1140.0,472.2 L1140.6,472.1 L1141.3,472.0 L1141.9,471.9 L1142.5,471.9 L1143.1,471.8 L1143.8,471.8 L1144.4,471.8 L1145.0,471.7 L1145.6,471.7 L1146.3,471.7 L1146.9,471.7 L1147.5,471.7 L1148.1,471.8 L1148.7,471.8 L1149.4,471.9 L1150.0,471.9 L1150.6,472.0 L1151.2,472.1 L1151.9,472.2 L1152.5,472.3 L1153.1,472.4 L1153.7,472.5 L1154.4,472.6 L1155.0,472.8 L1155.6,472.9 L1156.2,473.1 L1156.8,473.3 L1157.5,473.5 L1158.1,473.7 L1158.7,473.9 L1159.3,474.1 L1160.0,474.3 L1160.6,474.5 L1161.2,474.8 L1161.8,475.0 L1162.5,475.3 L1163.1,475.6 L1163.7,475.8 L1164.3,476.1 L1165.0,476.4 L1165.6,476.7 L1166.2,477.0 L1166.8,477.4 L1167.4,477.7 L1168.1,478.0 L1168.7,478.4 L1169.3,478.8 L1169.9,479.1 L1170.6,479.5 L1171.2,479.9 L1171.8,480.3 L1172.4,480.7 L1173.1,481.1 L1173.7,481.5 L1174.3,481.9 L1174.9,482.3 L1175.5,482.8 L1176.2,483.2 L1176.8,483.7 L1177.4,484.1 L1178.0,484.6 L1178.7,485.0 L1179.3,485.5 L1179.9,486.0 L1180.5,486.5 L1181.2,487.0 L1181.8,487.5 L1182.4,488.0 L1183.0,488.5 L1183.6,489.0 L1184.3,489.5 L1184.9,490.0 L1185.5,490.6 L1186.1,491.1 L1186.8,491.6 L1187.4,492.2 L1188.0,492.7 L1188.6,493.3 L1189.3,493.8 L1189.9,494.4 L1190.5,494.9 L1191.1,495.5 L1191.8,496.0 L1192.4,496.6 L1193.0,497.2 L1193.6,497.7 L1194.2,498.3 L1194.9,498.9 L1195.5,499.5 L1196.1,500.0 L1196.7,500.6 L1197.4,501.2 L1198.0,501.8 L1198.6,502.4 L1199.2,502.9 L1199.9,503.5 L1200.5,504.1 L1201.1,504.7 L1201.7,505.3 L1202.3,505.8 L1203.0,506.4 L1203.6,507.0 L1204.2,507.6 L1204.8,508.2 L1205.5,508.7 L1206.1,509.3 L1206.7,509.9 L1207.3,510.5 L1208.0,511.0 L1208.6,511.6 L1209.2,512.2 L1209.8,512.7 L1210.4,513.3 L1211.1,513.8 L1211.7,514.4 L1212.3,514.9 L1212.9,515.5 L1213.6,516.0 L1214.2,516.6 L1214.8,517.1 L1215.4,517.6 L1216.1,518.1 L1216.7,518.7 L1217.3,519.2 L1217.9,519.7 L1218.6,520.2 L1219.2,520.7 L1219.8,521.2 L1220.4,521.7 L1221.0,522.2 L1221.7,522.6 L1222.3,523.1 L1222.9,523.6 L1223.5,524.0 L1224.2,524.5 L1224.8,524.9 L1225.4,525.4 L1226.0,525.8 L1226.7,526.2 L1227.3,526.6 L1227.9,527.1 L1228.5,527.5 L1229.1,527.8 L1229.8,528.2 L1230.4,528.6 L1231.0,529.0 L1231.6,529.3 L1232.3,529.7 L1232.9,530.0 L1233.5,530.4 L1234.1,530.7 L1234.8,531.0 L1235.4,531.3 L1236.0,531.6 L1236.6,531.9 L1237.3,532.2 L1237.9,532.5 L1238.5,532.8 L1239.1,533.0 L1239.7,533.3 L1240.4,533.5 L1241.0,533.7 L1241.6,534.0 L1242.2,534.2 L1242.9,534.4 L1243.5,534.6 L1244.1,534.7 L1244.7,534.9 L1245.4,535.1 L1246.0,535.2 L1246.6,535.3 L1247.2,535.5 L1247.8,535.6 L1248.5,535.7 L1249.1,535.8 L1249.7,535.9 L1250.3,536.0 L1251.0,536.0 L1251.6,536.1 L1252.2,536.1 L1252.8,536.2 L1253.5,536.2 L1254.1,536.2 L1254.7,536.2 L1255.3,536.2 L1255.9,536.2 L1256.6,536.2 L1257.2,536.1 L1257.8,536.1 L1258.4,536.0 L1259.1,535.9 L1259.7,535.9 L1260.3,535.8 L1260.9,535.7 L1261.6,535.6 L1262.2,535.4 L1262.8,535.3 L1263.4,535.2 L1264.1,535.0 L1264.7,534.8 L1265.3,534.7 L1265.9,534.5 L1266.5,534.3 L1267.2,534.1 L1267.8,533.9 L1268.4,533.7 L1269.0,533.4 L1269.7,533.2 L1270.3,532.9 L1270.9,532.7 L1271.5,532.4 L1272.2,532.1 L1272.8,531.8 L1273.4,531.5 L1274.0,531.2 L1274.6,530.9 L1275.3,530.6 L1275.9,530.3 L1276.5,529.9 L1277.1,529.6 L1277.8,529.2 L1278.4,528.9 L1279.0,528.5 L1279.6,528.1 L1280.3,527.7 L1280.9,527.3 L1281.5,526.9 L1282.1,526.5 L1282.8,526.1 L1283.4,525.7 L1284.0,525.2 L1284.6,524.8 L1285.2,524.3 L1285.9,523.9 L1286.5,523.4 L1287.1,523.0 L1287.7,522.5 L1288.4,522.0 L1289.0,521.5 L1289.6,521.0 L1290.2,520.5 L1290.9,520.0 L1291.5,519.5 L1292.1,519.0 L1292.7,518.5 L1293.3,518.0 L1294.0,517.4 L1294.6,516.9 L1295.2,516.4 L1295.8,515.8 L1296.5,515.3 L1297.1,514.8 L1297.7,514.2 L1298.3,513.6 L1299.0,513.1 L1299.6,512.5 L1300.2,512.0 L1300.8,511.4 L1301.4,510.8 L1302.1,510.3 L1302.7,509.7 L1303.3,509.1 L1303.9,508.5 L1304.6,508.0 L1305.2,507.4 L1305.8,506.8 L1306.4,506.2 L1307.1,505.7 L1307.7,505.1 L1308.3,504.5 L1308.9,503.9 L1309.6,503.3 L1310.2,502.7 L1310.8,502.2 L1311.4,501.6 L1312.0,501.0 L1312.7,500.4 L1313.3,499.9 L1313.9,499.3 L1314.5,498.7 L1315.2,498.1 L1315.8,497.6 L1316.4,497.0 L1317.0,496.4 L1317.7,495.9 L1318.3,495.3 L1318.9,494.7 L1319.5,494.2 L1320.1,493.6 L1320.8,493.1 L1321.4,492.5 L1322.0,492.0 L1322.6,491.5 L1323.3,490.9 L1323.9,490.4 L1324.5,489.9 L1325.1,489.3 L1325.8,488.8 L1326.4,488.3 L1327.0,487.8 L1327.6,487.3 L1328.2,486.8 L1328.9,486.3 L1329.5,485.8 L1330.1,485.4 L1330.7,484.9 L1331.4,484.4 L1332.0,484.0 L1332.6,483.5 L1333.2,483.1 L1333.9,482.6 L1334.5,482.2 L1335.1,481.8 L1335.7,481.3 L1336.4,480.9 L1337.0,480.5 L1337.6,480.1 L1338.2,479.8 L1338.8,479.4 L1339.5,479.0 L1340.1,478.6 L1340.7,478.3 L1341.3,477.9 L1342.0,477.6 L1342.6,477.3 L1343.2,476.9 L1343.8,476.6 L1344.5,476.3 L1345.1,476.0 L1345.7,475.7 L1346.3,475.5 L1346.9,475.2 L1347.6,474.9 L1348.2,474.7 L1348.8,474.5 L1349.4,474.2 L1350.1,474.0 L1350.7,473.8 L1351.3,473.6 L1351.9,473.4 L1352.6,473.2 L1353.2,473.0 L1353.8,472.9 L1354.4,472.7 L1355.1,472.6 L1355.7,472.5 L1356.3,472.3 L1356.9,472.2 L1357.5,472.1 L1358.2,472.0 L1358.8,472.0 L1359.4,471.9 L1360.0,471.8 L1360.7,471.8 L1361.3,471.8 L1361.9,471.7 L1362.5,471.7 L1363.2,471.7 L1363.8,471.7 L1364.4,471.7 L1365.0,471.8 L1365.6,471.8 L1366.3,471.8 L1366.9,471.9 L1367.5,472.0 L1368.1,472.0 L1368.8,472.1 L1369.4,472.2 L1370.0,472.3 L1370.6,472.5 L1371.3,472.6 L1371.9,472.7 L1372.5,472.9 L1373.1,473.0 L1373.7,473.2 L1374.4,473.4 L1375.0,473.6 L1375.6,473.8 L1376.2,474.0 L1376.9,474.2 L1377.5,474.5 L1378.1,474.7 L1378.7,474.9 L1379.4,475.2 L1380.0,475.5 L1380.6,475.7 L1381.2,476.0 L1381.9,476.3 L1382.5,476.6 L1383.1,476.9 L1383.7,477.3 L1384.3,477.6 L1385.0,477.9 L1385.6,478.3 L1386.2,478.6 L1386.8,479.0 L1387.5,479.4 L1388.1,479.8 L1388.7,480.1 L1389.3,480.5 L1390.0,480.9 L1390.6,481.3 L1391.2,481.8 L1391.8,482.2 L1392.4,482.6 L1393.1,483.1 L1393.7,483.5 L1394.3,484.0 L1394.9,484.4 L1395.6,484.9 L1396.2,485.4 L1396.8,485.8 L1397.4,486.3 L1398.1,486.8 L1398.7,487.3 L1399.3,487.8 L1399.9,488.3 L1400.5,488.8 L1401.2,489.3 L1401.8,489.9 L1402.4,490.4 L1403.0,490.9 L1403.7,491.5 L1404.3,492.0 L1404.9,492.5 L1405.5,493.1 L1406.2,493.6 L1406.8,494.2 L1407.4,494.7 L1408.0,495.3 L1408.7,495.9 L1409.3,496.4 L1409.9,497.0 L1410.5,497.6 L1411.1,498.1 L1411.8,498.7 L1412.4,499.3 L1413.0,499.9 L1413.6,500.4 L1414.3,501.0 L1414.9,501.6 L1415.5,502.2 L1416.1,502.7 L1416.8,503.3 L1417.4,503.9 L1418.0,504.5 L1418.6,505.1 L1419.2,505.7 L1419.9,506.2 L1420.5,506.8 L1421.1,507.4 L1421.7,508.0 L1422.4,508.5 L1423.0,509.1 L1423.6,509.7 L1424.2,510.3 L1424.9,510.8 L1425.5,511.4 L1426.1,512.0 L1426.7,512.5 L1427.4,513.1 L1428.0,513.6 L1428.6,514.2 L1429.2,514.8 L1429.8,515.3 L1430.5,515.8 L1431.1,516.4 L1431.7,516.9 L1432.3,517.4 L1433.0,518.0 L1433.6,518.5 L1434.2,519.0 L1434.8,519.5 L1435.5,520.0 L1436.1,520.5 L1436.7,521.0 L1437.3,521.5 L1437.9,522.0 L1438.6,522.5 L1439.2,523.0 L1439.8,523.4 L1440.4,523.9 L1441.1,524.3 L1441.7,524.8 L1442.3,525.2 L1442.9,525.7 L1443.6,526.1 L1444.2,526.5 L1444.8,526.9 L1445.4,527.3 L1446.0,527.7 L1446.7,528.1 L1447.3,528.5 L1447.9,528.9 L1448.5,529.2 L1449.2,529.6 L1449.8,529.9 L1450.4,530.3 L1451.0,530.6 L1451.7,530.9 L1452.3,531.2 L1452.9,531.5 L1453.5,531.8 L1454.2,532.1 L1454.8,532.4 L1455.4,532.7 L1456.0,532.9 L1456.6,533.2 L1457.3,533.4 L1457.9,533.7 L1458.5,533.9 L1459.1,534.1 L1459.8,534.3 L1460.4,534.5 L1461.0,534.7 L1461.6,534.8 L1462.3,535.0 L1462.9,535.2 L1463.5,535.3 L1464.1,535.4 L1464.7,535.6 L1465.4,535.7 L1466.0,535.8 L1466.6,535.9 L1467.2,535.9 L1467.9,536.0 L1468.5,536.1 L1469.1,536.1 L1469.7,536.2 L1470.4,536.2 L1471.0,536.2 L1471.6,536.2 L1472.2,536.2 L1472.9,536.2 L1473.5,536.2 L1474.1,536.1 L1474.7,536.1 L1475.3,536.0 L1476.0,536.0 L1476.6,535.9 L1477.2,535.8 L1477.8,535.7 L1478.5,535.6 L1479.1,535.5 L1479.7,535.3 L1480.3,535.2 L1481.0,535.1 L1481.6,534.9 L1482.2,534.7 L1482.8,534.6 L1483.4,534.4 L1484.1,534.2 L1484.7,534.0 L1485.3,533.7 L1485.9,533.5 L1486.6,533.3 L1487.2,533.0 L1487.8,532.8 L1488.4,532.5 L1489.1,532.2 L1489.7,531.9 L1490.3,531.6 L1490.9,531.3 L1491.5,531.0 L1492.2,530.7 L1492.8,530.4 L1493.4,530.0 L1494.0,529.7 L1494.7,529.3 L1495.3,529.0 L1495.9,528.6 L1496.5,528.2 L1497.2,527.8 L1497.8,527.5 L1498.4,527.1 L1499.0,526.6 L1499.7,526.2 L1500.3,525.8 L1500.9,525.4 L1501.5,524.9 L1502.1,524.5 L1502.8,524.0 L1503.4,523.6 L1504.0,523.1 L1504.6,522.6 L1505.3,522.2 L1505.9,521.7 L1506.5,521.2 L1507.1,520.7 L1507.8,520.2 L1508.4,519.7 L1509.0,519.2 L1509.6,518.7 L1510.2,518.1 L1510.9,517.6 L1511.5,517.1 L1512.1,516.6 L1512.7,516.0 L1513.4,515.5 L1514.0,514.9 L1514.6,514.4 L1515.2,513.8 L1515.9,513.3 L1516.5,512.7 L1517.1,512.2 L1517.7,511.6 L1518.3,511.0 L1519.0,510.5 L1519.6,509.9 L1520.2,509.3 L1520.8,508.7 L1521.5,508.2 L1522.1,507.6 L1522.7,507.0 L1523.3,506.4 L1524.0,505.8 L1524.6,505.3 L1525.2,504.7 L1525.8,504.1 L1526.5,503.5 L1527.1,502.9 L1527.7,502.4 L1528.3,501.8 L1528.9,501.2 L1529.6,500.6 L1530.2,500.0 L1530.8,499.5 L1531.4,498.9 L1532.1,498.3 L1532.7,497.7 L1533.3,497.2 L1533.9,496.6 L1534.6,496.0 L1535.2,495.5 L1535.8,494.9 L1536.4,494.4 L1537.0,493.8 L1537.7,493.3 L1538.3,492.7 L1538.9,492.2 L1539.5,491.6 L1540.2,491.1 L1540.8,490.6 L1541.4,490.0 L1542.0,489.5 L1542.7,489.0 L1543.3,488.5 L1543.9,488.0 L1544.5,487.5 L1545.2,487.0 L1545.8,486.5 L1546.4,486.0 L1547.0,485.5 L1547.6,485.0 L1548.3,484.6 L1548.9,484.1 L1549.5,483.7 L1550.1,483.2 L1550.8,482.8 L1551.4,482.3 L1552.0,481.9 L1552.6,481.5 L1553.3,481.1 L1553.9,480.7 L1554.5,480.3 L1555.1,479.9 L1555.7,479.5 L1556.4,479.1 L1557.0,478.8 L1557.6,478.4 L1558.2,478.0 L1558.9,477.7 L1559.5,477.4 L1560.1,477.0 L1560.7,476.7 L1561.4,476.4 L1562.0,476.1 L1562.6,475.8 L1563.2,475.6 L1563.8,475.3 L1564.5,475.0 L1565.1,474.8 L1565.7,474.5 L1566.3,474.3 L1567.0,474.1 L1567.6,473.9 L1568.2,473.7 L1568.8,473.5 L1569.5,473.3 L1570.1,473.1 L1570.7,472.9 L1571.3,472.8 L1572.0,472.6 L1572.6,472.5 L1573.2,472.4 L1573.8,472.3 L1574.4,472.2 L1575.1,472.1 L1575.7,472.0 L1576.3,471.9 L1576.9,471.9 L1577.6,471.8 L1578.2,471.8 L1578.8,471.7 L1579.4,471.7 L1580.1,471.7 L1580.7,471.7 L1581.3,471.7 L1581.9,471.8 L1582.5,471.8 L1583.2,471.8 L1583.8,471.9 L1584.4,471.9 L1585.0,472.0 L1585.7,472.1 L1586.3,472.2 L1586.9,472.3 L1587.5,472.4 L1588.2,472.6 L1588.8,472.7 L1589.4,472.8 L1590.0,473.0 L1590.7,473.2 L1591.3,473.3 L1591.9,473.5 L1592.5,473.7 L1593.1,473.9 L1593.8,474.1 L1594.4,474.4 L1595.0,474.6 L1595.6,474.9 L1596.3,475.1 L1596.9,475.4 L1597.5,475.6 L1598.1,475.9 L1598.8,476.2 L1599.4,476.5 L1600.0,476.8 L1600.6,477.2 L1601.2,477.5 L1601.9,477.8 L1602.5,478.2 L1603.1,478.5 L1603.7,478.9 L1604.4,479.2 L1605.0,479.6 L1605.6,480.0 L1606.2,480.4 L1606.9,480.8 L1607.5,481.2 L1608.1,481.6 L1608.7,482.0 L1609.3,482.5 L1610.0,482.9 L1610.6,483.4 L1611.2,483.8 L1611.8,484.3 L1612.5,484.7 L1613.1,485.2 L1613.7,485.7 L1614.3,486.2 L1615.0,486.6 L1615.6,487.1 L1616.2,487.6 L1616.8,488.1 L1617.5,488.7 L1618.1,489.2 L1618.7,489.7 L1619.3,490.2 L1619.9,490.7 L1620.6,491.3 L1621.2,491.8 L1621.8,492.4 L1622.4,492.9 L1623.1,493.4 L1623.7,494.0 L1624.3,494.6 L1624.9,495.1 L1625.6,495.7 L1626.2,496.2 L1626.8,496.8 L1627.4,497.4 L1628.0,497.9 L1628.7,498.5 L1629.3,499.1 L1629.9,499.7 L1630.5,500.2 L1631.2,500.8 L1631.8,501.4 L1632.4,502.0 L1633.0,502.6 L1633.7,503.1 L1634.3,503.7 L1634.9,504.3 L1635.5,504.9 L1636.1,505.5 L1636.8,506.0 L1637.4,506.6 L1638.0,507.2 L1638.6,507.8 L1639.3,508.4 L1639.9,508.9 L1640.5,509.5 L1641.1,510.1 L1641.8,510.6 L1642.4,511.2 L1643.0,511.8 L1643.6,512.3 L1644.3,512.9 L1644.9,513.5 L1645.5,514.0 L1646.1,514.6 L1646.7,515.1 L1647.4,515.7 L1648.0,516.2 L1648.6,516.7 L1649.2,517.3 L1649.9,517.8 L1650.5,518.3 L1651.1,518.8 L1651.7,519.3 L1652.4,519.9 L1653.0,520.4 L1653.6,520.9 L1654.2,521.4 L1654.8,521.8 L1655.5,522.3 L1656.1,522.8 L1656.7,523.3 L1657.3,523.7 L1658.0,524.2 L1658.6,524.6 L1659.2,525.1 L1659.8,525.5 L1660.5,525.9 L1661.1,526.4 L1661.7,526.8 L1662.3,527.2 L1663.0,527.6 L1663.6,528.0 L1664.2,528.4 L1664.8,528.7 L1665.4,529.1 L1666.1,529.5 L1666.7,529.8 L1667.3,530.2 L1667.9,530.5 L1668.6,530.8 L1669.2,531.1 L1669.8,531.4 L1670.4,531.7 L1671.1,532.0 L1671.7,532.3 L1672.3,532.6 L1672.9,532.9 L1673.5,533.1 L1674.2,533.4 L1674.8,533.6 L1675.4,533.8 L1676.0,534.0 L1676.7,534.2 L1677.3,534.4 L1677.9,534.6 L1678.5,534.8 L1679.2,535.0 L1679.8,535.1 L1680.4,535.3 L1681.0,535.4 L1681.6,535.5 L1682.3,535.6 L1682.9,535.7 L1683.5,535.8 L1684.1,535.9 L1684.8,536.0 L1685.4,536.0 L1686.0,536.1 L1686.6,536.1 L1687.3,536.2 L1687.9,536.2 L1688.5,536.2 L1689.1,536.2 L1689.8,536.2 L1690.4,536.2 L1691.0,536.1 L1691.6,536.1 L1692.2,536.0 L1692.9,536.0 L1693.5,535.9 L1694.1,535.8 L1694.7,535.7 L1695.4,535.6 L1696.0,535.5 L1696.6,535.4 L1697.2,535.3 L1697.9,535.1 L1698.5,535.0 L1699.1,534.8 L1699.7,534.6 L1700.3,534.4 L1701.0,534.2 L1701.6,534.0 L1702.2,533.8 L1702.8,533.6 L1703.5,533.4 L1704.1,533.1 L1704.7,532.9 L1705.3,532.6 L1706.0,532.3 L1706.6,532.0 L1707.2,531.7 L1707.8,531.4 L1708.5,531.1 L1709.1,530.8 L1709.7,530.5 L1710.3,530.2 L1710.9,529.8 L1711.6,529.5 L1712.2,529.1 L1712.8,528.7 L1713.4,528.4 L1714.1,528.0 L1714.7,527.6 L1715.3,527.2 L1715.9,526.8 L1716.6,526.4 L1717.2,525.9 L1717.8,525.5 L1718.4,525.1 L1719.0,524.6 L1719.7,524.2 L1720.3,523.7 L1720.9,523.3 L1721.5,522.8 L1722.2,522.3 L1722.8,521.8 L1723.4,521.4 L1724.0,520.9 L1724.7,520.4 L1725.3,519.9 L1725.9,519.3 L1726.5,518.8 L1727.1,518.3 L1727.8,517.8 L1728.4,517.3 L1729.0,516.7 L1729.6,516.2 L1730.3,515.7 L1730.9,515.1 L1731.5,514.6 L1732.1,514.0 L1732.8,513.5 L1733.4,512.9 L1734.0,512.3 L1734.6,511.8 L1735.3,511.2 L1735.9,510.6 L1736.5,510.1 L1737.1,509.5 L1737.7,508.9 L1738.4,508.4 L1739.0,507.8 L1739.6,507.2 L1740.2,506.6 L1740.9,506.0 L1741.5,505.5 L1742.1,504.9 L1742.7,504.3 L1743.4,503.7 L1744.0,503.1 L1744.6,502.6 L1745.2,502.0 L1745.8,501.4 L1746.5,500.8 L1747.1,500.2 L1747.7,499.7 L1748.3,499.1 L1749.0,498.5 L1749.6,497.9 L1750.2,497.4 L1750.8,496.8 L1751.5,496.2 L1752.1,495.7 L1752.7,495.1 L1753.3,494.6 L1753.9,494.0 L1754.6,493.4 L1755.2,492.9 L1755.8,492.4 L1756.4,491.8 L1757.1,491.3 L1757.7,490.7 L1758.3,490.2 L1758.9,489.7 L1759.6,489.2 L1760.2,488.7 L1760.8,488.1 L1761.4,487.6 L1762.1,487.1 L1762.7,486.6 L1763.3,486.2 L1763.9,485.7 L1764.5,485.2 L1765.2,484.7 L1765.8,484.3 L1766.4,483.8 L1767.0,483.4 L1767.7,482.9 L1768.3,482.5 L1768.9,482.0 L1769.5,481.6 L1770.2,481.2 L1770.8,480.8 L1771.4,480.4 L1772.0,480.0 L1772.6,479.6 L1773.3,479.2 L1773.9,478.9 L1774.5,478.5 L1775.1,478.2 L1775.8,477.8 L1776.4,477.5 L1777.0,477.2 L1777.6,476.8 L1778.3,476.5 L1778.9,476.2 L1779.5,475.9 L1780.1,475.6 L1780.8,475.4 L1781.4,475.1 L1782.0,474.9 L1782.6,474.6 L1783.2,474.4 L1783.9,474.1 L1784.5,473.9 L1785.1,473.7 L1785.7,473.5 L1786.4,473.3 L1787.0,473.2 L1787.6,473.0 L1788.2,472.8 L1788.9,472.7 L1789.5,472.6 L1790.1,472.4" stroke="#00f" stroke-width="11.7"/>
</g>
<g font-size="69px">
<text x="229.9" y="1297.5" text-anchor="middle">0</text>
<text x="750.3" y="1297.5" text-anchor="middle">50</text>
<text x="1271.2" y="1297.5" text-anchor="middle">100</text>
<text x="1791.8" y="1297.5" text-anchor="middle">150</text>
<text x="194.5" y="62.7" text-anchor="end">4</text>
<text x="194.5" y="294.7" text-anchor="end">2</text>
<text x="194.5" y="526.7" text-anchor="end">0</text>
<text x="197" y="758.6" text-anchor="end">-2</text>
<text x="197" y="990.6" text-anchor="end">-4</text>
<text x="197" y="1222.6" text-anchor="end">-6</text>
</g>
<text x="1007.2" y="1397" font-size="77px" text-anchor="middle">time (s)</text>
<text transform="translate(68.5,798.5) rotate(-90)" font-size="76px">error e<tspan font-size="61px" dy="33">y</tspan><tspan dy="-33" dx="4"> (m)</tspan></text>
<g fill="none" stroke-width="10.4">
<path d="M415.1,108.7 H677" stroke="#0ff" stroke-dasharray="52.5 19.5 13.5 19.5"/>
<path d="M415.1,184.8 H677" stroke="#f00" stroke-dasharray="52.5 19.5 13.5 19.5"/>
<path d="M415.1,259.7 H677" stroke="#00f" stroke-width="11.7"/>
</g>
<g font-style="italic">
<text x="697.3" y="130.7" font-size="62.5px" style="fill:#000">BSC</text>
<text x="698" y="205.7" font-size="62.5px" style="fill:#000">RA-BSC</text>
<text x="695.6" y="281.8" font-size="63.3px" style="fill:#000">RAS-BSC</text>
</g>
<rect x="420.6" y="726.0" width="653.1" height="347.79999999999995" fill="#fff"/>
<g stroke="rgba(38,38,38,0.15)" stroke-width="3.2" fill="none">
<line x1="504.9" y1="726.0" x2="504.9" y2="1073.8"/>
<line x1="685.0" y1="726.0" x2="685.0" y2="1073.8"/>
<line x1="865.1" y1="726.0" x2="865.1" y2="1073.8"/>
<line x1="1045.2" y1="726.0" x2="1045.2" y2="1073.8"/>
<line x1="420.6" y1="775.6" x2="1073.7" y2="775.6"/>
<line x1="420.6" y1="871.3" x2="1073.7" y2="871.3"/>
<line x1="420.6" y1="967.0" x2="1073.7" y2="967.0"/>
<line x1="420.6" y1="1062.7" x2="1073.7" y2="1062.7"/>
</g>
<g stroke="#262626" stroke-width="3.3" fill="none">
<path d="M420.6,726.0 V1075.3999999999999"/>
<path d="M419.0,1073.8 H1075.7"/>
<line x1="504.9" y1="1073.8" x2="504.9" y2="1065.8"/>
<line x1="685.0" y1="1073.8" x2="685.0" y2="1065.8"/>
<line x1="865.1" y1="1073.8" x2="865.1" y2="1065.8"/>
<line x1="1045.2" y1="1073.8" x2="1045.2" y2="1065.8"/>
<line x1="420.6" y1="775.6" x2="429.1" y2="775.6"/>
<line x1="420.6" y1="871.3" x2="429.1" y2="871.3"/>
<line x1="420.6" y1="967.0" x2="429.1" y2="967.0"/>
<line x1="420.6" y1="1062.7" x2="429.1" y2="1062.7"/>
</g>
<g clip-path="url(#ci)" fill="none" stroke-width="8.7" stroke-linejoin="round">
<path d="M420.6,967.4 L422.1,967.4 L423.5,967.4 L424.9,967.4 L426.4,967.4 L427.8,967.4 L429.3,967.4 L430.7,967.3 L432.1,967.3 L433.6,967.3 L435.0,967.3 L436.5,967.3 L437.9,967.3 L439.3,967.3 L440.8,967.3 L442.2,967.2 L443.7,967.2 L445.1,967.2 L446.5,967.2 L448.0,967.2 L449.4,967.2 L450.9,967.2 L452.3,967.2 L453.8,967.2 L455.2,967.2 L456.6,967.1 L458.1,967.1 L459.5,967.1 L461.0,967.1 L462.4,967.1 L463.8,967.1 L465.3,967.1 L466.7,967.1 L468.2,967.1 L469.6,967.1 L471.0,967.1 L472.5,967.1 L473.9,967.1 L475.4,967.1 L476.8,967.0 L478.2,967.0 L479.7,967.0 L481.1,967.0 L482.6,967.0 L484.0,967.0 L485.4,967.0 L486.9,967.0 L488.3,967.0 L489.8,967.0 L491.2,967.0 L492.7,967.0 L494.1,967.0 L495.5,967.0 L497.0,967.0 L498.4,967.0 L499.9,967.0 L501.3,967.0 L502.7,967.0 L504.2,967.0 L505.6,967.0 L507.1,967.0 L508.5,967.0 L509.9,967.0 L511.4,967.0 L512.8,967.0 L514.3,967.0 L515.7,967.0 L517.1,967.0 L518.6,967.0 L520.0,967.0 L521.5,967.0 L522.9,967.0 L524.4,967.0 L525.8,967.0 L527.2,967.0 L528.7,967.0 L530.1,967.0 L531.6,967.0 L533.0,967.0 L534.4,967.0 L535.9,967.0 L537.3,967.0 L538.8,967.0 L540.2,967.0 L541.6,967.0 L543.1,967.0 L544.5,967.0 L546.0,967.0 L547.4,967.0 L548.8,967.0 L550.3,967.0 L551.7,967.0 L553.2,967.0 L554.6,967.0 L556.0,967.0 L557.5,967.0 L558.9,967.0 L560.4,967.0 L561.8,967.0 L563.3,967.0 L564.7,967.0 L566.1,967.0 L567.6,967.0 L569.0,967.0 L570.5,967.0 L571.9,967.0 L573.3,967.0 L574.8,967.0 L576.2,967.0 L577.7,967.0 L579.1,967.0 L580.5,967.0 L582.0,967.0 L583.4,967.0 L584.9,967.0 L586.3,967.0 L587.7,967.0 L589.2,967.0 L590.6,967.0 L592.1,967.0 L593.5,967.0 L595.0,967.0 L596.4,967.0 L597.8,967.0 L599.3,967.0 L600.7,967.0 L602.2,967.0 L603.6,967.0 L605.0,967.0 L606.5,967.0 L607.9,967.0 L609.4,967.0 L610.8,967.0 L612.2,967.0 L613.7,967.0 L615.1,967.0 L616.6,967.0 L618.0,967.0 L619.4,967.0 L620.9,967.0 L622.3,967.0 L623.8,967.0 L625.2,967.0 L626.6,967.0 L628.1,967.0 L629.5,967.0 L631.0,967.0 L632.4,967.0 L633.9,967.0 L635.3,967.0 L636.7,967.0 L638.2,967.0 L639.6,967.0 L641.1,967.0 L642.5,967.0 L643.9,967.0 L645.4,967.0 L646.8,967.0 L648.3,967.0 L649.7,967.0 L651.1,967.0 L652.6,967.0 L654.0,967.0 L655.5,967.0 L656.9,967.0 L658.3,967.0 L659.8,967.0 L661.2,967.0 L662.7,967.0 L664.1,967.0 L665.5,967.0 L667.0,967.0 L668.4,967.0 L669.9,967.0 L671.3,967.0 L672.8,967.0 L674.2,967.0 L675.6,967.0 L677.1,967.0 L678.5,967.0 L680.0,967.0 L681.4,967.0 L682.8,967.0 L684.3,967.0 L685.7,967.0 L687.2,967.0 L688.6,967.0 L690.0,967.0 L691.5,967.0 L692.9,967.0 L694.4,967.0 L695.8,967.0 L697.2,967.0 L698.7,967.0 L700.1,967.0 L701.6,967.0 L703.0,967.0 L704.5,967.0 L705.9,967.0 L707.3,967.0 L708.8,967.0 L710.2,967.0 L711.7,967.0 L713.1,967.0 L714.5,967.0 L716.0,967.0 L717.4,967.0 L718.9,967.0 L720.3,967.0 L721.7,967.0 L723.2,967.0 L724.6,967.0 L726.1,967.0 L727.5,967.0 L728.9,967.0 L730.4,967.0 L731.8,967.0 L733.3,967.0 L734.7,967.0 L736.1,967.0 L737.6,967.0 L739.0,967.0 L740.5,967.0 L741.9,967.0 L743.4,967.0 L744.8,967.0 L746.2,967.0 L747.7,967.0 L749.1,967.0 L750.6,967.0 L752.0,967.0 L753.4,967.0 L754.9,967.0 L756.3,967.0 L757.8,967.0 L759.2,967.0 L760.6,967.0 L762.1,967.0 L763.5,967.0 L765.0,967.0 L766.4,967.0 L767.8,967.0 L769.3,967.0 L770.7,967.0 L772.2,967.0 L773.6,967.0 L775.0,967.0 L776.5,967.0 L777.9,967.0 L779.4,967.0 L780.8,967.0 L782.3,967.0 L783.7,967.0 L785.1,967.0 L786.6,967.0 L788.0,967.0 L789.5,967.0 L790.9,967.0 L792.3,967.0 L793.8,967.0 L795.2,967.0 L796.7,967.0 L798.1,967.0 L799.5,967.0 L801.0,967.0 L802.4,967.0 L803.9,967.0 L805.3,967.0 L806.7,967.0 L808.2,967.0 L809.6,967.0 L811.1,967.0 L812.5,967.0 L814.0,967.0 L815.4,967.0 L816.8,967.0 L818.3,967.0 L819.7,967.0 L821.2,967.0 L822.6,967.0 L824.0,967.0 L825.5,967.0 L826.9,967.0 L828.4,967.0 L829.8,967.0 L831.2,967.0 L832.7,967.0 L834.1,967.0 L835.6,967.0 L837.0,967.0 L838.4,967.0 L839.9,967.0 L841.3,967.0 L842.8,967.0 L844.2,967.0 L845.6,967.0 L847.1,967.0 L848.5,967.0 L850.0,967.0 L851.4,967.0 L852.9,967.0 L854.3,967.0 L855.7,967.0 L857.2,967.0 L858.6,967.0 L860.1,967.0 L861.5,967.0 L862.9,967.0 L864.4,967.0 L865.8,967.0 L867.3,967.0 L868.7,967.0 L870.1,967.0 L871.6,967.0 L873.0,967.0 L874.5,967.0 L875.9,967.0 L877.3,967.0 L878.8,967.0 L880.2,967.0 L881.7,967.0 L883.1,967.0 L884.6,967.0 L886.0,967.0 L887.4,967.0 L888.9,967.0 L890.3,967.0 L891.8,967.0 L893.2,967.0 L894.6,967.0 L896.1,967.0 L897.5,967.0 L899.0,967.0 L900.4,967.0 L901.8,967.0 L903.3,967.0 L904.7,967.0 L906.2,967.0 L907.6,967.0 L909.0,967.0 L910.5,967.0 L911.9,967.0 L913.4,967.0 L914.8,967.0 L916.2,967.0 L917.7,967.0 L919.1,967.0 L920.6,967.0 L922.0,967.0 L923.5,967.0 L924.9,967.0 L926.3,967.0 L927.8,967.0 L929.2,967.0 L930.7,967.0 L932.1,967.0 L933.5,967.0 L935.0,967.0 L936.4,967.0 L937.9,967.0 L939.3,967.0 L940.7,967.0 L942.2,967.0 L943.6,967.0 L945.1,967.0 L946.5,967.0 L947.9,967.0 L949.4,967.0 L950.8,967.0 L952.3,967.0 L953.7,967.0 L955.2,967.0 L956.6,967.0 L958.0,967.0 L959.5,967.0 L960.9,967.0 L962.4,967.0 L963.8,967.0 L965.2,967.0 L966.7,967.0 L968.1,967.0 L969.6,967.0 L971.0,967.0 L972.4,967.0 L973.9,967.0 L975.3,967.0 L976.8,967.0 L978.2,967.0 L979.6,967.0 L981.1,967.0 L982.5,967.0 L984.0,967.0 L985.4,967.0 L986.8,967.0 L988.3,967.0 L989.7,967.0 L991.2,967.0 L992.6,967.0 L994.1,967.0 L995.5,967.0 L996.9,967.0 L998.4,967.0 L999.8,967.0 L1001.3,967.0 L1002.7,967.0 L1004.1,967.0 L1005.6,967.0 L1007.0,967.0 L1008.5,967.0 L1009.9,967.0 L1011.3,967.0 L1012.8,967.0 L1014.2,967.0 L1015.7,967.0 L1017.1,967.0 L1018.5,967.0 L1020.0,967.0 L1021.4,967.0 L1022.9,967.0 L1024.3,967.0 L1025.7,967.0 L1027.2,967.0 L1028.6,967.0 L1030.1,967.0 L1031.5,967.0 L1033.0,967.0 L1034.4,967.0 L1035.8,967.0 L1037.3,967.0 L1038.7,967.0 L1040.2,967.0 L1041.6,967.0 L1043.0,967.0 L1044.5,967.0 L1045.9,967.0 L1047.4,967.0 L1048.8,967.0 L1050.2,967.0 L1051.7,967.0 L1053.1,967.0 L1054.6,967.0 L1056.0,967.0 L1057.4,967.0 L1058.9,967.0 L1060.3,967.0 L1061.8,967.0 L1063.2,967.0 L1064.7,967.0 L1066.1,967.0 L1067.5,967.0 L1069.0,967.0 L1070.4,967.0 L1071.9,967.0 L1073.3,967.0" stroke="#0ff" stroke-dasharray="44 17.3 10.7 17.3"/>
<path d="M420.6,560.7 L422.1,564.8 L423.5,568.8 L424.9,572.7 L426.4,576.6 L427.8,580.3 L429.3,584.1 L430.7,587.8 L432.1,591.4 L433.6,595.0 L435.0,598.7 L436.5,602.2 L437.9,605.8 L439.3,609.4 L440.8,613.0 L442.2,616.7 L443.7,620.3 L445.1,624.0 L446.5,627.7 L448.0,631.5 L449.4,635.4 L450.9,639.2 L452.3,643.1 L453.8,647.0 L455.2,650.9 L456.6,654.7 L458.1,658.5 L459.5,662.3 L461.0,666.0 L462.4,669.6 L463.8,673.1 L465.3,676.6 L466.7,680.1 L468.2,683.5 L469.6,686.9 L471.0,690.2 L472.5,693.5 L473.9,696.8 L475.4,700.0 L476.8,703.2 L478.2,706.3 L479.7,709.4 L481.1,712.5 L482.6,715.6 L484.0,718.6 L485.4,721.5 L486.9,724.5 L488.3,727.3 L489.8,730.2 L491.2,733.0 L492.7,735.8 L494.1,738.6 L495.5,741.3 L497.0,744.0 L498.4,746.7 L499.9,749.3 L501.3,751.9 L502.7,754.5 L504.2,757.0 L505.6,759.5 L507.1,762.0 L508.5,764.4 L509.9,766.8 L511.4,769.2 L512.8,771.6 L514.3,773.9 L515.7,776.2 L517.1,778.5 L518.6,780.8 L520.0,783.0 L521.5,785.2 L522.9,787.3 L524.4,789.5 L525.8,791.6 L527.2,793.7 L528.7,795.8 L530.1,797.8 L531.6,799.8 L533.0,801.8 L534.4,803.8 L535.9,805.8 L537.3,807.7 L538.8,809.6 L540.2,811.5 L541.6,813.3 L543.1,815.2 L544.5,817.0 L546.0,818.8 L547.4,820.6 L548.8,822.3 L550.3,824.1 L551.7,825.8 L553.2,827.5 L554.6,829.1 L556.0,830.8 L557.5,832.4 L558.9,834.0 L560.4,835.6 L561.8,837.2 L563.3,838.8 L564.7,840.3 L566.1,841.8 L567.6,843.4 L569.0,844.8 L570.5,846.3 L571.9,847.8 L573.3,849.2 L574.8,850.6 L576.2,852.0 L577.7,853.4 L579.1,854.8 L580.5,856.2 L582.0,857.5 L583.4,858.8 L584.9,860.2 L586.3,861.5 L587.7,862.7 L589.2,864.0 L590.6,865.3 L592.1,866.5 L593.5,867.7 L595.0,869.0 L596.4,870.2 L597.8,871.4 L599.3,872.5 L600.7,873.7 L602.2,874.9 L603.6,876.0 L605.0,877.1 L606.5,878.2 L607.9,879.3 L609.4,880.4 L610.8,881.5 L612.2,882.6 L613.7,883.6 L615.1,884.7 L616.6,885.7 L618.0,886.7 L619.4,887.8 L620.9,888.8 L622.3,889.7 L623.8,890.7 L625.2,891.7 L626.6,892.7 L628.1,893.6 L629.5,894.6 L631.0,895.5 L632.4,896.4 L633.9,897.3 L635.3,898.2 L636.7,899.1 L638.2,900.0 L639.6,900.9 L641.1,901.7 L642.5,902.6 L643.9,903.5 L645.4,904.3 L646.8,905.1 L648.3,905.9 L649.7,906.8 L651.1,907.6 L652.6,908.4 L654.0,909.1 L655.5,909.9 L656.9,910.7 L658.3,911.5 L659.8,912.2 L661.2,913.0 L662.7,913.7 L664.1,914.4 L665.5,915.2 L667.0,915.9 L668.4,916.6 L669.9,917.3 L671.3,918.0 L672.8,918.6 L674.2,919.3 L675.6,920.0 L677.1,920.6 L678.5,921.3 L680.0,921.9 L681.4,922.6 L682.8,923.2 L684.3,923.8 L685.7,924.4 L687.2,925.0 L688.6,925.6 L690.0,926.2 L691.5,926.8 L692.9,927.3 L694.4,927.9 L695.8,928.4 L697.2,929.0 L698.7,929.5 L700.1,930.1 L701.6,930.6 L703.0,931.1 L704.5,931.6 L705.9,932.1 L707.3,932.6 L708.8,933.1 L710.2,933.6 L711.7,934.0 L713.1,934.5 L714.5,934.9 L716.0,935.4 L717.4,935.8 L718.9,936.3 L720.3,936.7 L721.7,937.1 L723.2,937.5 L724.6,937.9 L726.1,938.3 L727.5,938.7 L728.9,939.1 L730.4,939.5 L731.8,939.8 L733.3,940.2 L734.7,940.6 L736.1,940.9 L737.6,941.2 L739.0,941.6 L740.5,941.9 L741.9,942.2 L743.4,942.5 L744.8,942.9 L746.2,943.2 L747.7,943.5 L749.1,943.8 L750.6,944.0 L752.0,944.3 L753.4,944.6 L754.9,944.9 L756.3,945.1 L757.8,945.4 L759.2,945.7 L760.6,945.9 L762.1,946.2 L763.5,946.4 L765.0,946.6 L766.4,946.9 L767.8,947.1 L769.3,947.3 L770.7,947.5 L772.2,947.7 L773.6,948.0 L775.0,948.2 L776.5,948.4 L777.9,948.6 L779.4,948.8 L780.8,949.0 L782.3,949.2 L783.7,949.3 L785.1,949.5 L786.6,949.7 L788.0,949.9 L789.5,950.1 L790.9,950.2 L792.3,950.4 L793.8,950.6 L795.2,950.7 L796.7,950.9 L798.1,951.1 L799.5,951.2 L801.0,951.4 L802.4,951.5 L803.9,951.7 L805.3,951.8 L806.7,952.0 L808.2,952.1 L809.6,952.3 L811.1,952.4 L812.5,952.5 L814.0,952.7 L815.4,952.8 L816.8,953.0 L818.3,953.1 L819.7,953.2 L821.2,953.4 L822.6,953.5 L824.0,953.6 L825.5,953.8 L826.9,953.9 L828.4,954.0 L829.8,954.1 L831.2,954.3 L832.7,954.4 L834.1,954.5 L835.6,954.6 L837.0,954.8 L838.4,954.9 L839.9,955.0 L841.3,955.1 L842.8,955.2 L844.2,955.4 L845.6,955.5 L847.1,955.6 L848.5,955.7 L850.0,955.8 L851.4,955.9 L852.9,956.0 L854.3,956.2 L855.7,956.3 L857.2,956.4 L858.6,956.5 L860.1,956.6 L861.5,956.7 L862.9,956.8 L864.4,956.9 L865.8,957.0 L867.3,957.1 L868.7,957.2 L870.1,957.3 L871.6,957.4 L873.0,957.5 L874.5,957.6 L875.9,957.8 L877.3,957.9 L878.8,957.9 L880.2,958.0 L881.7,958.1 L883.1,958.2 L884.6,958.3 L886.0,958.4 L887.4,958.5 L888.9,958.6 L890.3,958.7 L891.8,958.8 L893.2,958.9 L894.6,959.0 L896.1,959.1 L897.5,959.2 L899.0,959.3 L900.4,959.3 L901.8,959.4 L903.3,959.5 L904.7,959.6 L906.2,959.7 L907.6,959.8 L909.0,959.9 L910.5,959.9 L911.9,960.0 L913.4,960.1 L914.8,960.2 L916.2,960.3 L917.7,960.3 L919.1,960.4 L920.6,960.5 L922.0,960.6 L923.5,960.6 L924.9,960.7 L926.3,960.8 L927.8,960.9 L929.2,960.9 L930.7,961.0 L932.1,961.1 L933.5,961.1 L935.0,961.2 L936.4,961.3 L937.9,961.3 L939.3,961.4 L940.7,961.5 L942.2,961.5 L943.6,961.6 L945.1,961.7 L946.5,961.7 L947.9,961.8 L949.4,961.9 L950.8,961.9 L952.3,962.0 L953.7,962.0 L955.2,962.1 L956.6,962.2 L958.0,962.2 L959.5,962.3 L960.9,962.3 L962.4,962.4 L963.8,962.4 L965.2,962.5 L966.7,962.5 L968.1,962.6 L969.6,962.6 L971.0,962.7 L972.4,962.8 L973.9,962.8 L975.3,962.9 L976.8,962.9 L978.2,962.9 L979.6,963.0 L981.1,963.0 L982.5,963.1 L984.0,963.1 L985.4,963.2 L986.8,963.2 L988.3,963.3 L989.7,963.3 L991.2,963.4 L992.6,963.4 L994.1,963.4 L995.5,963.5 L996.9,963.5 L998.4,963.6 L999.8,963.6 L1001.3,963.7 L1002.7,963.7 L1004.1,963.7 L1005.6,963.8 L1007.0,963.8 L1008.5,963.9 L1009.9,963.9 L1011.3,963.9 L1012.8,964.0 L1014.2,964.0 L1015.7,964.0 L1017.1,964.1 L1018.5,964.1 L1020.0,964.1 L1021.4,964.2 L1022.9,964.2 L1024.3,964.2 L1025.7,964.3 L1027.2,964.3 L1028.6,964.3 L1030.1,964.4 L1031.5,964.4 L1033.0,964.4 L1034.4,964.5 L1035.8,964.5 L1037.3,964.5 L1038.7,964.6 L1040.2,964.6 L1041.6,964.6 L1043.0,964.6 L1044.5,964.7 L1045.9,964.7 L1047.4,964.7 L1048.8,964.7 L1050.2,964.8 L1051.7,964.8 L1053.1,964.8 L1054.6,964.9 L1056.0,964.9 L1057.4,964.9 L1058.9,964.9 L1060.3,965.0 L1061.8,965.0 L1063.2,965.0 L1064.7,965.0 L1066.1,965.1 L1067.5,965.1 L1069.0,965.1 L1070.4,965.1 L1071.9,965.1 L1073.3,965.2" stroke="#f00" stroke-width="9.3" stroke-dasharray="44 17.3 10.7 17.3" stroke-dashoffset="87.2"/>
<path d="M420.6,886.3 L422.1,887.5 L423.5,888.7 L424.9,889.9 L426.4,891.0 L427.8,892.2 L429.3,893.3 L430.7,894.4 L432.1,895.5 L433.6,896.6 L435.0,897.7 L436.5,898.7 L437.9,899.7 L439.3,900.8 L440.8,901.8 L442.2,902.7 L443.7,903.7 L445.1,904.7 L446.5,905.6 L448.0,906.5 L449.4,907.4 L450.9,908.3 L452.3,909.2 L453.8,910.1 L455.2,911.0 L456.6,911.8 L458.1,912.6 L459.5,913.5 L461.0,914.3 L462.4,915.1 L463.8,915.8 L465.3,916.6 L466.7,917.4 L468.2,918.1 L469.6,918.9 L471.0,919.6 L472.5,920.3 L473.9,921.0 L475.4,921.7 L476.8,922.4 L478.2,923.1 L479.7,923.7 L481.1,924.4 L482.6,925.0 L484.0,925.6 L485.4,926.3 L486.9,926.9 L488.3,927.5 L489.8,928.1 L491.2,928.7 L492.7,929.3 L494.1,929.8 L495.5,930.4 L497.0,930.9 L498.4,931.5 L499.9,932.0 L501.3,932.5 L502.7,933.1 L504.2,933.6 L505.6,934.1 L507.1,934.6 L508.5,935.1 L509.9,935.5 L511.4,936.0 L512.8,936.5 L514.3,936.9 L515.7,937.4 L517.1,937.8 L518.6,938.3 L520.0,938.7 L521.5,939.1 L522.9,939.6 L524.4,940.0 L525.8,940.4 L527.2,940.8 L528.7,941.2 L530.1,941.6 L531.6,942.0 L533.0,942.3 L534.4,942.7 L535.9,943.1 L537.3,943.4 L538.8,943.8 L540.2,944.1 L541.6,944.5 L543.1,944.8 L544.5,945.2 L546.0,945.5 L547.4,945.8 L548.8,946.1 L550.3,946.4 L551.7,946.8 L553.2,947.1 L554.6,947.4 L556.0,947.7 L557.5,948.0 L558.9,948.2 L560.4,948.5 L561.8,948.8 L563.3,949.1 L564.7,949.3 L566.1,949.6 L567.6,949.9 L569.0,950.1 L570.5,950.4 L571.9,950.6 L573.3,950.9 L574.8,951.1 L576.2,951.4 L577.7,951.6 L579.1,951.8 L580.5,952.1 L582.0,952.3 L583.4,952.5 L584.9,952.7 L586.3,952.9 L587.7,953.2 L589.2,953.4 L590.6,953.6 L592.1,953.8 L593.5,954.0 L595.0,954.2 L596.4,954.4 L597.8,954.6 L599.3,954.7 L600.7,954.9 L602.2,955.1 L603.6,955.3 L605.0,955.5 L606.5,955.6 L607.9,955.8 L609.4,956.0 L610.8,956.1 L612.2,956.3 L613.7,956.5 L615.1,956.6 L616.6,956.8 L618.0,956.9 L619.4,957.1 L620.9,957.2 L622.3,957.4 L623.8,957.5 L625.2,957.7 L626.6,957.8 L628.1,958.0 L629.5,958.1 L631.0,958.2 L632.4,958.4 L633.9,958.5 L635.3,958.6 L636.7,958.7 L638.2,958.9 L639.6,959.0 L641.1,959.1 L642.5,959.2 L643.9,959.3 L645.4,959.5 L646.8,959.6 L648.3,959.7 L649.7,959.8 L651.1,959.9 L652.6,960.0 L654.0,960.1 L655.5,960.2 L656.9,960.3 L658.3,960.4 L659.8,960.5 L661.2,960.6 L662.7,960.7 L664.1,960.8 L665.5,960.9 L667.0,961.0 L668.4,961.1 L669.9,961.2 L671.3,961.3 L672.8,961.4 L674.2,961.4 L675.6,961.5 L677.1,961.6 L678.5,961.7 L680.0,961.8 L681.4,961.8 L682.8,961.9 L684.3,962.0 L685.7,962.1 L687.2,962.2 L688.6,962.2 L690.0,962.3 L691.5,962.4 L692.9,962.4 L694.4,962.5 L695.8,962.6 L697.2,962.6 L698.7,962.7 L700.1,962.8 L701.6,962.8 L703.0,962.9 L704.5,963.0 L705.9,963.0 L707.3,963.1 L708.8,963.1 L710.2,963.2 L711.7,963.3 L713.1,963.3 L714.5,963.4 L716.0,963.4 L717.4,963.5 L718.9,963.5 L720.3,963.6 L721.7,963.6 L723.2,963.7 L724.6,963.7 L726.1,963.8 L727.5,963.8 L728.9,963.9 L730.4,963.9 L731.8,964.0 L733.3,964.0 L734.7,964.1 L736.1,964.1 L737.6,964.2 L739.0,964.2 L740.5,964.2 L741.9,964.3 L743.4,964.3 L744.8,964.4 L746.2,964.4 L747.7,964.4 L749.1,964.5 L750.6,964.5 L752.0,964.6 L753.4,964.6 L754.9,964.6 L756.3,964.7 L757.8,964.7 L759.2,964.7 L760.6,964.8 L762.1,964.8 L763.5,964.8 L765.0,964.9 L766.4,964.9 L767.8,964.9 L769.3,965.0 L770.7,965.0 L772.2,965.0 L773.6,965.1 L775.0,965.1 L776.5,965.1 L777.9,965.1 L779.4,965.2 L780.8,965.2 L782.3,965.2 L783.7,965.2 L785.1,965.3 L786.6,965.3 L788.0,965.3 L789.5,965.4 L790.9,965.4 L792.3,965.4 L793.8,965.4 L795.2,965.4 L796.7,965.5 L798.1,965.5 L799.5,965.5 L801.0,965.5 L802.4,965.6 L803.9,965.6 L805.3,965.6 L806.7,965.6 L808.2,965.6 L809.6,965.7 L811.1,965.7 L812.5,965.7 L814.0,965.7 L815.4,965.7 L816.8,965.8 L818.3,965.8 L819.7,965.8 L821.2,965.8 L822.6,965.8 L824.0,965.9 L825.5,965.9 L826.9,965.9 L828.4,965.9 L829.8,965.9 L831.2,965.9 L832.7,966.0 L834.1,966.0 L835.6,966.0 L837.0,966.0 L838.4,966.0 L839.9,966.0 L841.3,966.0 L842.8,966.1 L844.2,966.1 L845.6,966.1 L847.1,966.1 L848.5,966.1 L850.0,966.1 L851.4,966.1 L852.9,966.2 L854.3,966.2 L855.7,966.2 L857.2,966.2 L858.6,966.2 L860.1,966.2 L861.5,966.2 L862.9,966.2 L864.4,966.3 L865.8,966.3 L867.3,966.3 L868.7,966.3 L870.1,966.3 L871.6,966.3 L873.0,966.3 L874.5,966.3 L875.9,966.3 L877.3,966.3 L878.8,966.4 L880.2,966.4 L881.7,966.4 L883.1,966.4 L884.6,966.4 L886.0,966.4 L887.4,966.4 L888.9,966.4 L890.3,966.4 L891.8,966.4 L893.2,966.4 L894.6,966.5 L896.1,966.5 L897.5,966.5 L899.0,966.5 L900.4,966.5 L901.8,966.5 L903.3,966.5 L904.7,966.5 L906.2,966.5 L907.6,966.5 L909.0,966.5 L910.5,966.5 L911.9,966.5 L913.4,966.6 L914.8,966.6 L916.2,966.6 L917.7,966.6 L919.1,966.6 L920.6,966.6 L922.0,966.6 L923.5,966.6 L924.9,966.6 L926.3,966.6 L927.8,966.6 L929.2,966.6 L930.7,966.6 L932.1,966.6 L933.5,966.6 L935.0,966.6 L936.4,966.7 L937.9,966.7 L939.3,966.7 L940.7,966.7 L942.2,966.7 L943.6,966.7 L945.1,966.7 L946.5,966.7 L947.9,966.7 L949.4,966.7 L950.8,966.7 L952.3,966.7 L953.7,966.7 L955.2,966.7 L956.6,966.7 L958.0,966.7 L959.5,966.7 L960.9,966.7 L962.4,966.7 L963.8,966.7 L965.2,966.7 L966.7,966.7 L968.1,966.7 L969.6,966.8 L971.0,966.8 L972.4,966.8 L973.9,966.8 L975.3,966.8 L976.8,966.8 L978.2,966.8 L979.6,966.8 L981.1,966.8 L982.5,966.8 L984.0,966.8 L985.4,966.8 L986.8,966.8 L988.3,966.8 L989.7,966.8 L991.2,966.8 L992.6,966.8 L994.1,966.8 L995.5,966.8 L996.9,966.8 L998.4,966.8 L999.8,966.8 L1001.3,966.8 L1002.7,966.8 L1004.1,966.8 L1005.6,966.8 L1007.0,966.8 L1008.5,966.8 L1009.9,966.8 L1011.3,966.8 L1012.8,966.8 L1014.2,966.8 L1015.7,966.8 L1017.1,966.9 L1018.5,966.9 L1020.0,966.9 L1021.4,966.9 L1022.9,966.9 L1024.3,966.9 L1025.7,966.9 L1027.2,966.9 L1028.6,966.9 L1030.1,966.9 L1031.5,966.9 L1033.0,966.9 L1034.4,966.9 L1035.8,966.9 L1037.3,966.9 L1038.7,966.9 L1040.2,966.9 L1041.6,966.9 L1043.0,966.9 L1044.5,966.9 L1045.9,966.9 L1047.4,966.9 L1048.8,966.9 L1050.2,966.9 L1051.7,966.9 L1053.1,966.9 L1054.6,966.9 L1056.0,966.9 L1057.4,966.9 L1058.9,966.9 L1060.3,966.9 L1061.8,966.9 L1063.2,966.9 L1064.7,966.9 L1066.1,966.9 L1067.5,966.9 L1069.0,966.9 L1070.4,966.9 L1071.9,966.9 L1073.3,966.9" stroke="#00f" stroke-width="11.7"/>
</g>
<g font-size="58.5px">
<text x="504.9" y="1157.4" text-anchor="middle">15</text>
<text x="685.0" y="1157.4" text-anchor="middle">20</text>
<text x="865.1" y="1157.4" text-anchor="middle">25</text>
<text x="1045.2" y="1157.4" text-anchor="middle">30</text>
<text x="388.5" y="795.9" text-anchor="end">0.4</text>
<text x="388.5" y="891.6" text-anchor="end">0.2</text>
<text x="388.5" y="987.3" text-anchor="end">0</text>
<text x="392" y="1083.0" text-anchor="end">-0.2</text>
</g>
<path d="M307,556.6 H622.6 V349.9 H307 Z" fill="none" stroke="#f00" stroke-width="3.6" stroke-dasharray="25 14.5" stroke-dashoffset="1.3"/>
<line x1="483.7" y1="555.8" x2="572" y2="674" stroke="#000" stroke-width="6.6" stroke-linecap="round"/>
<polygon points="593.5,702.8 585.3,655.1 571.1,671.9 549.9,682.4" fill="#000"/>
</svg>
</body></html>
